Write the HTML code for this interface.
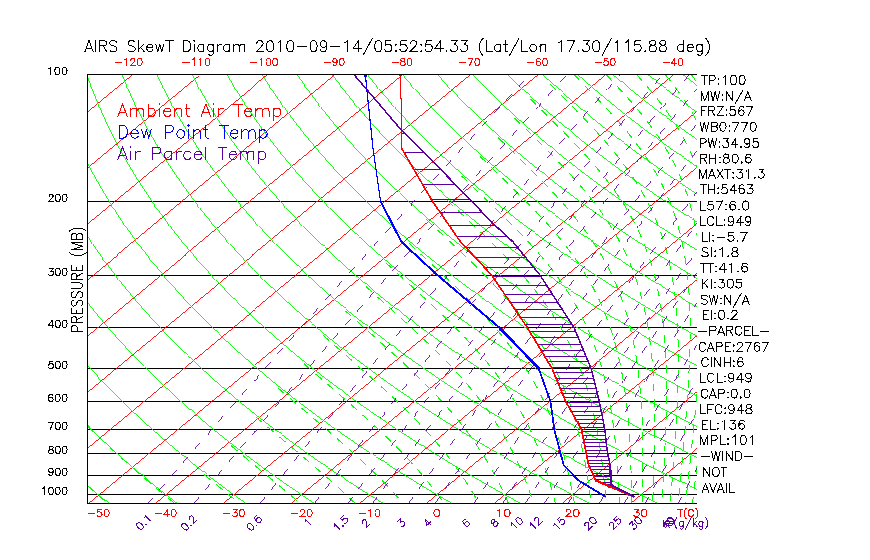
<!DOCTYPE html>
<html><head><meta charset="utf-8"><title>AIRS SkewT Diagram</title>
<style>
html,body{margin:0;padding:0;background:#fff;}
body{width:870px;height:560px;overflow:hidden;font-family:"Liberation Sans",sans-serif;}
svg{display:block;}
svg path{fill:none;stroke-width:1;shape-rendering:crispEdges}
.k{stroke:#000}
.r{stroke:#ff0000;stroke-width:.9}
.g{stroke:#00ff00;stroke-width:.9}
.gd{stroke:#00ff00;stroke-width:1;stroke-dasharray:8 7.5}
.wd{stroke:#5a00a0;stroke-width:.85;stroke-dasharray:8 10}
.hat{stroke:#5a00a0}
svg path.tT{stroke:#ff0000;stroke-linecap:round}svg path.tD{stroke:#0000ff;stroke-linecap:round}svg path.tP{stroke:#5a00a0;stroke-linecap:round}
svg path.tT.f{fill:#ff0000;stroke:none}svg path.tD.f{fill:#0000ff;stroke:none}svg path.tP.f{fill:#5a00a0;stroke:none}
.hpp{stroke:#5a00a0}
.hk path,.hr path,.hb path,.hp path,.hpp{stroke-linecap:square}
.hk path{stroke:#000}.hr path{stroke:#ff0000}.hb path{stroke:#0000ff}.hp path{stroke:#5a00a0}
</style></head><body>
<svg width="870" height="560" viewBox="0 0 870 560" role="img" aria-label="AIRS SkewT Diagram">
<rect width="870" height="560" fill="#fff"/>
<path class="k" d="M87.5 201.5 H697.0 M87.5 275.5 H697.0 M87.5 327.5 H697.0 M87.5 368.5 H697.0 M87.5 401.5 H697.0 M87.5 429.5 H697.0 M87.5 453.5 H697.0 M87.5 475.5 H697.0 M87.5 494.5 H697.0"/>
<path class="r" d="M87.5 111.2 L131.6 74.7 M87.5 167.2 L199.3 74.7 M87.5 223.3 L267.1 74.7 M87.5 279.4 L334.8 74.7 M87.5 335.4 L402.6 74.7 M87.5 391.5 L470.3 74.7 M87.5 447.5 L538.1 74.7 M87.5 503.6 L605.8 74.7 M155.2 503.6 L673.6 74.7 M223.0 503.6 L697.0 111.4 M290.8 503.6 L697.0 167.4 M358.5 503.6 L697.0 223.5 M426.2 503.6 L697.0 279.6 M494.0 503.6 L697.0 335.6 M561.8 503.6 L697.0 391.7 M629.5 503.6 L697.0 447.7"/>
<path class="g" d="M87.5 485.3 L87.8 485.6 L91.9 489.2 L96.1 492.8 L100.2 496.4 L104.5 500.0 L108.8 503.6 M87.5 425.8 L89.7 427.9 L93.4 431.5 L97.1 435.1 L100.9 438.7 L104.8 442.3 L108.7 445.9 L112.6 449.5 L116.6 453.1 L120.6 456.7 L124.7 460.3 L128.8 464.0 L133.0 467.6 L137.2 471.2 L141.5 474.8 L145.8 478.4 L150.2 482.0 L154.6 485.6 L159.1 489.2 L163.6 492.8 L168.2 496.4 L172.8 500.0 L177.5 503.6 M87.5 365.1 L88.8 366.6 L92.1 370.2 L95.5 373.8 L98.8 377.5 L102.2 381.1 L105.7 384.7 L109.2 388.3 L112.7 391.9 L116.3 395.5 L120.0 399.1 L123.6 402.7 L127.4 406.3 L131.1 409.9 L135.0 413.5 L138.8 417.1 L142.7 420.7 L146.7 424.3 L150.7 427.9 L154.8 431.5 L158.9 435.1 L163.0 438.7 L167.2 442.3 L171.4 445.9 L175.7 449.5 L180.1 453.1 L184.5 456.7 L188.9 460.3 L193.4 464.0 L197.9 467.6 L202.5 471.2 L207.2 474.8 L211.9 478.4 L216.6 482.0 L221.4 485.6 L226.3 489.2 L231.2 492.8 L236.1 496.4 L241.1 500.0 L246.2 503.6 M87.5 302.4 L89.8 305.4 L92.7 309.0 L95.6 312.6 L98.5 316.2 L101.5 319.8 L104.5 323.4 L107.6 327.0 L110.7 330.6 L113.9 334.2 L117.1 337.8 L120.3 341.4 L123.6 345.0 L127.0 348.6 L130.3 352.2 L133.8 355.8 L137.2 359.4 L140.7 363.0 L144.3 366.6 L147.9 370.2 L151.5 373.8 L155.2 377.5 L158.9 381.1 L162.7 384.7 L166.5 388.3 L170.4 391.9 L174.3 395.5 L178.3 399.1 L182.3 402.7 L186.4 406.3 L190.5 409.9 L194.6 413.5 L198.8 417.1 L203.1 420.7 L207.4 424.3 L211.7 427.9 L216.1 431.5 L220.6 435.1 L225.1 438.7 L229.6 442.3 L234.2 445.9 L238.9 449.5 L243.6 453.1 L248.3 456.7 L253.1 460.3 L258.0 464.0 L262.9 467.6 L267.8 471.2 L272.8 474.8 L277.9 478.4 L283.0 482.0 L288.2 485.6 L293.4 489.2 L298.7 492.8 L304.0 496.4 L309.4 500.0 L314.9 503.6 M87.5 236.1 L88.0 236.9 L90.4 240.5 L92.8 244.1 L95.3 247.7 L97.8 251.3 L100.3 254.9 L102.9 258.5 L105.5 262.1 L108.2 265.7 L110.9 269.3 L113.6 272.9 L116.4 276.5 L119.2 280.1 L122.1 283.7 L125.0 287.3 L128.0 291.0 L130.9 294.6 L134.0 298.2 L137.0 301.8 L140.1 305.4 L143.3 309.0 L146.5 312.6 L149.7 316.2 L153.0 319.8 L156.3 323.4 L159.7 327.0 L163.1 330.6 L166.6 334.2 L170.1 337.8 L173.6 341.4 L177.2 345.0 L180.8 348.6 L184.5 352.2 L188.2 355.8 L192.0 359.4 L195.8 363.0 L199.7 366.6 L203.6 370.2 L207.6 373.8 L211.6 377.5 L215.6 381.1 L219.7 384.7 L223.9 388.3 L228.1 391.9 L232.3 395.5 L236.6 399.1 L240.9 402.7 L245.3 406.3 L249.8 409.9 L254.3 413.5 L258.8 417.1 L263.4 420.7 L268.0 424.3 L272.7 427.9 L277.5 431.5 L282.3 435.1 L287.1 438.7 L292.0 442.3 L297.0 445.9 L302.0 449.5 L307.0 453.1 L312.1 456.7 L317.3 460.3 L322.5 464.0 L327.8 467.6 L333.1 471.2 L338.5 474.8 L343.9 478.4 L349.4 482.0 L355.0 485.6 L360.6 489.2 L366.3 492.8 L372.0 496.4 L377.7 500.0 L383.6 503.6 M87.5 163.2 L88.3 164.8 L90.2 168.4 L92.2 172.0 L94.1 175.6 L96.1 179.2 L98.2 182.8 L100.2 186.4 L102.4 190.0 L104.5 193.6 L106.7 197.2 L108.9 200.8 L111.2 204.5 L113.5 208.1 L115.8 211.7 L118.2 215.3 L120.6 218.9 L123.0 222.5 L125.5 226.1 L128.1 229.7 L130.6 233.3 L133.2 236.9 L135.9 240.5 L138.6 244.1 L141.3 247.7 L144.1 251.3 L146.9 254.9 L149.7 258.5 L152.6 262.1 L155.5 265.7 L158.5 269.3 L161.5 272.9 L164.5 276.5 L167.6 280.1 L170.8 283.7 L174.0 287.3 L177.2 291.0 L180.4 294.6 L183.7 298.2 L187.1 301.8 L190.5 305.4 L193.9 309.0 L197.4 312.6 L200.9 316.2 L204.5 319.8 L208.1 323.4 L211.8 327.0 L215.5 330.6 L219.3 334.2 L223.0 337.8 L226.9 341.4 L230.8 345.0 L234.7 348.6 L238.7 352.2 L242.7 355.8 L246.8 359.4 L251.0 363.0 L255.1 366.6 L259.4 370.2 L263.6 373.8 L267.9 377.5 L272.3 381.1 L276.7 384.7 L281.2 388.3 L285.7 391.9 L290.3 395.5 L294.9 399.1 L299.6 402.7 L304.3 406.3 L309.1 409.9 L313.9 413.5 L318.8 417.1 L323.7 420.7 L328.7 424.3 L333.7 427.9 L338.8 431.5 L344.0 435.1 L349.2 438.7 L354.4 442.3 L359.7 445.9 L365.1 449.5 L370.5 453.1 L376.0 456.7 L381.5 460.3 L387.1 464.0 L392.7 467.6 L398.4 471.2 L404.2 474.8 L410.0 478.4 L415.8 482.0 L421.8 485.6 L427.8 489.2 L433.8 492.8 L439.9 496.4 L446.1 500.0 L452.3 503.6 M87.5 76.3 L88.2 78.3 L89.5 81.9 L90.8 85.5 L92.2 89.1 L93.6 92.7 L95.0 96.3 L96.5 99.9 L98.0 103.5 L99.5 107.1 L101.1 110.7 L102.7 114.3 L104.3 118.0 L106.0 121.6 L107.7 125.2 L109.4 128.8 L111.2 132.4 L113.0 136.0 L114.9 139.6 L116.7 143.2 L118.6 146.8 L120.6 150.4 L122.6 154.0 L124.6 157.6 L126.6 161.2 L128.7 164.8 L130.8 168.4 L133.0 172.0 L135.2 175.6 L137.4 179.2 L139.7 182.8 L142.0 186.4 L144.4 190.0 L146.8 193.6 L149.2 197.2 L151.7 200.8 L154.2 204.5 L156.7 208.1 L159.3 211.7 L161.9 215.3 L164.6 218.9 L167.3 222.5 L170.0 226.1 L172.8 229.7 L175.6 233.3 L178.5 236.9 L181.4 240.5 L184.3 244.1 L187.3 247.7 L190.3 251.3 L193.4 254.9 L196.5 258.5 L199.6 262.1 L202.8 265.7 L206.1 269.3 L209.3 272.9 L212.7 276.5 L216.0 280.1 L219.4 283.7 L222.9 287.3 L226.4 291.0 L229.9 294.6 L233.5 298.2 L237.2 301.8 L240.8 305.4 L244.6 309.0 L248.3 312.6 L252.1 316.2 L256.0 319.8 L259.9 323.4 L263.9 327.0 L267.9 330.6 L271.9 334.2 L276.0 337.8 L280.2 341.4 L284.4 345.0 L288.6 348.6 L292.9 352.2 L297.2 355.8 L301.6 359.4 L306.1 363.0 L310.6 366.6 L315.1 370.2 L319.7 373.8 L324.3 377.5 L329.0 381.1 L333.8 384.7 L338.5 388.3 L343.4 391.9 L348.3 395.5 L353.2 399.1 L358.2 402.7 L363.3 406.3 L368.4 409.9 L373.6 413.5 L378.8 417.1 L384.1 420.7 L389.4 424.3 L394.8 427.9 L400.2 431.5 L405.7 435.1 L411.2 438.7 L416.8 442.3 L422.5 445.9 L428.2 449.5 L434.0 453.1 L439.8 456.7 L445.7 460.3 L451.6 464.0 L457.7 467.6 L463.7 471.2 L469.8 474.8 L476.0 478.4 L482.3 482.0 L488.6 485.6 L494.9 489.2 L501.3 492.8 L507.8 496.4 L514.4 500.0 L521.0 503.6 M122.0 74.7 L123.5 78.3 L125.0 81.9 L126.5 85.5 L128.1 89.1 L129.7 92.7 L131.3 96.3 L133.0 99.9 L134.7 103.5 L136.4 107.1 L138.2 110.7 L140.0 114.3 L141.9 118.0 L143.7 121.6 L145.7 125.2 L147.6 128.8 L149.6 132.4 L151.6 136.0 L153.7 139.6 L155.8 143.2 L157.9 146.8 L160.1 150.4 L162.3 154.0 L164.5 157.6 L166.8 161.2 L169.1 164.8 L171.5 168.4 L173.9 172.0 L176.3 175.6 L178.8 179.2 L181.3 182.8 L183.8 186.4 L186.4 190.0 L189.0 193.6 L191.7 197.2 L194.4 200.8 L197.1 204.5 L199.9 208.1 L202.7 211.7 L205.6 215.3 L208.5 218.9 L211.5 222.5 L214.5 226.1 L217.5 229.7 L220.6 233.3 L223.7 236.9 L226.8 240.5 L230.0 244.1 L233.3 247.7 L236.6 251.3 L239.9 254.9 L243.3 258.5 L246.7 262.1 L250.1 265.7 L253.6 269.3 L257.2 272.9 L260.8 276.5 L264.4 280.1 L268.1 283.7 L271.8 287.3 L275.6 291.0 L279.4 294.6 L283.3 298.2 L287.2 301.8 L291.2 305.4 L295.2 309.0 L299.3 312.6 L303.4 316.2 L307.5 319.8 L311.7 323.4 L316.0 327.0 L320.3 330.6 L324.6 334.2 L329.0 337.8 L333.4 341.4 L337.9 345.0 L342.5 348.6 L347.1 352.2 L351.7 355.8 L356.4 359.4 L361.2 363.0 L366.0 366.6 L370.8 370.2 L375.7 373.8 L380.7 377.5 L385.7 381.1 L390.8 384.7 L395.9 388.3 L401.1 391.9 L406.3 395.5 L411.6 399.1 L416.9 402.7 L422.3 406.3 L427.7 409.9 L433.2 413.5 L438.8 417.1 L444.4 420.7 L450.1 424.3 L455.8 427.9 L461.6 431.5 L467.4 435.1 L473.3 438.7 L479.2 442.3 L485.3 445.9 L491.3 449.5 L497.5 453.1 L503.7 456.7 L509.9 460.3 L516.2 464.0 L522.6 467.6 L529.0 471.2 L535.5 474.8 L542.1 478.4 L548.7 482.0 L555.4 485.6 L562.1 489.2 L568.9 492.8 L575.8 496.4 L582.7 500.0 L589.7 503.6 M157.1 74.7 L158.7 78.3 L160.4 81.9 L162.2 85.5 L163.9 89.1 L165.8 92.7 L167.6 96.3 L169.5 99.9 L171.4 103.5 L173.3 107.1 L175.3 110.7 L177.3 114.3 L179.4 118.0 L181.5 121.6 L183.6 125.2 L185.8 128.8 L188.0 132.4 L190.2 136.0 L192.5 139.6 L194.8 143.2 L197.2 146.8 L199.6 150.4 L202.0 154.0 L204.4 157.6 L207.0 161.2 L209.5 164.8 L212.1 168.4 L214.7 172.0 L217.4 175.6 L220.1 179.2 L222.8 182.8 L225.6 186.4 L228.4 190.0 L231.3 193.6 L234.2 197.2 L237.1 200.8 L240.1 204.5 L243.1 208.1 L246.2 211.7 L249.3 215.3 L252.5 218.9 L255.7 222.5 L258.9 226.1 L262.2 229.7 L265.5 233.3 L268.9 236.9 L272.3 240.5 L275.8 244.1 L279.3 247.7 L282.8 251.3 L286.4 254.9 L290.0 258.5 L293.7 262.1 L297.5 265.7 L301.2 269.3 L305.0 272.9 L308.9 276.5 L312.8 280.1 L316.8 283.7 L320.8 287.3 L324.8 291.0 L328.9 294.6 L333.1 298.2 L337.3 301.8 L341.5 305.4 L345.8 309.0 L350.2 312.6 L354.6 316.2 L359.0 319.8 L363.5 323.4 L368.0 327.0 L372.6 330.6 L377.3 334.2 L382.0 337.8 L386.7 341.4 L391.5 345.0 L396.4 348.6 L401.3 352.2 L406.2 355.8 L411.2 359.4 L416.3 363.0 L421.4 366.6 L426.6 370.2 L431.8 373.8 L437.1 377.5 L442.4 381.1 L447.8 384.7 L453.2 388.3 L458.7 391.9 L464.3 395.5 L469.9 399.1 L475.5 402.7 L481.3 406.3 L487.0 409.9 L492.9 413.5 L498.8 417.1 L504.7 420.7 L510.7 424.3 L516.8 427.9 L522.9 431.5 L529.1 435.1 L535.3 438.7 L541.7 442.3 L548.0 445.9 L554.4 449.5 L560.9 453.1 L567.5 456.7 L574.1 460.3 L580.8 464.0 L587.5 467.6 L594.3 471.2 L601.2 474.8 L608.1 478.4 L615.1 482.0 L622.1 485.6 L629.3 489.2 L636.4 492.8 L643.7 496.4 L651.0 500.0 L658.4 503.6 M192.1 74.7 L194.0 78.3 L195.9 81.9 L197.8 85.5 L199.8 89.1 L201.8 92.7 L203.9 96.3 L206.0 99.9 L208.1 103.5 L210.2 107.1 L212.4 110.7 L214.7 114.3 L216.9 118.0 L219.2 121.6 L221.6 125.2 L223.9 128.8 L226.4 132.4 L228.8 136.0 L231.3 139.6 L233.9 143.2 L236.4 146.8 L239.0 150.4 L241.7 154.0 L244.4 157.6 L247.1 161.2 L249.9 164.8 L252.7 168.4 L255.6 172.0 L258.4 175.6 L261.4 179.2 L264.4 182.8 L267.4 186.4 L270.4 190.0 L273.5 193.6 L276.7 197.2 L279.9 200.8 L283.1 204.5 L286.4 208.1 L289.7 211.7 L293.0 215.3 L296.4 218.9 L299.9 222.5 L303.4 226.1 L306.9 229.7 L310.5 233.3 L314.1 236.9 L317.8 240.5 L321.5 244.1 L325.3 247.7 L329.1 251.3 L332.9 254.9 L336.8 258.5 L340.8 262.1 L344.8 265.7 L348.8 269.3 L352.9 272.9 L357.0 276.5 L361.2 280.1 L365.5 283.7 L369.7 287.3 L374.1 291.0 L378.4 294.6 L382.9 298.2 L387.4 301.8 L391.9 305.4 L396.5 309.0 L401.1 312.6 L405.8 316.2 L410.5 319.8 L415.3 323.4 L420.1 327.0 L425.0 330.6 L430.0 334.2 L435.0 337.8 L440.0 341.4 L445.1 345.0 L450.2 348.6 L455.5 352.2 L460.7 355.8 L466.0 359.4 L471.4 363.0 L476.8 366.6 L482.3 370.2 L487.8 373.8 L493.4 377.5 L499.1 381.1 L504.8 384.7 L510.6 388.3 L516.4 391.9 L522.3 395.5 L528.2 399.1 L534.2 402.7 L540.2 406.3 L546.3 409.9 L552.5 413.5 L558.8 417.1 L565.0 420.7 L571.4 424.3 L577.8 427.9 L584.3 431.5 L590.8 435.1 L597.4 438.7 L604.1 442.3 L610.8 445.9 L617.6 449.5 L624.4 453.1 L631.3 456.7 L638.3 460.3 L645.3 464.0 L652.4 467.6 L659.6 471.2 L666.8 474.8 L674.1 478.4 L681.5 482.0 L688.9 485.6 L696.4 489.2 L697.0 489.5 M227.2 74.7 L229.3 78.3 L231.4 81.9 L233.5 85.5 L235.7 89.1 L237.9 92.7 L240.2 96.3 L242.4 99.9 L244.8 103.5 L247.1 107.1 L249.5 110.7 L252.0 114.3 L254.5 118.0 L257.0 121.6 L259.5 125.2 L262.1 128.8 L264.8 132.4 L267.4 136.0 L270.1 139.6 L272.9 143.2 L275.7 146.8 L278.5 150.4 L281.4 154.0 L284.3 157.6 L287.3 161.2 L290.3 164.8 L293.3 168.4 L296.4 172.0 L299.5 175.6 L302.7 179.2 L305.9 182.8 L309.2 186.4 L312.5 190.0 L315.8 193.6 L319.2 197.2 L322.6 200.8 L326.1 204.5 L329.6 208.1 L333.2 211.7 L336.8 215.3 L340.4 218.9 L344.1 222.5 L347.8 226.1 L351.6 229.7 L355.5 233.3 L359.3 236.9 L363.3 240.5 L367.2 244.1 L371.3 247.7 L375.3 251.3 L379.4 254.9 L383.6 258.5 L387.8 262.1 L392.1 265.7 L396.4 269.3 L400.8 272.9 L405.2 276.5 L409.6 280.1 L414.1 283.7 L418.7 287.3 L423.3 291.0 L427.9 294.6 L432.7 298.2 L437.4 301.8 L442.2 305.4 L447.1 309.0 L452.0 312.6 L457.0 316.2 L462.0 319.8 L467.1 323.4 L472.2 327.0 L477.4 330.6 L482.6 334.2 L487.9 337.8 L493.3 341.4 L498.7 345.0 L504.1 348.6 L509.6 352.2 L515.2 355.8 L520.8 359.4 L526.5 363.0 L532.3 366.6 L538.0 370.2 L543.9 373.8 L549.8 377.5 L555.8 381.1 L561.8 384.7 L567.9 388.3 L574.0 391.9 L580.2 395.5 L586.5 399.1 L592.8 402.7 L599.2 406.3 L605.7 409.9 L612.2 413.5 L618.7 417.1 L625.4 420.7 L632.1 424.3 L638.8 427.9 L645.6 431.5 L652.5 435.1 L659.5 438.7 L666.5 442.3 L673.5 445.9 L680.7 449.5 L687.9 453.1 L695.2 456.7 L697.0 457.6 M262.3 74.7 L264.5 78.3 L266.8 81.9 L269.2 85.5 L271.6 89.1 L274.0 92.7 L276.4 96.3 L278.9 99.9 L281.5 103.5 L284.0 107.1 L286.6 110.7 L289.3 114.3 L292.0 118.0 L294.7 121.6 L297.5 125.2 L300.3 128.8 L303.1 132.4 L306.0 136.0 L309.0 139.6 L311.9 143.2 L315.0 146.8 L318.0 150.4 L321.1 154.0 L324.3 157.6 L327.4 161.2 L330.7 164.8 L333.9 168.4 L337.2 172.0 L340.6 175.6 L344.0 179.2 L347.5 182.8 L350.9 186.4 L354.5 190.0 L358.1 193.6 L361.7 197.2 L365.3 200.8 L369.1 204.5 L372.8 208.1 L376.6 211.7 L380.5 215.3 L384.4 218.9 L388.3 222.5 L392.3 226.1 L396.3 229.7 L400.4 233.3 L404.6 236.9 L408.7 240.5 L413.0 244.1 L417.3 247.7 L421.6 251.3 L426.0 254.9 L430.4 258.5 L434.9 262.1 L439.4 265.7 L444.0 269.3 L448.6 272.9 L453.3 276.5 L458.0 280.1 L462.8 283.7 L467.6 287.3 L472.5 291.0 L477.5 294.6 L482.4 298.2 L487.5 301.8 L492.6 305.4 L497.7 309.0 L502.9 312.6 L508.2 316.2 L513.5 319.8 L518.9 323.4 L524.3 327.0 L529.8 330.6 L535.3 334.2 L540.9 337.8 L546.5 341.4 L552.3 345.0 L558.0 348.6 L563.8 352.2 L569.7 355.8 L575.6 359.4 L581.6 363.0 L587.7 366.6 L593.8 370.2 L600.0 373.8 L606.2 377.5 L612.5 381.1 L618.8 384.7 L625.2 388.3 L631.7 391.9 L638.2 395.5 L644.8 399.1 L651.5 402.7 L658.2 406.3 L665.0 409.9 L671.8 413.5 L678.7 417.1 L685.7 420.7 L692.7 424.3 L697.0 426.5 M297.3 74.7 L299.8 78.3 L302.3 81.9 L304.8 85.5 L307.4 89.1 L310.0 92.7 L312.7 96.3 L315.4 99.9 L318.1 103.5 L320.9 107.1 L323.7 110.7 L326.6 114.3 L329.5 118.0 L332.4 121.6 L335.4 125.2 L338.5 128.8 L341.5 132.4 L344.6 136.0 L347.8 139.6 L351.0 143.2 L354.2 146.8 L357.5 150.4 L360.8 154.0 L364.2 157.6 L367.6 161.2 L371.1 164.8 L374.6 168.4 L378.1 172.0 L381.7 175.6 L385.3 179.2 L389.0 182.8 L392.7 186.4 L396.5 190.0 L400.3 193.6 L404.2 197.2 L408.1 200.8 L412.0 204.5 L416.0 208.1 L420.1 211.7 L424.2 215.3 L428.3 218.9 L432.5 222.5 L436.8 226.1 L441.1 229.7 L445.4 233.3 L449.8 236.9 L454.2 240.5 L458.7 244.1 L463.3 247.7 L467.8 251.3 L472.5 254.9 L477.2 258.5 L481.9 262.1 L486.7 265.7 L491.6 269.3 L496.5 272.9 L501.4 276.5 L506.4 280.1 L511.5 283.7 L516.6 287.3 L521.7 291.0 L527.0 294.6 L532.2 298.2 L537.6 301.8 L542.9 305.4 L548.4 309.0 L553.9 312.6 L559.4 316.2 L565.0 319.8 L570.7 323.4 L576.4 327.0 L582.2 330.6 L588.0 334.2 L593.9 337.8 L599.8 341.4 L605.8 345.0 L611.9 348.6 L618.0 352.2 L624.2 355.8 L630.4 359.4 L636.7 363.0 L643.1 366.6 L649.5 370.2 L656.0 373.8 L662.6 377.5 L669.2 381.1 L675.8 384.7 L682.6 388.3 L689.4 391.9 L696.2 395.5 L697.0 395.9 M332.4 74.7 L335.1 78.3 L337.8 81.9 L340.5 85.5 L343.3 89.1 L346.1 92.7 L349.0 96.3 L351.9 99.9 L354.8 103.5 L357.8 107.1 L360.9 110.7 L363.9 114.3 L367.0 118.0 L370.2 121.6 L373.4 125.2 L376.6 128.8 L379.9 132.4 L383.2 136.0 L386.6 139.6 L390.0 143.2 L393.5 146.8 L397.0 150.4 L400.5 154.0 L404.1 157.6 L407.8 161.2 L411.4 164.8 L415.2 168.4 L418.9 172.0 L422.8 175.6 L426.6 179.2 L430.5 182.8 L434.5 186.4 L438.5 190.0 L442.6 193.6 L446.7 197.2 L450.8 200.8 L455.0 204.5 L459.3 208.1 L463.6 211.7 L467.9 215.3 L472.3 218.9 L476.7 222.5 L481.2 226.1 L485.8 229.7 L490.4 233.3 L495.0 236.9 L499.7 240.5 L504.5 244.1 L509.3 247.7 L514.1 251.3 L519.0 254.9 L524.0 258.5 L529.0 262.1 L534.0 265.7 L539.1 269.3 L544.3 272.9 L549.5 276.5 L554.8 280.1 L560.1 283.7 L565.5 287.3 L571.0 291.0 L576.5 294.6 L582.0 298.2 L587.6 301.8 L593.3 305.4 L599.0 309.0 L604.8 312.6 L610.6 316.2 L616.5 319.8 L622.5 323.4 L628.5 327.0 L634.5 330.6 L640.7 334.2 L646.9 337.8 L653.1 341.4 L659.4 345.0 L665.8 348.6 L672.2 352.2 L678.7 355.8 L685.2 359.4 L691.9 363.0 L697.0 365.8 M367.5 74.7 L370.3 78.3 L373.2 81.9 L376.2 85.5 L379.2 89.1 L382.2 92.7 L385.3 96.3 L388.4 99.9 L391.5 103.5 L394.7 107.1 L398.0 110.7 L401.2 114.3 L404.6 118.0 L407.9 121.6 L411.3 125.2 L414.8 128.8 L418.3 132.4 L421.8 136.0 L425.4 139.6 L429.1 143.2 L432.7 146.8 L436.5 150.4 L440.2 154.0 L444.1 157.6 L447.9 161.2 L451.8 164.8 L455.8 168.4 L459.8 172.0 L463.8 175.6 L467.9 179.2 L472.1 182.8 L476.3 186.4 L480.5 190.0 L484.8 193.6 L489.2 197.2 L493.6 200.8 L498.0 204.5 L502.5 208.1 L507.0 211.7 L511.6 215.3 L516.3 218.9 L520.9 222.5 L525.7 226.1 L530.5 229.7 L535.3 233.3 L540.2 236.9 L545.2 240.5 L550.2 244.1 L555.2 247.7 L560.4 251.3 L565.5 254.9 L570.7 258.5 L576.0 262.1 L581.3 265.7 L586.7 269.3 L592.2 272.9 L597.7 276.5 L603.2 280.1 L608.8 283.7 L614.5 287.3 L620.2 291.0 L626.0 294.6 L631.8 298.2 L637.7 301.8 L643.6 305.4 L649.6 309.0 L655.7 312.6 L661.8 316.2 L668.0 319.8 L674.3 323.4 L680.6 327.0 L686.9 330.6 L693.3 334.2 L697.0 336.2 M402.5 74.7 L405.6 78.3 L408.7 81.9 L411.8 85.5 L415.0 89.1 L418.3 92.7 L421.5 96.3 L424.9 99.9 L428.2 103.5 L431.6 107.1 L435.1 110.7 L438.6 114.3 L442.1 118.0 L445.7 121.6 L449.3 125.2 L453.0 128.8 L456.7 132.4 L460.4 136.0 L464.3 139.6 L468.1 143.2 L472.0 146.8 L476.0 150.4 L480.0 154.0 L484.0 157.6 L488.1 161.2 L492.2 164.8 L496.4 168.4 L500.6 172.0 L504.9 175.6 L509.3 179.2 L513.6 182.8 L518.1 186.4 L522.6 190.0 L527.1 193.6 L531.7 197.2 L536.3 200.8 L541.0 204.5 L545.7 208.1 L550.5 211.7 L555.3 215.3 L560.2 218.9 L565.2 222.5 L570.2 226.1 L575.2 229.7 L580.3 233.3 L585.5 236.9 L590.7 240.5 L595.9 244.1 L601.2 247.7 L606.6 251.3 L612.0 254.9 L617.5 258.5 L623.1 262.1 L628.7 265.7 L634.3 269.3 L640.0 272.9 L645.8 276.5 L651.6 280.1 L657.5 283.7 L663.4 287.3 L669.4 291.0 L675.5 294.6 L681.6 298.2 L687.7 301.8 L694.0 305.4 L697.0 307.1 M437.6 74.7 L440.9 78.3 L444.2 81.9 L447.5 85.5 L450.9 89.1 L454.3 92.7 L457.8 96.3 L461.3 99.9 L464.9 103.5 L468.5 107.1 L472.2 110.7 L475.9 114.3 L479.6 118.0 L483.4 121.6 L487.3 125.2 L491.1 128.8 L495.1 132.4 L499.1 136.0 L503.1 139.6 L507.2 143.2 L511.3 146.8 L515.4 150.4 L519.7 154.0 L523.9 157.6 L528.2 161.2 L532.6 164.8 L537.0 168.4 L541.5 172.0 L546.0 175.6 L550.6 179.2 L555.2 182.8 L559.9 186.4 L564.6 190.0 L569.3 193.6 L574.2 197.2 L579.0 200.8 L584.0 204.5 L588.9 208.1 L594.0 211.7 L599.0 215.3 L604.2 218.9 L609.4 222.5 L614.6 226.1 L619.9 229.7 L625.3 233.3 L630.7 236.9 L636.1 240.5 L641.7 244.1 L647.2 247.7 L652.9 251.3 L658.6 254.9 L664.3 258.5 L670.1 262.1 L676.0 265.7 L681.9 269.3 L687.9 272.9 L693.9 276.5 L697.0 278.4 M472.7 74.7 L476.1 78.3 L479.6 81.9 L483.2 85.5 L486.8 89.1 L490.4 92.7 L494.1 96.3 L497.8 99.9 L501.6 103.5 L505.4 107.1 L509.3 110.7 L513.2 114.3 L517.1 118.0 L521.2 121.6 L525.2 125.2 L529.3 128.8 L533.5 132.4 L537.7 136.0 L541.9 139.6 L546.2 143.2 L550.5 146.8 L554.9 150.4 L559.4 154.0 L563.9 157.6 L568.4 161.2 L573.0 164.8 L577.6 168.4 L582.3 172.0 L587.1 175.6 L591.9 179.2 L596.7 182.8 L601.6 186.4 L606.6 190.0 L611.6 193.6 L616.7 197.2 L621.8 200.8 L626.9 204.5 L632.2 208.1 L637.4 211.7 L642.8 215.3 L648.1 218.9 L653.6 222.5 L659.1 226.1 L664.6 229.7 L670.2 233.3 L675.9 236.9 L681.6 240.5 L687.4 244.1 L693.2 247.7 L697.0 250.0 M507.7 74.7 L511.4 78.3 L515.1 81.9 L518.9 85.5 L522.6 89.1 L526.5 92.7 L530.4 96.3 L534.3 99.9 L538.3 103.5 L542.3 107.1 L546.4 110.7 L550.5 114.3 L554.7 118.0 L558.9 121.6 L563.2 125.2 L567.5 128.8 L571.8 132.4 L576.3 136.0 L580.7 139.6 L585.2 143.2 L589.8 146.8 L594.4 150.4 L599.1 154.0 L603.8 157.6 L608.6 161.2 L613.4 164.8 L618.3 168.4 L623.2 172.0 L628.2 175.6 L633.2 179.2 L638.3 182.8 L643.4 186.4 L648.6 190.0 L653.9 193.6 L659.2 197.2 L664.5 200.8 L669.9 204.5 L675.4 208.1 L680.9 211.7 L686.5 215.3 L692.1 218.9 L697.0 222.0 M542.8 74.7 L546.7 78.3 L550.6 81.9 L554.5 85.5 L558.5 89.1 L562.6 92.7 L566.6 96.3 L570.8 99.9 L575.0 103.5 L579.2 107.1 L583.5 110.7 L587.8 114.3 L592.2 118.0 L596.6 121.6 L601.1 125.2 L605.7 128.8 L610.2 132.4 L614.9 136.0 L619.5 139.6 L624.3 143.2 L629.1 146.8 L633.9 150.4 L638.8 154.0 L643.7 157.6 L648.7 161.2 L653.8 164.8 L658.9 168.4 L664.0 172.0 L669.2 175.6 L674.5 179.2 L679.8 182.8 L685.2 186.4 L690.6 190.0 L696.1 193.6 L697.0 194.2 M577.9 74.7 L581.9 78.3 L586.0 81.9 L590.2 85.5 L594.4 89.1 L598.6 92.7 L602.9 96.3 L607.3 99.9 L611.7 103.5 L616.1 107.1 L620.6 110.7 L625.1 114.3 L629.7 118.0 L634.4 121.6 L639.1 125.2 L643.8 128.8 L648.6 132.4 L653.5 136.0 L658.4 139.6 L663.3 143.2 L668.3 146.8 L673.4 150.4 L678.5 154.0 L683.7 157.6 L688.9 161.2 L694.2 164.8 L697.0 166.7 M612.9 74.7 L617.2 78.3 L621.5 81.9 L625.9 85.5 L630.3 89.1 L634.7 92.7 L639.2 96.3 L643.8 99.9 L648.4 103.5 L653.0 107.1 L657.7 110.7 L662.5 114.3 L667.3 118.0 L672.1 121.6 L677.0 125.2 L682.0 128.8 L687.0 132.4 L692.1 136.0 L697.0 139.4 M648.0 74.7 L652.5 78.3 L657.0 81.9 L661.5 85.5 L666.1 89.1 L670.8 92.7 L675.5 96.3 L680.2 99.9 L685.0 103.5 L689.9 107.1 L694.8 110.7 L697.0 112.3 M683.1 74.7 L687.7 78.3 L692.4 81.9 L697.0 85.4"/>
<path class="gd" d="M87.5 485.7 L91.3 489.1 L96.8 494.0 L102.3 498.8 L107.9 503.6 M87.5 425.9 L88.1 426.5 L93.0 431.3 L97.9 436.1 L103.0 441.0 L108.1 445.8 L113.3 450.6 L118.6 455.4 L124.0 460.2 L129.4 465.0 L134.9 469.9 L140.4 474.7 L146.0 479.5 L151.7 484.3 L157.4 489.1 L163.2 494.0 L169.0 498.8 L174.9 503.6 M204.3 474.7 L210.1 479.5 L216.0 484.3 L221.9 489.1 L227.8 494.0 L233.8 498.8 L239.7 503.6 M231.1 445.8 L236.9 450.6 L242.7 455.4 L248.5 460.2 L254.3 465.0 L260.1 469.9 L266.0 474.7 L271.8 479.5 L277.6 484.3 L283.4 489.1 L289.1 494.0 L294.8 498.8 L300.5 503.6 M255.6 416.9 L261.3 421.7 L267.0 426.5 L272.7 431.3 L278.5 436.1 L284.2 441.0 L290.0 445.8 L295.7 450.6 L301.4 455.4 L307.1 460.2 L312.7 465.0 L318.3 469.9 L323.8 474.7 L329.3 479.5 L334.7 484.3 L340.0 489.1 L345.2 494.0 L350.4 498.8 L355.4 503.6 M278.0 387.9 L283.6 392.8 L289.3 397.6 L294.9 402.4 L300.5 407.2 L306.2 412.0 L311.8 416.9 L317.5 421.7 L323.1 426.5 L328.7 431.3 L334.2 436.1 L339.7 441.0 L345.2 445.8 L350.5 450.6 L355.8 455.4 L361.0 460.2 L366.2 465.0 L371.2 469.9 L376.1 474.7 L381.0 479.5 L385.7 484.3 L390.3 489.1 L394.8 494.0 L399.1 498.8 L403.4 503.6 M304.1 363.8 L309.6 368.7 L315.1 373.5 L320.7 378.3 L326.3 383.1 L331.9 387.9 L337.4 392.8 L342.9 397.6 L348.5 402.4 L353.9 407.2 L359.3 412.0 L364.7 416.9 L370.0 421.7 L375.2 426.5 L380.4 431.3 L385.4 436.1 L390.4 441.0 L395.2 445.8 L400.0 450.6 L404.6 455.4 L409.1 460.2 L413.5 465.0 L417.8 469.9 L422.0 474.7 L426.0 479.5 L429.9 484.3 L433.7 489.1 L437.4 494.0 L440.9 498.8 L444.3 503.6 M322.8 334.9 L328.2 339.8 L333.7 344.6 L339.2 349.4 L344.7 354.2 L350.2 359.0 L355.6 363.8 L361.1 368.7 L366.6 373.5 L372.0 378.3 L377.3 383.1 L382.6 387.9 L387.9 392.8 L393.0 397.6 L398.1 402.4 L403.1 407.2 L408.0 412.0 L412.8 416.9 L417.5 421.7 L422.1 426.5 L426.6 431.3 L430.9 436.1 L435.1 441.0 L439.2 445.8 L443.2 450.6 L447.1 455.4 L450.8 460.2 L454.4 465.0 L457.9 469.9 L461.2 474.7 L464.5 479.5 L467.6 484.3 L470.6 489.1 L473.5 494.0 L476.3 498.8 L479.0 503.6 M345.3 310.8 L350.7 315.7 L356.1 320.5 L361.5 325.3 L366.9 330.1 L372.3 334.9 L377.7 339.8 L383.1 344.6 L388.5 349.4 L393.8 354.2 L399.0 359.0 L404.2 363.8 L409.4 368.7 L414.4 373.5 L419.4 378.3 L424.3 383.1 L429.1 387.9 L433.7 392.8 L438.3 397.6 L442.7 402.4 L447.1 407.2 L451.3 412.0 L455.3 416.9 L459.3 421.7 L463.1 426.5 L466.8 431.3 L470.4 436.1 L473.8 441.0 L477.1 445.8 L480.3 450.6 L483.4 455.4 L486.4 460.2 L489.2 465.0 L492.0 469.9 L494.6 474.7 L497.2 479.5 L499.6 484.3 L502.0 489.1 L504.2 494.0 L506.4 498.8 L508.5 503.6 M366.2 286.7 L371.5 291.6 L376.9 296.4 L382.2 301.2 L387.6 306.0 L392.9 310.8 L398.3 315.7 L403.6 320.5 L408.8 325.3 L414.1 330.1 L419.3 334.9 L424.4 339.8 L429.4 344.6 L434.4 349.4 L439.3 354.2 L444.0 359.0 L448.7 363.8 L453.3 368.7 L457.7 373.5 L462.1 378.3 L466.3 383.1 L470.3 387.9 L474.3 392.8 L478.1 397.6 L481.8 402.4 L485.4 407.2 L488.8 412.0 L492.1 416.9 L495.3 421.7 L498.4 426.5 L501.3 431.3 L504.2 436.1 L506.9 441.0 L509.5 445.8 L512.0 450.6 L514.4 455.4 L516.7 460.2 L518.9 465.0 L521.0 469.9 L523.1 474.7 L525.0 479.5 L526.9 484.3 L528.7 489.1 L530.4 494.0 L532.1 498.8 L533.7 503.6 M385.7 262.6 L391.0 267.5 L396.3 272.3 L401.5 277.1 L406.8 281.9 L412.1 286.7 L417.4 291.6 L422.6 296.4 L427.8 301.2 L433.0 306.0 L438.1 310.8 L443.1 315.7 L448.1 320.5 L453.0 325.3 L457.8 330.1 L462.5 334.9 L467.1 339.8 L471.6 344.6 L475.9 349.4 L480.2 354.2 L484.3 359.0 L488.3 363.8 L492.1 368.7 L495.9 373.5 L499.4 378.3 L502.9 383.1 L506.3 387.9 L509.5 392.8 L512.5 397.6 L515.5 402.4 L518.3 407.2 L521.1 412.0 L523.7 416.9 L526.2 421.7 L528.6 426.5 L530.9 431.3 L533.1 436.1 L535.2 441.0 L537.2 445.8 L539.1 450.6 L540.9 455.4 L542.7 460.2 L544.3 465.0 L546.0 469.9 L547.5 474.7 L549.0 479.5 L550.4 484.3 L551.7 489.1 L553.0 494.0 L554.2 498.8 L555.4 503.6 M409.1 243.4 L414.3 248.2 L419.5 253.0 L424.8 257.8 L430.0 262.6 L435.2 267.5 L440.4 272.3 L445.5 277.1 L450.6 281.9 L455.7 286.7 L460.6 291.6 L465.5 296.4 L470.4 301.2 L475.1 306.0 L479.8 310.8 L484.3 315.7 L488.7 320.5 L493.0 325.3 L497.2 330.1 L501.2 334.9 L505.2 339.8 L508.9 344.6 L512.6 349.4 L516.1 354.2 L519.5 359.0 L522.8 363.8 L525.9 368.7 L528.9 373.5 L531.8 378.3 L534.5 383.1 L537.2 387.9 L539.7 392.8 L542.1 397.6 L544.4 402.4 L546.6 407.2 L548.7 412.0 L550.7 416.9 L552.6 421.7 L554.5 426.5 L556.2 431.3 L557.9 436.1 L559.4 441.0 L561.0 445.8 L562.4 450.6 L563.8 455.4 L565.1 460.2 L566.3 465.0 L567.5 469.9 L568.6 474.7 L569.7 479.5 L570.7 484.3 L571.7 489.1 L572.7 494.0 L573.6 498.8 L574.4 503.6 M426.0 219.3 L431.1 224.1 L436.3 228.9 L441.5 233.7 L446.6 238.5 L451.8 243.4 L456.9 248.2 L462.0 253.0 L467.0 257.8 L472.0 262.6 L477.0 267.5 L481.9 272.3 L486.6 277.1 L491.3 281.9 L495.9 286.7 L500.4 291.6 L504.8 296.4 L509.1 301.2 L513.2 306.0 L517.2 310.8 L521.1 315.7 L524.8 320.5 L528.4 325.3 L531.9 330.1 L535.3 334.9 L538.5 339.8 L541.5 344.6 L544.5 349.4 L547.3 354.2 L550.0 359.0 L552.6 363.8 L555.0 368.7 L557.4 373.5 L559.6 378.3 L561.8 383.1 L563.8 387.9 L565.7 392.8 L567.6 397.6 L569.3 402.4 L571.0 407.2 L572.6 412.0 L574.1 416.9 L575.5 421.7 L576.8 426.5 L578.1 431.3 L579.3 436.1 L580.5 441.0 L581.6 445.8 L582.7 450.6 L583.6 455.4 L584.6 460.2 L585.5 465.0 L586.3 469.9 L587.1 474.7 L587.9 479.5 L588.6 484.3 L589.3 489.1 L590.0 494.0 L590.6 498.8 L591.2 503.6 M446.9 200.0 L451.9 204.8 L457.1 209.6 L462.2 214.5 L467.3 219.3 L472.3 224.1 L477.4 228.9 L482.4 233.7 L487.4 238.5 L492.3 243.4 L497.1 248.2 L501.9 253.0 L506.5 257.8 L511.1 262.6 L515.6 267.5 L519.9 272.3 L524.2 277.1 L528.3 281.9 L532.3 286.7 L536.1 291.6 L539.9 296.4 L543.5 301.2 L546.9 306.0 L550.2 310.8 L553.4 315.7 L556.4 320.5 L559.4 325.3 L562.1 330.1 L564.8 334.9 L567.3 339.8 L569.8 344.6 L572.1 349.4 L574.3 354.2 L576.3 359.0 L578.3 363.8 L580.2 368.7 L582.0 373.5 L583.7 378.3 L585.3 383.1 L586.8 387.9 L588.2 392.8 L589.6 397.6 L590.9 402.4 L592.1 407.2 L593.2 412.0 L594.3 416.9 L595.4 421.7 L596.3 426.5 L597.3 431.3 L598.1 436.1 L598.9 441.0 L599.7 445.8 L600.4 450.6 L601.1 455.4 L601.8 460.2 L602.4 465.0 L602.9 469.9 L603.5 474.7 L604.0 479.5 L604.5 484.3 L604.9 489.1 L605.3 494.0 L605.7 498.8 L606.1 503.6 M461.5 175.9 L466.6 180.7 L471.6 185.5 L476.6 190.4 L481.7 195.2 L486.7 200.0 L491.7 204.8 L496.7 209.6 L501.7 214.5 L506.5 219.3 L511.4 224.1 L516.1 228.9 L520.8 233.7 L525.3 238.5 L529.8 243.4 L534.2 248.2 L538.4 253.0 L542.5 257.8 L546.5 262.6 L550.4 267.5 L554.1 272.3 L557.7 277.1 L561.1 281.9 L564.4 286.7 L567.6 291.6 L570.7 296.4 L573.6 301.2 L576.3 306.0 L579.0 310.8 L581.5 315.7 L583.9 320.5 L586.2 325.3 L588.3 330.1 L590.4 334.9 L592.3 339.8 L594.2 344.6 L595.9 349.4 L597.6 354.2 L599.1 359.0 L600.6 363.8 L602.0 368.7 L603.3 373.5 L604.6 378.3 L605.7 383.1 L606.8 387.9 L607.8 392.8 L608.8 397.6 L609.7 402.4 L610.6 407.2 L611.4 412.0 L612.1 416.9 L612.8 421.7 L613.5 426.5 L614.1 431.3 L614.7 436.1 L615.2 441.0 L615.7 445.8 L616.2 450.6 L616.6 455.4 L617.0 460.2 L617.4 465.0 L617.7 469.9 L618.0 474.7 L618.3 479.5 L618.6 484.3 L618.8 489.1 L619.1 494.0 L619.3 498.8 L619.5 503.6 M480.2 156.6 L485.2 161.4 L490.2 166.3 L495.2 171.1 L500.2 175.9 L505.1 180.7 L510.1 185.5 L515.0 190.4 L519.9 195.2 L524.7 200.0 L529.4 204.8 L534.1 209.6 L538.6 214.5 L543.1 219.3 L547.5 224.1 L551.8 228.9 L555.9 233.7 L559.9 238.5 L563.8 243.4 L567.5 248.2 L571.2 253.0 L574.6 257.8 L578.0 262.6 L581.2 267.5 L584.2 272.3 L587.1 277.1 L589.9 281.9 L592.6 286.7 L595.1 291.6 L597.5 296.4 L599.8 301.2 L601.9 306.0 L604.0 310.8 L605.9 315.7 L607.7 320.5 L609.5 325.3 L611.1 330.1 L612.6 334.9 L614.1 339.8 L615.4 344.6 L616.7 349.4 L617.9 354.2 L619.0 359.0 L620.1 363.8 L621.1 368.7 L622.0 373.5 L622.9 378.3 L623.7 383.1 L624.4 387.9 L625.1 392.8 L625.8 397.6 L626.4 402.4 L626.9 407.2 L627.4 412.0 L627.9 416.9 L628.3 421.7 L628.7 426.5 L629.1 431.3 L629.4 436.1 L629.7 441.0 L630.0 445.8 L630.2 450.6 L630.5 455.4 L630.6 460.2 L630.8 465.0 L631.0 469.9 L631.1 474.7 L631.2 479.5 L631.3 484.3 L631.4 489.1 L631.5 494.0 L631.5 498.8 L631.5 503.6 M497.9 137.3 L502.8 142.2 L507.7 147.0 L512.7 151.8 L517.6 156.6 L522.5 161.4 L527.4 166.3 L532.3 171.1 L537.1 175.9 L541.8 180.7 L546.5 185.5 L551.1 190.4 L555.6 195.2 L560.0 200.0 L564.3 204.8 L568.5 209.6 L572.5 214.5 L576.4 219.3 L580.2 224.1 L583.9 228.9 L587.4 233.7 L590.8 238.5 L594.0 243.4 L597.1 248.2 L600.1 253.0 L602.9 257.8 L605.6 262.6 L608.1 267.5 L610.5 272.3 L612.8 277.1 L615.0 281.9 L617.1 286.7 L619.0 291.6 L620.8 296.4 L622.6 301.2 L624.2 306.0 L625.7 310.8 L627.1 315.7 L628.5 320.5 L629.8 325.3 L630.9 330.1 L632.0 334.9 L633.1 339.8 L634.0 344.6 L634.9 349.4 L635.7 354.2 L636.5 359.0 L637.2 363.8 L637.9 368.7 L638.5 373.5 L639.0 378.3 L639.5 383.1 L640.0 387.9 L640.4 392.8 L640.8 397.6 L641.1 402.4 L641.4 407.2 L641.7 412.0 L642.0 416.9 L642.2 421.7 L642.3 426.5 L642.5 431.3 L642.6 436.1 L642.7 441.0 L642.8 445.8 L642.9 450.6 L642.9 455.4 L642.9 460.2 L643.0 465.0 L642.9 469.9 L642.9 474.7 L642.9 479.5 L642.8 484.3 L642.8 489.1 L642.7 494.0 L642.6 498.8 L642.5 503.6 M514.6 118.1 L519.5 122.9 L524.4 127.7 L529.3 132.5 L534.2 137.3 L539.0 142.2 L543.9 147.0 L548.7 151.8 L553.4 156.6 L558.1 161.4 L562.7 166.3 L567.2 171.1 L571.7 175.9 L576.0 180.7 L580.3 185.5 L584.4 190.4 L588.3 195.2 L592.2 200.0 L595.9 204.8 L599.5 209.6 L602.9 214.5 L606.2 219.3 L609.4 224.1 L612.4 228.9 L615.3 233.7 L618.0 238.5 L620.6 243.4 L623.1 248.2 L625.4 253.0 L627.6 257.8 L629.7 262.6 L631.7 267.5 L633.5 272.3 L635.3 277.1 L636.9 281.9 L638.4 286.7 L639.9 291.6 L641.2 296.4 L642.5 301.2 L643.7 306.0 L644.8 310.8 L645.8 315.7 L646.7 320.5 L647.6 325.3 L648.4 330.1 L649.1 334.9 L649.8 339.8 L650.4 344.6 L651.0 349.4 L651.5 354.2 L652.0 359.0 L652.4 363.8 L652.8 368.7 L653.1 373.5 L653.4 378.3 L653.7 383.1 L653.9 387.9 L654.1 392.8 L654.3 397.6 L654.4 402.4 L654.5 407.2 L654.6 412.0 L654.6 416.9 L654.6 421.7 L654.6 426.5 L654.6 431.3 L654.6 436.1 L654.5 441.0 L654.4 445.8 L654.3 450.6 L654.2 455.4 L654.1 460.2 L654.0 465.0 L653.8 469.9 L653.7 474.7 L653.5 479.5 L653.3 484.3 L653.2 489.1 L653.0 494.0 L652.8 498.8 L652.6 503.6 M530.4 98.8 L535.3 103.6 L540.1 108.4 L545.0 113.3 L549.8 118.1 L554.6 122.9 L559.4 127.7 L564.2 132.5 L568.9 137.3 L573.5 142.2 L578.1 147.0 L582.6 151.8 L587.0 156.6 L591.3 161.4 L595.4 166.3 L599.5 171.1 L603.4 175.9 L607.2 180.7 L610.9 185.5 L614.4 190.4 L617.8 195.2 L621.0 200.0 L624.1 204.8 L627.1 209.6 L629.9 214.5 L632.5 219.3 L635.1 224.1 L637.5 228.9 L639.7 233.7 L641.9 238.5 L643.9 243.4 L645.8 248.2 L647.6 253.0 L649.2 257.8 L650.8 262.6 L652.3 267.5 L653.6 272.3 L654.9 277.1 L656.1 281.9 L657.2 286.7 L658.2 291.6 L659.2 296.4 L660.0 301.2 L660.8 306.0 L661.5 310.8 L662.2 315.7 L662.8 320.5 L663.4 325.3 L663.9 330.1 L664.3 334.9 L664.7 339.8 L665.0 344.6 L665.3 349.4 L665.6 354.2 L665.8 359.0 L666.0 363.8 L666.2 368.7 L666.3 373.5 L666.4 378.3 L666.4 383.1 L666.4 387.9 L666.4 392.8 L666.4 397.6 L666.3 402.4 L666.3 407.2 L666.2 412.0 L666.1 416.9 L665.9 421.7 L665.8 426.5 L665.6 431.3 L665.4 436.1 L665.2 441.0 L665.0 445.8 L664.8 450.6 L664.6 455.4 L664.3 460.2 L664.1 465.0 L663.8 469.9 L663.5 474.7 L663.3 479.5 L663.0 484.3 L662.7 489.1 L662.4 494.0 L662.1 498.8 L661.8 503.6 M550.3 84.3 L555.1 89.2 L559.9 94.0 L564.7 98.8 L569.5 103.6 L574.2 108.4 L578.9 113.3 L583.6 118.1 L588.2 122.9 L592.7 127.7 L597.2 132.5 L601.5 137.3 L605.8 142.2 L609.9 147.0 L613.9 151.8 L617.8 156.6 L621.6 161.4 L625.2 166.3 L628.7 171.1 L632.0 175.9 L635.2 180.7 L638.3 185.5 L641.2 190.4 L643.9 195.2 L646.5 200.0 L649.0 204.8 L651.4 209.6 L653.6 214.5 L655.7 219.3 L657.6 224.1 L659.5 228.9 L661.2 233.7 L662.8 238.5 L664.3 243.4 L665.7 248.2 L667.0 253.0 L668.2 257.8 L669.4 262.6 L670.4 267.5 L671.3 272.3 L672.2 277.1 L673.0 281.9 L673.8 286.7 L674.4 291.6 L675.0 296.4 L675.6 301.2 L676.0 306.0 L676.5 310.8 L676.8 315.7 L677.2 320.5 L677.5 325.3 L677.7 330.1 L677.9 334.9 L678.0 339.8 L678.1 344.6 L678.2 349.4 L678.3 354.2 L678.3 359.0 L678.3 363.8 L678.2 368.7 L678.1 373.5 L678.0 378.3 L677.9 383.1 L677.8 387.9 L677.6 392.8 L677.4 397.6 L677.2 402.4 L677.0 407.2 L676.7 412.0 L676.5 416.9 L676.2 421.7 L675.9 426.5 L675.6 431.3 L675.3 436.1 L675.0 441.0 L674.7 445.8 L674.4 450.6 L674.0 455.4 L673.7 460.2 L673.3 465.0 L672.9 469.9 L672.6 474.7 L672.2 479.5 L671.8 484.3 L671.5 489.1 L671.1 494.0 L670.7 498.8 L670.3 503.6 M574.0 74.7 L578.8 79.5 L583.5 84.3 L588.2 89.2 L592.9 94.0 L597.5 98.8 L602.1 103.6 L606.6 108.4 L611.0 113.3 L615.3 118.1 L619.6 122.9 L623.7 127.7 L627.7 132.5 L631.6 137.3 L635.3 142.2 L638.9 147.0 L642.4 151.8 L645.7 156.6 L648.8 161.4 L651.9 166.3 L654.7 171.1 L657.5 175.9 L660.0 180.7 L662.5 185.5 L664.8 190.4 L667.0 195.2 L669.0 200.0 L670.9 204.8 L672.7 209.6 L674.4 214.5 L676.0 219.3 L677.4 224.1 L678.8 228.9 L680.1 233.7 L681.2 238.5 L682.3 243.4 L683.3 248.2 L684.2 253.0 L685.0 257.8 L685.8 262.6 L686.4 267.5 L687.0 272.3 L687.6 277.1 L688.1 281.9 L688.5 286.7 L688.9 291.6 L689.2 296.4 L689.4 301.2 L689.7 306.0 L689.8 310.8 L690.0 315.7 L690.0 320.5 L690.1 325.3 L690.1 330.1 L690.1 334.9 L690.0 339.8 L690.0 344.6 L689.9 349.4 L689.7 354.2 L689.5 359.0 L689.4 363.8 L689.1 368.7 L688.9 373.5 L688.7 378.3 L688.4 383.1 L688.1 387.9 L687.8 392.8 L687.5 397.6 L687.1 402.4 L686.8 407.2 L686.4 412.0 L686.0 416.9 L685.7 421.7 L685.3 426.5 L684.9 431.3 L684.4 436.1 L684.0 441.0 L683.6 445.8 L683.2 450.6 L682.7 455.4 L682.3 460.2 L681.8 465.0 L681.4 469.9 L680.9 474.7 L680.5 479.5 L680.0 484.3 L679.6 489.1 L679.1 494.0 L678.7 498.8 L678.2 503.6 M606.2 74.7 L610.8 79.5 L615.3 84.3 L619.8 89.2 L624.2 94.0 L628.5 98.8 L632.7 103.6 L636.8 108.4 L640.8 113.3 L644.7 118.1 L648.4 122.9 L652.0 127.7 L655.4 132.5 L658.8 137.3 L661.9 142.2 L664.9 147.0 L667.8 151.8 L670.5 156.6 L673.1 161.4 L675.5 166.3 L677.8 171.1 L679.9 175.9 L682.0 180.7 L683.9 185.5 L685.6 190.4 L687.3 195.2 L688.8 200.0 L690.2 204.8 L691.6 209.6 L692.8 214.5 L693.9 219.3 L694.9 224.1 L695.9 228.9 L696.7 233.7 L697.0 235.3 M697.0 394.2 L696.7 397.6 L696.2 402.4 L695.8 407.2 L695.3 412.0 L694.8 416.9 L694.3 421.7 L693.9 426.5 L693.4 431.3 L692.9 436.1 L692.3 441.0 L691.8 445.8 L691.3 450.6 L690.8 455.4 L690.3 460.2 L689.8 465.0 L689.2 469.9 L688.7 474.7 L688.2 479.5 L687.7 484.3 L687.1 489.1 L686.6 494.0 L686.1 498.8 L685.6 503.6 M636.7 74.7 L641.0 79.5 L645.3 84.3 L649.4 89.2 L653.4 94.0 L657.2 98.8 L661.0 103.6 L664.5 108.4 L668.0 113.3 L671.3 118.1 L674.5 122.9 L677.5 127.7 L680.4 132.5 L683.1 137.3 L685.6 142.2 L688.1 147.0 L690.4 151.8 L692.5 156.6 L694.5 161.4 L696.4 166.3 L697.0 167.9 M697.0 466.0 L696.5 469.9 L695.9 474.7 L695.3 479.5 L694.8 484.3 L694.2 489.1 L693.6 494.0 L693.0 498.8 L692.5 503.6 M665.3 74.7 L669.2 79.5 L672.9 84.3 L676.6 89.2 L680.0 94.0 L683.4 98.8 L686.5 103.6 L689.6 108.4 L692.5 113.3 L695.2 118.1 L697.0 121.4 M691.5 74.7 L694.9 79.5 L697.0 82.6"/>
<path class="wd" d="M147.7 503.6 L150.8 500.0 L153.9 496.4 L157.0 492.8 L160.1 489.2 L163.2 485.6 L166.2 482.0 L169.3 478.4 L172.4 474.8 L175.5 471.2 L178.6 467.6 L181.8 464.0 L184.9 460.3 L188.0 456.7 L191.1 453.1 L194.2 449.5 L197.3 445.9 L200.4 442.3 L203.6 438.7 L206.7 435.1 L209.8 431.5 L212.9 427.9 L216.1 424.3 L219.2 420.7 L222.3 417.1 L225.5 413.5 L228.6 409.9 L231.8 406.3 L234.9 402.7 L238.0 399.1 L241.2 395.5 L244.3 391.9 L247.5 388.3 L250.7 384.7 L253.8 381.1 L257.0 377.5 L260.1 373.8 L263.3 370.2 L266.5 366.6 L269.6 363.0 L272.8 359.4 L276.0 355.8 L279.1 352.2 L282.3 348.6 L285.5 345.0 L288.7 341.4 L291.9 337.8 L295.0 334.2 L298.2 330.6 L301.4 327.0 L304.6 323.4 L307.8 319.8 L311.0 316.2 L314.2 312.6 L317.4 309.0 L320.6 305.4 L323.8 301.8 L327.0 298.2 L330.2 294.6 L333.4 291.0 L336.6 287.3 L339.8 283.7 L343.1 280.1 L346.3 276.5 L349.5 272.9 L352.7 269.3 L355.9 265.7 L359.2 262.1 L362.4 258.5 L365.6 254.9 L368.9 251.3 L372.1 247.7 L375.3 244.1 L378.6 240.5 L381.8 236.9 L385.0 233.3 L388.3 229.7 L391.5 226.1 L394.8 222.5 L398.0 218.9 L401.3 215.3 L404.5 211.7 L407.8 208.1 L411.0 204.5 L414.3 200.8 L417.6 197.2 L420.8 193.6 L424.1 190.0 L427.3 186.4 L430.6 182.8 L433.9 179.2 L437.2 175.6 L440.4 172.0 L443.7 168.4 L447.0 164.8 L450.3 161.2 L453.5 157.6 L456.8 154.0 L460.1 150.4 L463.4 146.8 L466.7 143.2 L470.0 139.6 L473.3 136.0 L476.6 132.4 L479.8 128.8 L483.1 125.2 L486.4 121.6 L489.7 118.0 L493.0 114.3 L496.4 110.7 L499.7 107.1 L503.0 103.5 L506.3 99.9 L509.6 96.3 L512.9 92.7 L516.2 89.1 L519.5 85.5 L522.8 81.9 L526.2 78.3 L529.5 74.7 M193.9 503.6 L196.9 500.0 L199.9 496.4 L202.9 492.8 L205.9 489.2 L208.9 485.6 L211.9 482.0 L214.9 478.4 L218.0 474.8 L221.0 471.2 L224.0 467.6 L227.0 464.0 L230.0 460.3 L233.1 456.7 L236.1 453.1 L239.1 449.5 L242.2 445.9 L245.2 442.3 L248.2 438.7 L251.3 435.1 L254.3 431.5 L257.4 427.9 L260.4 424.3 L263.5 420.7 L266.5 417.1 L269.6 413.5 L272.6 409.9 L275.7 406.3 L278.7 402.7 L281.8 399.1 L284.9 395.5 L288.0 391.9 L291.0 388.3 L294.1 384.7 L297.2 381.1 L300.3 377.5 L303.3 373.8 L306.4 370.2 L309.5 366.6 L312.6 363.0 L315.7 359.4 L318.8 355.8 L321.9 352.2 L325.0 348.6 L328.1 345.0 L331.2 341.4 L334.3 337.8 L337.4 334.2 L340.5 330.6 L343.6 327.0 L346.7 323.4 L349.9 319.8 L353.0 316.2 L356.1 312.6 L359.2 309.0 L362.3 305.4 L365.5 301.8 L368.6 298.2 L371.7 294.6 L374.9 291.0 L378.0 287.3 L381.1 283.7 L384.3 280.1 L387.4 276.5 L390.6 272.9 L393.7 269.3 L396.9 265.7 L400.0 262.1 L403.2 258.5 L406.3 254.9 L409.5 251.3 L412.7 247.7 L415.8 244.1 L419.0 240.5 L422.2 236.9 L425.3 233.3 L428.5 229.7 L431.7 226.1 L434.8 222.5 L438.0 218.9 L441.2 215.3 L444.4 211.7 L447.6 208.1 L450.8 204.5 L453.9 200.8 L457.1 197.2 L460.3 193.6 L463.5 190.0 L466.7 186.4 L469.9 182.8 L473.1 179.2 L476.3 175.6 L479.5 172.0 L482.7 168.4 L485.9 164.8 L489.2 161.2 L492.4 157.6 L495.6 154.0 L498.8 150.4 L502.0 146.8 L505.2 143.2 L508.5 139.6 L511.7 136.0 L514.9 132.4 L518.2 128.8 L521.4 125.2 L524.6 121.6 L527.8 118.0 L531.1 114.3 L534.3 110.7 L537.6 107.1 L540.8 103.5 L544.1 99.9 L547.3 96.3 L550.5 92.7 L553.8 89.1 L557.1 85.5 L560.3 81.9 L563.6 78.3 L566.8 74.7 M260.0 503.6 L262.8 500.0 L265.7 496.4 L268.6 492.8 L271.5 489.2 L274.3 485.6 L277.2 482.0 L280.1 478.4 L283.0 474.8 L285.9 471.2 L288.8 467.6 L291.7 464.0 L294.6 460.3 L297.5 456.7 L300.4 453.1 L303.3 449.5 L306.2 445.9 L309.1 442.3 L312.0 438.7 L314.9 435.1 L317.8 431.5 L320.8 427.9 L323.7 424.3 L326.6 420.7 L329.6 417.1 L332.5 413.5 L335.4 409.9 L338.4 406.3 L341.3 402.7 L344.3 399.1 L347.2 395.5 L350.2 391.9 L353.1 388.3 L356.1 384.7 L359.0 381.1 L362.0 377.5 L365.0 373.8 L367.9 370.2 L370.9 366.6 L373.9 363.0 L376.8 359.4 L379.8 355.8 L382.8 352.2 L385.8 348.6 L388.8 345.0 L391.8 341.4 L394.8 337.8 L397.7 334.2 L400.7 330.6 L403.7 327.0 L406.7 323.4 L409.8 319.8 L412.8 316.2 L415.8 312.6 L418.8 309.0 L421.8 305.4 L424.8 301.8 L427.8 298.2 L430.9 294.6 L433.9 291.0 L436.9 287.3 L439.9 283.7 L443.0 280.1 L446.0 276.5 L449.0 272.9 L452.1 269.3 L455.1 265.7 L458.2 262.1 L461.2 258.5 L464.3 254.9 L467.3 251.3 L470.4 247.7 L473.4 244.1 L476.5 240.5 L479.6 236.9 L482.6 233.3 L485.7 229.7 L488.8 226.1 L491.8 222.5 L494.9 218.9 L498.0 215.3 L501.1 211.7 L504.1 208.1 L507.2 204.5 L510.3 200.8 L513.4 197.2 L516.5 193.6 L519.6 190.0 L522.7 186.4 L525.8 182.8 L528.9 179.2 L532.0 175.6 L535.1 172.0 L538.2 168.4 L541.3 164.8 L544.4 161.2 L547.5 157.6 L550.6 154.0 L553.8 150.4 L556.9 146.8 L560.0 143.2 L563.1 139.6 L566.3 136.0 L569.4 132.4 L572.5 128.8 L575.7 125.2 L578.8 121.6 L581.9 118.0 L585.1 114.3 L588.2 110.7 L591.4 107.1 L594.5 103.5 L597.7 99.9 L600.8 96.3 L604.0 92.7 L607.1 89.1 L610.3 85.5 L613.4 81.9 L616.6 78.3 L619.8 74.7 M314.2 503.6 L316.9 500.0 L319.7 496.4 L322.4 492.8 L325.2 489.2 L328.0 485.6 L330.7 482.0 L333.5 478.4 L336.3 474.8 L339.1 471.2 L341.8 467.6 L344.6 464.0 L347.4 460.3 L350.2 456.7 L353.0 453.1 L355.8 449.5 L358.6 445.9 L361.4 442.3 L364.2 438.7 L367.1 435.1 L369.9 431.5 L372.7 427.9 L375.5 424.3 L378.3 420.7 L381.2 417.1 L384.0 413.5 L386.8 409.9 L389.7 406.3 L392.5 402.7 L395.4 399.1 L398.2 395.5 L401.1 391.9 L403.9 388.3 L406.8 384.7 L409.6 381.1 L412.5 377.5 L415.3 373.8 L418.2 370.2 L421.1 366.6 L424.0 363.0 L426.8 359.4 L429.7 355.8 L432.6 352.2 L435.5 348.6 L438.4 345.0 L441.3 341.4 L444.2 337.8 L447.1 334.2 L450.0 330.6 L452.9 327.0 L455.8 323.4 L458.7 319.8 L461.6 316.2 L464.5 312.6 L467.4 309.0 L470.3 305.4 L473.3 301.8 L476.2 298.2 L479.1 294.6 L482.1 291.0 L485.0 287.3 L487.9 283.7 L490.9 280.1 L493.8 276.5 L496.8 272.9 L499.7 269.3 L502.7 265.7 L505.6 262.1 L508.6 258.5 L511.5 254.9 L514.5 251.3 L517.5 247.7 L520.4 244.1 L523.4 240.5 L526.4 236.9 L529.3 233.3 L532.3 229.7 L535.3 226.1 L538.3 222.5 L541.3 218.9 L544.3 215.3 L547.3 211.7 L550.2 208.1 L553.2 204.5 L556.2 200.8 L559.2 197.2 L562.3 193.6 L565.3 190.0 L568.3 186.4 L571.3 182.8 L574.3 179.2 L577.3 175.6 L580.3 172.0 L583.4 168.4 L586.4 164.8 L589.4 161.2 L592.4 157.6 L595.5 154.0 L598.5 150.4 L601.5 146.8 L604.6 143.2 L607.6 139.6 L610.7 136.0 L613.7 132.4 L616.8 128.8 L619.8 125.2 L622.9 121.6 L625.9 118.0 L629.0 114.3 L632.1 110.7 L635.1 107.1 L638.2 103.5 L641.3 99.9 L644.3 96.3 L647.4 92.7 L650.5 89.1 L653.6 85.5 L656.6 81.9 L659.7 78.3 L662.8 74.7 M347.7 503.6 L350.4 500.0 L353.1 496.4 L355.8 492.8 L358.4 489.2 L361.1 485.6 L363.8 482.0 L366.6 478.4 L369.3 474.8 L372.0 471.2 L374.7 467.6 L377.4 464.0 L380.1 460.3 L382.9 456.7 L385.6 453.1 L388.3 449.5 L391.1 445.9 L393.8 442.3 L396.5 438.7 L399.3 435.1 L402.0 431.5 L404.8 427.9 L407.5 424.3 L410.3 420.7 L413.1 417.1 L415.8 413.5 L418.6 409.9 L421.4 406.3 L424.2 402.7 L426.9 399.1 L429.7 395.5 L432.5 391.9 L435.3 388.3 L438.1 384.7 L440.9 381.1 L443.7 377.5 L446.5 373.8 L449.3 370.2 L452.1 366.6 L454.9 363.0 L457.7 359.4 L460.5 355.8 L463.4 352.2 L466.2 348.6 L469.0 345.0 L471.8 341.4 L474.7 337.8 L477.5 334.2 L480.3 330.6 L483.2 327.0 L486.0 323.4 L488.9 319.8 L491.7 316.2 L494.6 312.6 L497.5 309.0 L500.3 305.4 L503.2 301.8 L506.0 298.2 L508.9 294.6 L511.8 291.0 L514.7 287.3 L517.5 283.7 L520.4 280.1 L523.3 276.5 L526.2 272.9 L529.1 269.3 L532.0 265.7 L534.9 262.1 L537.8 258.5 L540.7 254.9 L543.6 251.3 L546.5 247.7 L549.4 244.1 L552.3 240.5 L555.2 236.9 L558.1 233.3 L561.1 229.7 L564.0 226.1 L566.9 222.5 L569.9 218.9 L572.8 215.3 L575.7 211.7 L578.7 208.1 L581.6 204.5 L584.5 200.8 L587.5 197.2 L590.4 193.6 L593.4 190.0 L596.4 186.4 L599.3 182.8 L602.3 179.2 L605.2 175.6 L608.2 172.0 L611.2 168.4 L614.1 164.8 L617.1 161.2 L620.1 157.6 L623.1 154.0 L626.1 150.4 L629.0 146.8 L632.0 143.2 L635.0 139.6 L638.0 136.0 L641.0 132.4 L644.0 128.8 L647.0 125.2 L650.0 121.6 L653.0 118.0 L656.0 114.3 L659.0 110.7 L662.1 107.1 L665.1 103.5 L668.1 99.9 L671.1 96.3 L674.1 92.7 L677.2 89.1 L680.2 85.5 L683.2 81.9 L686.3 78.3 L689.3 74.7 M372.4 503.6 L375.0 500.0 L377.6 496.4 L380.3 492.8 L382.9 489.2 L385.6 485.6 L388.2 482.0 L390.9 478.4 L393.5 474.8 L396.2 471.2 L398.8 467.6 L401.5 464.0 L404.2 460.3 L406.9 456.7 L409.5 453.1 L412.2 449.5 L414.9 445.9 L417.6 442.3 L420.3 438.7 L423.0 435.1 L425.7 431.5 L428.4 427.9 L431.1 424.3 L433.8 420.7 L436.5 417.1 L439.2 413.5 L442.0 409.9 L444.7 406.3 L447.4 402.7 L450.1 399.1 L452.9 395.5 L455.6 391.9 L458.4 388.3 L461.1 384.7 L463.8 381.1 L466.6 377.5 L469.4 373.8 L472.1 370.2 L474.9 366.6 L477.6 363.0 L480.4 359.4 L483.2 355.8 L485.9 352.2 L488.7 348.6 L491.5 345.0 L494.3 341.4 L497.1 337.8 L499.9 334.2 L502.7 330.6 L505.5 327.0 L508.3 323.4 L511.1 319.8 L513.9 316.2 L516.7 312.6 L519.5 309.0 L522.3 305.4 L525.1 301.8 L528.0 298.2 L530.8 294.6 L533.6 291.0 L536.4 287.3 L539.3 283.7 L542.1 280.1 L545.0 276.5 L547.8 272.9 L550.6 269.3 L553.5 265.7 L556.3 262.1 L559.2 258.5 L562.1 254.9 L564.9 251.3 L567.8 247.7 L570.7 244.1 L573.5 240.5 L576.4 236.9 L579.3 233.3 L582.2 229.7 L585.0 226.1 L587.9 222.5 L590.8 218.9 L593.7 215.3 L596.6 211.7 L599.5 208.1 L602.4 204.5 L605.3 200.8 L608.2 197.2 L611.1 193.6 L614.0 190.0 L617.0 186.4 L619.9 182.8 L622.8 179.2 L625.7 175.6 L628.6 172.0 L631.6 168.4 L634.5 164.8 L637.4 161.2 L640.4 157.6 L643.3 154.0 L646.3 150.4 L649.2 146.8 L652.2 143.2 L655.1 139.6 L658.1 136.0 L661.0 132.4 L664.0 128.8 L666.9 125.2 L669.9 121.6 L672.9 118.0 L675.8 114.3 L678.8 110.7 L681.8 107.1 L684.8 103.5 L687.7 99.9 L690.7 96.3 L693.7 92.7 L696.7 89.1 L697.0 88.8 M408.4 503.6 L411.0 500.0 L413.6 496.4 L416.1 492.8 L418.7 489.2 L421.2 485.6 L423.8 482.0 L426.4 478.4 L429.0 474.8 L431.6 471.2 L434.1 467.6 L436.7 464.0 L439.3 460.3 L441.9 456.7 L444.5 453.1 L447.1 449.5 L449.8 445.9 L452.4 442.3 L455.0 438.7 L457.6 435.1 L460.2 431.5 L462.9 427.9 L465.5 424.3 L468.1 420.7 L470.8 417.1 L473.4 413.5 L476.1 409.9 L478.7 406.3 L481.4 402.7 L484.0 399.1 L486.7 395.5 L489.4 391.9 L492.0 388.3 L494.7 384.7 L497.4 381.1 L500.1 377.5 L502.7 373.8 L505.4 370.2 L508.1 366.6 L510.8 363.0 L513.5 359.4 L516.2 355.8 L518.9 352.2 L521.6 348.6 L524.4 345.0 L527.1 341.4 L529.8 337.8 L532.5 334.2 L535.2 330.6 L538.0 327.0 L540.7 323.4 L543.4 319.8 L546.2 316.2 L548.9 312.6 L551.7 309.0 L554.4 305.4 L557.2 301.8 L559.9 298.2 L562.7 294.6 L565.4 291.0 L568.2 287.3 L571.0 283.7 L573.8 280.1 L576.5 276.5 L579.3 272.9 L582.1 269.3 L584.9 265.7 L587.7 262.1 L590.5 258.5 L593.3 254.9 L596.1 251.3 L598.9 247.7 L601.7 244.1 L604.5 240.5 L607.3 236.9 L610.1 233.3 L612.9 229.7 L615.7 226.1 L618.6 222.5 L621.4 218.9 L624.2 215.3 L627.1 211.7 L629.9 208.1 L632.7 204.5 L635.6 200.8 L638.4 197.2 L641.3 193.6 L644.1 190.0 L647.0 186.4 L649.8 182.8 L652.7 179.2 L655.6 175.6 L658.4 172.0 L661.3 168.4 L664.2 164.8 L667.0 161.2 L669.9 157.6 L672.8 154.0 L675.7 150.4 L678.6 146.8 L681.5 143.2 L684.4 139.6 L687.3 136.0 L690.2 132.4 L693.1 128.8 L696.0 125.2 L697.0 123.9 M435.0 503.6 L437.5 500.0 L440.0 496.4 L442.5 492.8 L445.0 489.2 L447.5 485.6 L450.0 482.0 L452.5 478.4 L455.1 474.8 L457.6 471.2 L460.1 467.6 L462.7 464.0 L465.2 460.3 L467.7 456.7 L470.3 453.1 L472.8 449.5 L475.4 445.9 L478.0 442.3 L480.5 438.7 L483.1 435.1 L485.6 431.5 L488.2 427.9 L490.8 424.3 L493.4 420.7 L496.0 417.1 L498.6 413.5 L501.2 409.9 L503.8 406.3 L506.4 402.7 L509.0 399.1 L511.6 395.5 L514.2 391.9 L516.8 388.3 L519.4 384.7 L522.0 381.1 L524.7 377.5 L527.3 373.8 L529.9 370.2 L532.6 366.6 L535.2 363.0 L537.9 359.4 L540.5 355.8 L543.2 352.2 L545.8 348.6 L548.5 345.0 L551.2 341.4 L553.8 337.8 L556.5 334.2 L559.2 330.6 L561.8 327.0 L564.5 323.4 L567.2 319.8 L569.9 316.2 L572.6 312.6 L575.3 309.0 L578.0 305.4 L580.7 301.8 L583.4 298.2 L586.1 294.6 L588.8 291.0 L591.5 287.3 L594.3 283.7 L597.0 280.1 L599.7 276.5 L602.5 272.9 L605.2 269.3 L607.9 265.7 L610.7 262.1 L613.4 258.5 L616.2 254.9 L618.9 251.3 L621.7 247.7 L624.4 244.1 L627.2 240.5 L630.0 236.9 L632.7 233.3 L635.5 229.7 L638.3 226.1 L641.0 222.5 L643.8 218.9 L646.6 215.3 L649.4 211.7 L652.2 208.1 L655.0 204.5 L657.8 200.8 L660.6 197.2 L663.4 193.6 L666.2 190.0 L669.0 186.4 L671.8 182.8 L674.6 179.2 L677.5 175.6 L680.3 172.0 L683.1 168.4 L685.9 164.8 L688.8 161.2 L691.6 157.6 L694.4 154.0 L697.0 150.7 M473.9 503.6 L476.3 500.0 L478.7 496.4 L481.1 492.8 L483.5 489.2 L485.9 485.6 L488.3 482.0 L490.8 478.4 L493.2 474.8 L495.7 471.2 L498.1 467.6 L500.6 464.0 L503.0 460.3 L505.5 456.7 L507.9 453.1 L510.4 449.5 L512.9 445.9 L515.3 442.3 L517.8 438.7 L520.3 435.1 L522.8 431.5 L525.3 427.9 L527.8 424.3 L530.3 420.7 L532.8 417.1 L535.3 413.5 L537.8 409.9 L540.3 406.3 L542.8 402.7 L545.4 399.1 L547.9 395.5 L550.4 391.9 L553.0 388.3 L555.5 384.7 L558.0 381.1 L560.6 377.5 L563.2 373.8 L565.7 370.2 L568.3 366.6 L570.8 363.0 L573.4 359.4 L576.0 355.8 L578.6 352.2 L581.1 348.6 L583.7 345.0 L586.3 341.4 L588.9 337.8 L591.5 334.2 L594.1 330.6 L596.7 327.0 L599.3 323.4 L601.9 319.8 L604.5 316.2 L607.2 312.6 L609.8 309.0 L612.4 305.4 L615.0 301.8 L617.7 298.2 L620.3 294.6 L622.9 291.0 L625.6 287.3 L628.2 283.7 L630.9 280.1 L633.5 276.5 L636.2 272.9 L638.9 269.3 L641.5 265.7 L644.2 262.1 L646.9 258.5 L649.6 254.9 L652.2 251.3 L654.9 247.7 L657.6 244.1 L660.3 240.5 L663.0 236.9 L665.7 233.3 L668.4 229.7 L671.1 226.1 L673.8 222.5 L676.5 218.9 L679.2 215.3 L682.0 211.7 L684.7 208.1 L687.4 204.5 L690.1 200.8 L692.9 197.2 L695.6 193.6 L697.0 191.8 M502.4 503.6 L504.8 500.0 L507.1 496.4 L509.5 492.8 L511.8 489.2 L514.2 485.6 L516.5 482.0 L518.9 478.4 L521.3 474.8 L523.7 471.2 L526.0 467.6 L528.4 464.0 L530.8 460.3 L533.2 456.7 L535.6 453.1 L538.0 449.5 L540.4 445.9 L542.8 442.3 L545.2 438.7 L547.7 435.1 L550.1 431.5 L552.5 427.9 L555.0 424.3 L557.4 420.7 L559.8 417.1 L562.3 413.5 L564.7 409.9 L567.2 406.3 L569.7 402.7 L572.1 399.1 L574.6 395.5 L577.1 391.9 L579.5 388.3 L582.0 384.7 L584.5 381.1 L587.0 377.5 L589.5 373.8 L592.0 370.2 L594.5 366.6 L597.0 363.0 L599.5 359.4 L602.0 355.8 L604.5 352.2 L607.1 348.6 L609.6 345.0 L612.1 341.4 L614.7 337.8 L617.2 334.2 L619.7 330.6 L622.3 327.0 L624.8 323.4 L627.4 319.8 L630.0 316.2 L632.5 312.6 L635.1 309.0 L637.7 305.4 L640.2 301.8 L642.8 298.2 L645.4 294.6 L648.0 291.0 L650.6 287.3 L653.2 283.7 L655.8 280.1 L658.4 276.5 L661.0 272.9 L663.6 269.3 L666.2 265.7 L668.8 262.1 L671.4 258.5 L674.1 254.9 L676.7 251.3 L679.3 247.7 L682.0 244.1 L684.6 240.5 L687.2 236.9 L689.9 233.3 L692.5 229.7 L695.2 226.1 L697.0 223.6 M525.2 503.6 L527.5 500.0 L529.8 496.4 L532.1 492.8 L534.4 489.2 L536.7 485.6 L539.0 482.0 L541.3 478.4 L543.6 474.8 L546.0 471.2 L548.3 467.6 L550.6 464.0 L553.0 460.3 L555.3 456.7 L557.7 453.1 L560.0 449.5 L562.4 445.9 L564.7 442.3 L567.1 438.7 L569.5 435.1 L571.8 431.5 L574.2 427.9 L576.6 424.3 L579.0 420.7 L581.4 417.1 L583.8 413.5 L586.2 409.9 L588.6 406.3 L591.0 402.7 L593.4 399.1 L595.8 395.5 L598.3 391.9 L600.7 388.3 L603.1 384.7 L605.6 381.1 L608.0 377.5 L610.5 373.8 L612.9 370.2 L615.4 366.6 L617.8 363.0 L620.3 359.4 L622.8 355.8 L625.2 352.2 L627.7 348.6 L630.2 345.0 L632.7 341.4 L635.2 337.8 L637.7 334.2 L640.2 330.6 L642.7 327.0 L645.2 323.4 L647.7 319.8 L650.2 316.2 L652.7 312.6 L655.2 309.0 L657.8 305.4 L660.3 301.8 L662.8 298.2 L665.4 294.6 L667.9 291.0 L670.4 287.3 L673.0 283.7 L675.6 280.1 L678.1 276.5 L680.7 272.9 L683.2 269.3 L685.8 265.7 L688.4 262.1 L691.0 258.5 L693.5 254.9 L696.1 251.3 L697.0 250.1 M544.2 503.6 L546.5 500.0 L548.7 496.4 L551.0 492.8 L553.2 489.2 L555.5 485.6 L557.7 482.0 L560.0 478.4 L562.3 474.8 L564.6 471.2 L566.8 467.6 L569.1 464.0 L571.4 460.3 L573.7 456.7 L576.0 453.1 L578.3 449.5 L580.7 445.9 L583.0 442.3 L585.3 438.7 L587.6 435.1 L590.0 431.5 L592.3 427.9 L594.6 424.3 L597.0 420.7 L599.3 417.1 L601.7 413.5 L604.1 409.9 L606.4 406.3 L608.8 402.7 L611.2 399.1 L613.5 395.5 L615.9 391.9 L618.3 388.3 L620.7 384.7 L623.1 381.1 L625.5 377.5 L627.9 373.8 L630.3 370.2 L632.7 366.6 L635.2 363.0 L637.6 359.4 L640.0 355.8 L642.5 352.2 L644.9 348.6 L647.3 345.0 L649.8 341.4 L652.2 337.8 L654.7 334.2 L657.1 330.6 L659.6 327.0 L662.1 323.4 L664.6 319.8 L667.0 316.2 L669.5 312.6 L672.0 309.0 L674.5 305.4 L677.0 301.8 L679.5 298.2 L682.0 294.6 L684.5 291.0 L687.0 287.3 L689.5 283.7 L692.0 280.1 L694.5 276.5 L697.0 273.0 M567.9 503.6 L570.1 500.0 L572.3 496.4 L574.5 492.8 L576.7 489.2 L578.9 485.6 L581.1 482.0 L583.3 478.4 L585.6 474.8 L587.8 471.2 L590.0 467.6 L592.2 464.0 L594.5 460.3 L596.7 456.7 L599.0 453.1 L601.2 449.5 L603.5 445.9 L605.8 442.3 L608.0 438.7 L610.3 435.1 L612.6 431.5 L614.9 427.9 L617.2 424.3 L619.4 420.7 L621.7 417.1 L624.1 413.5 L626.4 409.9 L628.7 406.3 L631.0 402.7 L633.3 399.1 L635.6 395.5 L638.0 391.9 L640.3 388.3 L642.7 384.7 L645.0 381.1 L647.4 377.5 L649.7 373.8 L652.1 370.2 L654.4 366.6 L656.8 363.0 L659.2 359.4 L661.6 355.8 L664.0 352.2 L666.3 348.6 L668.7 345.0 L671.1 341.4 L673.5 337.8 L675.9 334.2 L678.3 330.6 L680.8 327.0 L683.2 323.4 L685.6 319.8 L688.0 316.2 L690.5 312.6 L692.9 309.0 L695.4 305.4 L697.0 302.9 M599.3 503.6 L601.4 500.0 L603.5 496.4 L605.6 492.8 L607.7 489.2 L609.9 485.6 L612.0 482.0 L614.2 478.4 L616.3 474.8 L618.4 471.2 L620.6 467.6 L622.8 464.0 L624.9 460.3 L627.1 456.7 L629.3 453.1 L631.5 449.5 L633.6 445.9 L635.8 442.3 L638.0 438.7 L640.2 435.1 L642.4 431.5 L644.7 427.9 L646.9 424.3 L649.1 420.7 L651.3 417.1 L653.6 413.5 L655.8 409.9 L658.1 406.3 L660.3 402.7 L662.6 399.1 L664.8 395.5 L667.1 391.9 L669.3 388.3 L671.6 384.7 L673.9 381.1 L676.2 377.5 L678.5 373.8 L680.8 370.2 L683.1 366.6 L685.4 363.0 L687.7 359.4 L690.0 355.8 L692.3 352.2 L694.6 348.6 L697.0 345.0 L697.0 344.9 M624.2 503.6 L626.2 500.0 L628.3 496.4 L630.3 492.8 L632.4 489.2 L634.5 485.6 L636.5 482.0 L638.6 478.4 L640.7 474.8 L642.8 471.2 L644.9 467.6 L647.0 464.0 L649.1 460.3 L651.2 456.7 L653.3 453.1 L655.4 449.5 L657.6 445.9 L659.7 442.3 L661.8 438.7 L664.0 435.1 L666.1 431.5 L668.3 427.9 L670.5 424.3 L672.6 420.7 L674.8 417.1 L677.0 413.5 L679.2 409.9 L681.3 406.3 L683.5 402.7 L685.7 399.1 L687.9 395.5 L690.1 391.9 L692.4 388.3 L694.6 384.7 L696.8 381.1 L697.0 380.7 M644.9 503.6 L646.8 500.0 L648.8 496.4 L650.8 492.8 L652.9 489.2 L654.9 485.6 L656.9 482.0 L658.9 478.4 L661.0 474.8 L663.0 471.2 L665.0 467.6 L667.1 464.0 L669.2 460.3 L671.2 456.7 L673.3 453.1 L675.4 449.5 L677.4 445.9 L679.5 442.3 L681.6 438.7 L683.7 435.1 L685.8 431.5 L687.9 427.9 L690.0 424.3 L692.2 420.7 L694.3 417.1 L696.4 413.5 L697.0 412.5 M678.1 503.6 L680.0 500.0 L681.9 496.4 L683.8 492.8 L685.7 489.2 L687.7 485.6 L689.6 482.0 L691.5 478.4 L693.5 474.8 L695.5 471.2 L697.0 468.3"/>
<path class="hat" d="M606.4 484.5 H611.4 M599.4 482.5 H611.2 M595.1 479.5 H611.0 M593.7 476.5 H610.8 M592.3 473.5 H610.6 M590.8 469.5 H610.3 M589.4 466.5 H610.1 M588.3 463.5 H609.7 M587.7 460.5 H609.1 M587.0 456.5 H608.5 M586.3 453.5 H607.8 M585.6 450.5 H607.2 M584.9 446.5 H606.7 M584.2 442.5 H606.3 M583.5 439.5 H605.9 M582.8 435.5 H605.5 M582.0 431.5 H605.1 M580.6 427.5 H604.5 M578.3 423.5 H603.7 M576.0 419.5 H602.9 M573.6 415.5 H602.1 M571.2 411.5 H601.2 M568.7 406.5 H600.4 M566.2 402.5 H599.5 M564.2 397.5 H598.4 M562.2 393.5 H597.2 M560.2 388.5 H596.0 M558.2 383.5 H594.8 M556.1 378.5 H593.5 M553.9 372.5 H592.2 M551.6 367.5 H590.7 M548.2 361.5 H588.4 M544.7 356.5 H586.0 M541.1 350.5 H583.5 M537.3 344.5 H580.9 M533.5 337.5 H578.3 M529.5 331.5 H575.5 M525.1 324.5 H571.9 M520.3 317.5 H567.3 M515.3 309.5 H562.5 M510.1 302.5 H557.5 M504.6 294.5 H552.3 M498.9 285.5 H546.9 M492.9 276.5 H541.2 M484.7 267.5 H533.9 M475.6 257.5 H526.0 M465.9 247.5 H517.6 M456.9 236.5 H507.3 M448.9 225.5 H494.7 M440.3 212.5 H482.5 M431.2 199.5 H469.7 M422.9 184.5 H455.7 M413.8 169.5 H440.5 M403.9 152.5 H423.5 M401.5 133.5 H404.6"/>
<path class="tT" style="stroke-width:1.00" d="M400.7 74.5 L401.7 148.5"/>
<path class="tT" style="stroke-width:1.60" d="M401.7 148.5 L432.3 201.1"/>
<path class="tT" style="stroke-width:1.60" d="M432.3 201.1 L460.5 241.8"/>
<path class="tT" style="stroke-width:1.60" d="M460.5 241.8 L491.7 275.1"/>
<path class="tT" style="stroke-width:1.60" d="M491.7 275.1 L527.3 327.6"/>
<path class="tT" style="stroke-width:1.70" d="M527.3 327.6 L552.0 368.3"/>
<path class="tT" style="stroke-width:1.70" d="M552.0 368.3 L565.7 401.5"/>
<path class="tT" style="stroke-width:1.70" d="M565.7 401.5 L581.6 429.6"/>
<path class="tT" style="stroke-width:1.70" d="M581.6 429.6 L588.6 465.0"/>
<path class="tT" style="stroke-width:1.80" d="M588.6 465.0 L595.7 480.5"/>
<path class="tT" style="stroke-width:2.30" d="M595.7 480.5 L633.6 496.4"/>
<path class="tD" style="stroke-width:1.20" d="M365.3 74.5 L373.0 148.5"/>
<path class="tD" style="stroke-width:1.20" d="M373.0 148.5 L380.5 201.1"/>
<path class="tD" style="stroke-width:2.00" d="M380.5 201.1 L401.4 241.8"/>
<path class="tD" style="stroke-width:2.00" d="M401.4 241.8 L437.4 275.1"/>
<path class="tD" style="stroke-width:2.00" d="M437.4 275.1 L499.4 327.6"/>
<path class="tD" style="stroke-width:2.50" d="M499.4 327.6 L538.6 368.3"/>
<path class="tD" style="stroke-width:1.70" d="M538.6 368.3 L550.5 401.5"/>
<path class="tD" style="stroke-width:1.70" d="M550.5 401.5 L554.3 429.6"/>
<path class="tD" style="stroke-width:1.70" d="M554.3 429.6 L563.6 465.0"/>
<path class="tD" style="stroke-width:1.80" d="M563.6 465.0 L578.6 480.5"/>
<path class="tD" style="stroke-width:1.80" d="M578.6 480.5 L605.0 496.4"/>
<path class="tP" style="stroke-width:2.00" d="M633.6 496.4 L611.4 485.1"/>
<path class="tP" style="stroke-width:2.40" d="M611.4 485.1 L610.0 465.0"/>
<path class="tP" style="stroke-width:1.50" d="M610.0 465.0 L606.9 448.6"/>
<path class="tP" style="stroke-width:1.50" d="M606.9 448.6 L604.9 429.6"/>
<path class="tP" style="stroke-width:1.50" d="M604.9 429.6 L599.3 401.5"/>
<path class="tP" style="stroke-width:1.50" d="M599.3 401.5 L591.0 368.3"/>
<path class="tP" style="stroke-width:1.50" d="M591.0 368.3 L574.0 327.6"/>
<path class="tP" style="stroke-width:1.50" d="M574.0 327.6 L540.0 275.1"/>
<path class="tP" style="stroke-width:1.50" d="M540.0 275.1 L527.1 259.2"/>
<path class="tP" style="stroke-width:1.50" d="M527.1 259.2 L512.9 241.8"/>
<path class="tP" style="stroke-width:1.50" d="M512.9 241.8 L492.1 222.6"/>
<path class="tP" style="stroke-width:1.50" d="M492.1 222.6 L471.5 201.1"/>
<path class="tP" style="stroke-width:1.50" d="M471.5 201.1 L441.2 170.0"/>
<path class="tP" style="stroke-width:1.50" d="M441.2 170.0 L402.0 130.8"/>
<path class="tP" style="stroke-width:1.50" d="M402.0 130.8 L353.9 74.5"/>
<path class="tT f" d="M399 74h3v2h-3z"/><path class="tD f" d="M364 75h3v2h-3z"/>

<path class="k" d="M87.5 74 V504 M87 74.5 H697 M87 503.5 H697"/>
<g class="hk" role="img" aria-label="AIRS SkewT Diagram 2010-09-14/05:52:54.33 (Lat/Lon 17.30/115.88 deg)"><title>AIRS SkewT Diagram 2010-09-14/05:52:54.33 (Lat/Lon 17.30/115.88 deg)</title><path d="M89.0 40.7 L85.0 51.6 M89.0 40.7 L93.1 51.6 M86.5 48.0 L91.6 48.0 M95.6 40.7 L95.6 51.6 M99.7 40.7 L99.7 51.6 M99.7 40.7 L104.2 40.7 L105.7 41.2 L106.2 41.7 L106.7 42.8 L106.7 43.8 L106.2 44.8 L105.7 45.4 L104.2 45.9 L99.7 45.9 M103.2 45.9 L106.7 51.6 M116.9 42.2 L115.8 41.2 L114.3 40.7 L112.3 40.7 L110.8 41.2 L109.8 42.2 L109.8 43.3 L110.3 44.3 L110.8 44.8 L111.8 45.4 L114.8 46.4 L115.8 46.9 L116.3 47.4 L116.9 48.5 L116.9 50.0 L115.8 51.1 L114.3 51.6 L112.3 51.6 L110.8 51.1 L109.8 50.0 M135.1 42.2 L134.0 41.2 L132.5 40.7 L130.5 40.7 L129.0 41.2 L128.0 42.2 L128.0 43.3 L128.5 44.3 L129.0 44.8 L130.0 45.4 L133.0 46.4 L134.0 46.9 L134.5 47.4 L135.1 48.5 L135.1 50.0 L134.0 51.1 L132.5 51.6 L130.5 51.6 L129.0 51.1 L128.0 50.0 M138.6 40.7 L138.6 51.6 M143.6 44.3 L138.6 49.5 M140.6 47.4 L144.2 51.6 M146.7 47.4 L152.7 47.4 L152.7 46.4 L152.2 45.4 L151.7 44.8 L150.7 44.3 L149.2 44.3 L148.2 44.8 L147.2 45.9 L146.7 47.4 L146.7 48.5 L147.2 50.0 L148.2 51.1 L149.2 51.6 L150.7 51.6 L151.7 51.1 L152.7 50.0 M155.8 44.3 L157.8 51.6 M159.8 44.3 L157.8 51.6 M159.8 44.3 L161.8 51.6 M163.9 44.3 L161.8 51.6 M169.4 40.7 L169.4 51.6 M165.9 40.7 L173.0 40.7 M183.6 40.7 L183.6 51.6 M183.6 40.7 L187.1 40.7 L188.6 41.2 L189.7 42.2 L190.2 43.3 L190.7 44.8 L190.7 47.4 L190.2 49.0 L189.7 50.0 L188.6 51.1 L187.1 51.6 L183.6 51.6 M193.7 40.7 L194.2 41.2 L194.7 40.7 L194.2 40.2 L193.7 40.7 M194.2 44.3 L194.2 51.6 M203.8 44.3 L203.8 51.6 M203.8 45.9 L202.8 44.8 L201.8 44.3 L200.3 44.3 L199.3 44.8 L198.3 45.9 L197.7 47.4 L197.7 48.5 L198.3 50.0 L199.3 51.1 L200.3 51.6 L201.8 51.6 L202.8 51.1 L203.8 50.0 M213.4 44.3 L213.4 52.6 L212.9 54.2 L212.4 54.7 L211.4 55.2 L209.9 55.2 L208.9 54.7 M213.4 45.9 L212.4 44.8 L211.4 44.3 L209.9 44.3 L208.9 44.8 L207.9 45.9 L207.4 47.4 L207.4 48.5 L207.9 50.0 L208.9 51.1 L209.9 51.6 L211.4 51.6 L212.4 51.1 L213.4 50.0 M217.5 44.3 L217.5 51.6 M217.5 47.4 L218.0 45.9 L219.0 44.8 L220.0 44.3 L221.5 44.3 M229.6 44.3 L229.6 51.6 M229.6 45.9 L228.6 44.8 L227.6 44.3 L226.1 44.3 L225.0 44.8 L224.0 45.9 L223.5 47.4 L223.5 48.5 L224.0 50.0 L225.0 51.1 L226.1 51.6 L227.6 51.6 L228.6 51.1 L229.6 50.0 M233.6 44.3 L233.6 51.6 M233.6 46.4 L235.2 44.8 L236.2 44.3 L237.7 44.3 L238.7 44.8 L239.2 46.4 L239.2 51.6 M239.2 46.4 L240.7 44.8 L241.7 44.3 L243.2 44.3 L244.3 44.8 L244.8 46.4 L244.8 51.6 M256.9 43.3 L256.9 42.8 L257.4 41.7 L257.9 41.2 L258.9 40.7 L260.9 40.7 L262.0 41.2 L262.5 41.7 L263.0 42.8 L263.0 43.8 L262.5 44.8 L261.4 46.4 L256.4 51.6 L263.5 51.6 M269.5 40.7 L268.0 41.2 L267.0 42.8 L266.5 45.4 L266.5 46.9 L267.0 49.5 L268.0 51.1 L269.5 51.6 L270.6 51.6 L272.1 51.1 L273.1 49.5 L273.6 46.9 L273.6 45.4 L273.1 42.8 L272.1 41.2 L270.6 40.7 L269.5 40.7 M278.1 42.8 L279.1 42.2 L280.7 40.7 L280.7 51.6 M289.8 40.7 L288.2 41.2 L287.2 42.8 L286.7 45.4 L286.7 46.9 L287.2 49.5 L288.2 51.1 L289.8 51.6 L290.8 51.6 L292.3 51.1 L293.3 49.5 L293.8 46.9 L293.8 45.4 L293.3 42.8 L292.3 41.2 L290.8 40.7 L289.8 40.7 M297.3 46.9 L306.4 46.9 M313.0 40.7 L311.5 41.2 L310.5 42.8 L310.0 45.4 L310.0 46.9 L310.5 49.5 L311.5 51.1 L313.0 51.6 L314.0 51.6 L315.5 51.1 L316.6 49.5 L317.1 46.9 L317.1 45.4 L316.6 42.8 L315.5 41.2 L314.0 40.7 L313.0 40.7 M326.7 44.3 L326.2 45.9 L325.2 46.9 L323.6 47.4 L323.1 47.4 L321.6 46.9 L320.6 45.9 L320.1 44.3 L320.1 43.8 L320.6 42.2 L321.6 41.2 L323.1 40.7 L323.6 40.7 L325.2 41.2 L326.2 42.2 L326.7 44.3 L326.7 46.9 L326.2 49.5 L325.2 51.1 L323.6 51.6 L322.6 51.6 L321.1 51.1 L320.6 50.0 M330.7 46.9 L339.8 46.9 M344.9 42.8 L345.9 42.2 L347.4 40.7 L347.4 51.6 M358.5 40.7 L353.5 48.0 L361.1 48.0 M358.5 40.7 L358.5 51.6 M372.2 38.6 L363.1 55.2 M377.7 40.7 L376.2 41.2 L375.2 42.8 L374.7 45.4 L374.7 46.9 L375.2 49.5 L376.2 51.1 L377.7 51.6 L378.7 51.6 L380.3 51.1 L381.3 49.5 L381.8 46.9 L381.8 45.4 L381.3 42.8 L380.3 41.2 L378.7 40.7 L377.7 40.7 M390.9 40.7 L385.8 40.7 L385.3 45.4 L385.8 44.8 L387.3 44.3 L388.9 44.3 L390.4 44.8 L391.4 45.9 L391.9 47.4 L391.9 48.5 L391.4 50.0 L390.4 51.1 L388.9 51.6 L387.3 51.6 L385.8 51.1 L385.3 50.6 L384.8 49.5 M395.9 44.3 L395.4 44.8 L395.9 45.4 L396.4 44.8 L395.9 44.3 M395.9 50.6 L395.4 51.1 L395.9 51.6 L396.4 51.1 L395.9 50.6 M406.0 40.7 L401.0 40.7 L400.5 45.4 L401.0 44.8 L402.5 44.3 L404.0 44.3 L405.5 44.8 L406.6 45.9 L407.1 47.4 L407.1 48.5 L406.6 50.0 L405.5 51.1 L404.0 51.6 L402.5 51.6 L401.0 51.1 L400.5 50.6 L400.0 49.5 M410.6 43.3 L410.6 42.8 L411.1 41.7 L411.6 41.2 L412.6 40.7 L414.6 40.7 L415.7 41.2 L416.2 41.7 L416.7 42.8 L416.7 43.8 L416.2 44.8 L415.1 46.4 L410.1 51.6 L417.2 51.6 M421.2 44.3 L420.7 44.8 L421.2 45.4 L421.7 44.8 L421.2 44.3 M421.2 50.6 L420.7 51.1 L421.2 51.6 L421.7 51.1 L421.2 50.6 M431.3 40.7 L426.3 40.7 L425.8 45.4 L426.3 44.8 L427.8 44.3 L429.3 44.3 L430.8 44.8 L431.8 45.9 L432.3 47.4 L432.3 48.5 L431.8 50.0 L430.8 51.1 L429.3 51.6 L427.8 51.6 L426.3 51.1 L425.8 50.6 L425.3 49.5 M440.4 40.7 L435.4 48.0 L443.0 48.0 M440.4 40.7 L440.4 51.6 M446.5 50.6 L446.0 51.1 L446.5 51.6 L447.0 51.1 L446.5 50.6 M451.6 40.7 L457.1 40.7 L454.1 44.8 L455.6 44.8 L456.6 45.4 L457.1 45.9 L457.6 47.4 L457.6 48.5 L457.1 50.0 L456.1 51.1 L454.6 51.6 L453.1 51.6 L451.6 51.1 L451.0 50.6 L450.5 49.5 M461.7 40.7 L467.2 40.7 L464.2 44.8 L465.7 44.8 L466.7 45.4 L467.2 45.9 L467.7 47.4 L467.7 48.5 L467.2 50.0 L466.2 51.1 L464.7 51.6 L463.2 51.6 L461.7 51.1 L461.2 50.6 L460.7 49.5 M482.9 38.6 L481.9 39.6 L480.9 41.2 L479.9 43.3 L479.4 45.9 L479.4 48.0 L479.9 50.6 L480.9 52.6 L481.9 54.2 L482.9 55.2 M486.4 40.7 L486.4 51.6 M486.4 51.6 L492.5 51.6 M500.6 44.3 L500.6 51.6 M500.6 45.9 L499.6 44.8 L498.6 44.3 L497.1 44.3 L496.0 44.8 L495.0 45.9 L494.5 47.4 L494.5 48.5 L495.0 50.0 L496.0 51.1 L497.1 51.6 L498.6 51.6 L499.6 51.1 L500.6 50.0 M505.1 40.7 L505.1 49.5 L505.6 51.1 L506.7 51.6 L507.7 51.6 M503.6 44.3 L507.2 44.3 M518.8 38.6 L509.7 55.2 M521.8 40.7 L521.8 51.6 M521.8 51.6 L527.9 51.6 M532.4 44.3 L531.4 44.8 L530.4 45.9 L529.9 47.4 L529.9 48.5 L530.4 50.0 L531.4 51.1 L532.4 51.6 L534.0 51.6 L535.0 51.1 L536.0 50.0 L536.5 48.5 L536.5 47.4 L536.0 45.9 L535.0 44.8 L534.0 44.3 L532.4 44.3 M540.0 44.3 L540.0 51.6 M540.0 46.4 L541.5 44.8 L542.6 44.3 L544.1 44.3 L545.1 44.8 L545.6 46.4 L545.6 51.6 M558.7 42.8 L559.7 42.2 L561.3 40.7 L561.3 51.6 M574.4 40.7 L569.4 51.6 M567.3 40.7 L574.4 40.7 M578.5 50.6 L577.9 51.1 L578.5 51.6 L579.0 51.1 L578.5 50.6 M583.5 40.7 L589.1 40.7 L586.0 44.8 L587.6 44.8 L588.6 45.4 L589.1 45.9 L589.6 47.4 L589.6 48.5 L589.1 50.0 L588.1 51.1 L586.5 51.6 L585.0 51.6 L583.5 51.1 L583.0 50.6 L582.5 49.5 M595.6 40.7 L594.1 41.2 L593.1 42.8 L592.6 45.4 L592.6 46.9 L593.1 49.5 L594.1 51.1 L595.6 51.6 L596.7 51.6 L598.2 51.1 L599.2 49.5 L599.7 46.9 L599.7 45.4 L599.2 42.8 L598.2 41.2 L596.7 40.7 L595.6 40.7 M611.3 38.6 L602.2 55.2 M615.4 42.8 L616.4 42.2 L617.9 40.7 L617.9 51.6 M625.5 42.8 L626.5 42.2 L628.0 40.7 L628.0 51.6 M640.1 40.7 L635.1 40.7 L634.6 45.4 L635.1 44.8 L636.6 44.3 L638.1 44.3 L639.6 44.8 L640.6 45.9 L641.1 47.4 L641.1 48.5 L640.6 50.0 L639.6 51.1 L638.1 51.6 L636.6 51.6 L635.1 51.1 L634.6 50.6 L634.1 49.5 M645.2 50.6 L644.7 51.1 L645.2 51.6 L645.7 51.1 L645.2 50.6 M651.8 40.7 L650.2 41.2 L649.7 42.2 L649.7 43.3 L650.2 44.3 L651.3 44.8 L653.3 45.4 L654.8 45.9 L655.8 46.9 L656.3 48.0 L656.3 49.5 L655.8 50.6 L655.3 51.1 L653.8 51.6 L651.8 51.6 L650.2 51.1 L649.7 50.6 L649.2 49.5 L649.2 48.0 L649.7 46.9 L650.8 45.9 L652.3 45.4 L654.3 44.8 L655.3 44.3 L655.8 43.3 L655.8 42.2 L655.3 41.2 L653.8 40.7 L651.8 40.7 M661.9 40.7 L660.4 41.2 L659.9 42.2 L659.9 43.3 L660.4 44.3 L661.4 44.8 L663.4 45.4 L664.9 45.9 L665.9 46.9 L666.4 48.0 L666.4 49.5 L665.9 50.6 L665.4 51.1 L663.9 51.6 L661.9 51.6 L660.4 51.1 L659.9 50.6 L659.3 49.5 L659.3 48.0 L659.9 46.9 L660.9 45.9 L662.4 45.4 L664.4 44.8 L665.4 44.3 L665.9 43.3 L665.9 42.2 L665.4 41.2 L663.9 40.7 L661.9 40.7 M683.6 40.7 L683.6 51.6 M683.6 45.9 L682.6 44.8 L681.6 44.3 L680.1 44.3 L679.1 44.8 L678.1 45.9 L677.5 47.4 L677.5 48.5 L678.1 50.0 L679.1 51.1 L680.1 51.6 L681.6 51.6 L682.6 51.1 L683.6 50.0 M687.2 47.4 L693.2 47.4 L693.2 46.4 L692.7 45.4 L692.2 44.8 L691.2 44.3 L689.7 44.3 L688.7 44.8 L687.7 45.9 L687.2 47.4 L687.2 48.5 L687.7 50.0 L688.7 51.1 L689.7 51.6 L691.2 51.6 L692.2 51.1 L693.2 50.0 M702.3 44.3 L702.3 52.6 L701.8 54.2 L701.3 54.7 L700.3 55.2 L698.8 55.2 L697.8 54.7 M702.3 45.9 L701.3 44.8 L700.3 44.3 L698.8 44.3 L697.8 44.8 L696.8 45.9 L696.3 47.4 L696.3 48.5 L696.8 50.0 L697.8 51.1 L698.8 51.6 L700.3 51.6 L701.3 51.1 L702.3 50.0 M705.9 38.6 L706.9 39.6 L707.9 41.2 L708.9 43.3 L709.4 45.9 L709.4 48.0 L708.9 50.6 L707.9 52.6 L706.9 54.2 L705.9 55.2"/></g>
<g class="hr" role="img" aria-label="-120"><title>-120</title><path d="M115.1 62.5 L121.2 62.5 M124.6 59.8 L125.3 59.5 L126.4 58.5 L126.4 65.5 M130.8 60.2 L130.8 59.8 L131.1 59.2 L131.5 58.8 L132.2 58.5 L133.5 58.5 L134.2 58.8 L134.6 59.2 L134.9 59.8 L134.9 60.5 L134.6 61.2 L133.9 62.2 L130.5 65.5 L135.2 65.5 M139.3 58.5 L138.3 58.8 L137.6 59.8 L137.3 61.5 L137.3 62.5 L137.6 64.2 L138.3 65.2 L139.3 65.5 L140.0 65.5 L141.1 65.2 L141.7 64.2 L142.1 62.5 L142.1 61.5 L141.7 59.8 L141.1 58.8 L140.0 58.5 L139.3 58.5"/></g>
<g class="hr" role="img" aria-label="-110"><title>-110</title><path d="M182.8 62.5 L189.0 62.5 M192.4 59.8 L193.1 59.5 L194.1 58.5 L194.1 65.5 M199.2 59.8 L199.9 59.5 L200.9 58.5 L200.9 65.5 M207.1 58.5 L206.1 58.8 L205.4 59.8 L205.0 61.5 L205.0 62.5 L205.4 64.2 L206.1 65.2 L207.1 65.5 L207.8 65.5 L208.8 65.2 L209.5 64.2 L209.8 62.5 L209.8 61.5 L209.5 59.8 L208.8 58.8 L207.8 58.5 L207.1 58.5"/></g>
<g class="hr" role="img" aria-label="-100"><title>-100</title><path d="M250.6 62.5 L256.7 62.5 M260.1 59.8 L260.8 59.5 L261.9 58.5 L261.9 65.5 M268.0 58.5 L267.0 58.8 L266.3 59.8 L266.0 61.5 L266.0 62.5 L266.3 64.2 L267.0 65.2 L268.0 65.5 L268.7 65.5 L269.7 65.2 L270.4 64.2 L270.7 62.5 L270.7 61.5 L270.4 59.8 L269.7 58.8 L268.7 58.5 L268.0 58.5 M274.8 58.5 L273.8 58.8 L273.1 59.8 L272.8 61.5 L272.8 62.5 L273.1 64.2 L273.8 65.2 L274.8 65.5 L275.5 65.5 L276.6 65.2 L277.2 64.2 L277.6 62.5 L277.6 61.5 L277.2 59.8 L276.6 58.8 L275.5 58.5 L274.8 58.5"/></g>
<g class="hr" role="img" aria-label="-90"><title>-90</title><path d="M324.3 62.5 L330.4 62.5 M337.1 60.8 L336.7 61.8 L336.1 62.5 L335.1 62.8 L334.7 62.8 L333.7 62.5 L333.1 61.8 L332.7 60.8 L332.7 60.5 L333.1 59.5 L333.7 58.8 L334.7 58.5 L335.1 58.5 L336.1 58.8 L336.7 59.5 L337.1 60.8 L337.1 62.5 L336.7 64.2 L336.1 65.2 L335.1 65.5 L334.4 65.5 L333.4 65.2 L333.1 64.5 M341.4 58.5 L340.4 58.8 L339.8 59.8 L339.4 61.5 L339.4 62.5 L339.8 64.2 L340.4 65.2 L341.4 65.5 L342.1 65.5 L343.1 65.2 L343.8 64.2 L344.1 62.5 L344.1 61.5 L343.8 59.8 L343.1 58.8 L342.1 58.5 L341.4 58.5"/></g>
<g class="hr" role="img" aria-label="-80"><title>-80</title><path d="M392.1 62.5 L398.1 62.5 M402.1 58.5 L401.1 58.8 L400.8 59.5 L400.8 60.2 L401.1 60.8 L401.8 61.2 L403.2 61.5 L404.2 61.8 L404.8 62.5 L405.2 63.2 L405.2 64.2 L404.8 64.8 L404.5 65.2 L403.5 65.5 L402.1 65.5 L401.1 65.2 L400.8 64.8 L400.5 64.2 L400.5 63.2 L400.8 62.5 L401.5 61.8 L402.5 61.5 L403.8 61.2 L404.5 60.8 L404.8 60.2 L404.8 59.5 L404.5 58.8 L403.5 58.5 L402.1 58.5 M409.2 58.5 L408.2 58.8 L407.5 59.8 L407.2 61.5 L407.2 62.5 L407.5 64.2 L408.2 65.2 L409.2 65.5 L409.9 65.5 L410.9 65.2 L411.5 64.2 L411.9 62.5 L411.9 61.5 L411.5 59.8 L410.9 58.8 L409.9 58.5 L409.2 58.5"/></g>
<g class="hr" role="img" aria-label="-70"><title>-70</title><path d="M459.8 62.5 L465.9 62.5 M472.9 58.5 L469.6 65.5 M468.2 58.5 L472.9 58.5 M476.9 58.5 L475.9 58.8 L475.3 59.8 L474.9 61.5 L474.9 62.5 L475.3 64.2 L475.9 65.2 L476.9 65.5 L477.6 65.5 L478.6 65.2 L479.3 64.2 L479.6 62.5 L479.6 61.5 L479.3 59.8 L478.6 58.8 L477.6 58.5 L476.9 58.5"/></g>
<g class="hr" role="img" aria-label="-60"><title>-60</title><path d="M527.6 62.5 L533.6 62.5 M540.3 59.5 L540.0 58.8 L539.0 58.5 L538.3 58.5 L537.3 58.8 L536.6 59.8 L536.3 61.5 L536.3 63.2 L536.6 64.5 L537.3 65.2 L538.3 65.5 L538.7 65.5 L539.7 65.2 L540.3 64.5 L540.7 63.5 L540.7 63.2 L540.3 62.2 L539.7 61.5 L538.7 61.2 L538.3 61.2 L537.3 61.5 L536.6 62.2 L536.3 63.2 M544.7 58.5 L543.7 58.8 L543.0 59.8 L542.7 61.5 L542.7 62.5 L543.0 64.2 L543.7 65.2 L544.7 65.5 L545.4 65.5 L546.4 65.2 L547.0 64.2 L547.4 62.5 L547.4 61.5 L547.0 59.8 L546.4 58.8 L545.4 58.5 L544.7 58.5"/></g>
<g class="hr" role="img" aria-label="-50"><title>-50</title><path d="M595.3 62.5 L601.4 62.5 M607.7 58.5 L604.4 58.5 L604.1 61.5 L604.4 61.2 L605.4 60.8 L606.4 60.8 L607.4 61.2 L608.1 61.8 L608.4 62.8 L608.4 63.5 L608.1 64.5 L607.4 65.2 L606.4 65.5 L605.4 65.5 L604.4 65.2 L604.1 64.8 L603.7 64.2 M612.4 58.5 L611.4 58.8 L610.8 59.8 L610.4 61.5 L610.4 62.5 L610.8 64.2 L611.4 65.2 L612.4 65.5 L613.1 65.5 L614.1 65.2 L614.8 64.2 L615.1 62.5 L615.1 61.5 L614.8 59.8 L614.1 58.8 L613.1 58.5 L612.4 58.5"/></g>
<g class="hr" role="img" aria-label="-40"><title>-40</title><path d="M663.1 62.5 L669.1 62.5 M674.8 58.5 L671.5 63.2 L676.5 63.2 M674.8 58.5 L674.8 65.5 M680.2 58.5 L679.2 58.8 L678.5 59.8 L678.2 61.5 L678.2 62.5 L678.5 64.2 L679.2 65.2 L680.2 65.5 L680.9 65.5 L681.9 65.2 L682.5 64.2 L682.9 62.5 L682.9 61.5 L682.5 59.8 L681.9 58.8 L680.9 58.5 L680.2 58.5"/></g>
<g class="hr" role="img" aria-label="-50"><title>-50</title><path d="M88.1 513.5 L94.5 513.5 M101.3 509.5 L97.7 509.5 L97.4 512.5 L97.7 512.2 L98.8 511.8 L99.8 511.8 L100.9 512.2 L101.6 512.8 L102.0 513.8 L102.0 514.5 L101.6 515.5 L100.9 516.2 L99.8 516.5 L98.8 516.5 L97.7 516.2 L97.4 515.8 L97.0 515.2 M106.3 509.5 L105.2 509.8 L104.5 510.8 L104.1 512.5 L104.1 513.5 L104.5 515.2 L105.2 516.2 L106.3 516.5 L107.0 516.5 L108.0 516.2 L108.7 515.2 L109.1 513.5 L109.1 512.5 L108.7 510.8 L108.0 509.8 L107.0 509.5 L106.3 509.5"/></g>
<g class="hr" role="img" aria-label="-40"><title>-40</title><path d="M155.4 513.5 L161.7 513.5 M167.7 509.5 L164.2 514.2 L169.4 514.2 M167.7 509.5 L167.7 516.5 M173.3 509.5 L172.2 509.8 L171.5 510.8 L171.2 512.5 L171.2 513.5 L171.5 515.2 L172.2 516.2 L173.3 516.5 L174.0 516.5 L175.0 516.2 L175.7 515.2 L176.1 513.5 L176.1 512.5 L175.7 510.8 L175.0 509.8 L174.0 509.5 L173.3 509.5"/></g>
<g class="hr" role="img" aria-label="-30"><title>-30</title><path d="M223.6 513.5 L229.9 513.5 M233.1 509.5 L237.0 509.5 L234.9 512.2 L235.9 512.2 L236.6 512.5 L237.0 512.8 L237.3 513.8 L237.3 514.5 L237.0 515.5 L236.3 516.2 L235.2 516.5 L234.2 516.5 L233.1 516.2 L232.8 515.8 L232.4 515.2 M241.6 509.5 L240.5 509.8 L239.8 510.8 L239.5 512.5 L239.5 513.5 L239.8 515.2 L240.5 516.2 L241.6 516.5 L242.3 516.5 L243.3 516.2 L244.0 515.2 L244.4 513.5 L244.4 512.5 L244.0 510.8 L243.3 509.8 L242.3 509.5 L241.6 509.5"/></g>
<g class="hr" role="img" aria-label="-20"><title>-20</title><path d="M291.4 513.5 L297.7 513.5 M300.5 511.2 L300.5 510.8 L300.9 510.2 L301.2 509.8 L301.9 509.5 L303.3 509.5 L304.0 509.8 L304.4 510.2 L304.7 510.8 L304.7 511.5 L304.4 512.2 L303.7 513.2 L300.2 516.5 L305.1 516.5 M309.3 509.5 L308.2 509.8 L307.5 510.8 L307.2 512.5 L307.2 513.5 L307.5 515.2 L308.2 516.2 L309.3 516.5 L310.0 516.5 L311.0 516.2 L311.7 515.2 L312.1 513.5 L312.1 512.5 L311.7 510.8 L311.0 509.8 L310.0 509.5 L309.3 509.5"/></g>
<g class="hr" role="img" aria-label="-10"><title>-10</title><path d="M359.2 513.5 L365.5 513.5 M369.0 510.8 L369.7 510.5 L370.8 509.5 L370.8 516.5 M377.1 509.5 L376.0 509.8 L375.3 510.8 L375.0 512.5 L375.0 513.5 L375.3 515.2 L376.0 516.2 L377.1 516.5 L377.8 516.5 L378.8 516.2 L379.5 515.2 L379.9 513.5 L379.9 512.5 L379.5 510.8 L378.8 509.8 L377.8 509.5 L377.1 509.5"/></g>
<g class="hr" role="img" aria-label="0"><title>0</title><path d="M436.4 509.5 L435.1 509.8 L434.2 510.8 L433.8 512.5 L433.8 513.5 L434.2 515.2 L435.1 516.2 L436.4 516.5 L437.2 516.5 L438.5 516.2 L439.4 515.2 L439.8 513.5 L439.8 512.5 L439.4 510.8 L438.5 509.8 L437.2 509.5 L436.4 509.5"/></g>
<g class="hr" role="img" aria-label="10"><title>10</title><path d="M497.5 510.8 L498.3 510.5 L499.5 509.5 L499.5 516.5 M506.8 509.5 L505.6 509.8 L504.8 510.8 L504.4 512.5 L504.4 513.5 L504.8 515.2 L505.6 516.2 L506.8 516.5 L507.6 516.5 L508.8 516.2 L509.6 515.2 L510.0 513.5 L510.0 512.5 L509.6 510.8 L508.8 509.8 L507.6 509.5 L506.8 509.5"/></g>
<g class="hr" role="img" aria-label="20"><title>20</title><path d="M566.1 511.2 L566.1 510.8 L566.5 510.2 L566.9 509.8 L567.7 509.5 L569.2 509.5 L570.0 509.8 L570.4 510.2 L570.8 510.8 L570.8 511.5 L570.4 512.2 L569.6 513.2 L565.7 516.5 L571.2 516.5 M575.9 509.5 L574.7 509.8 L573.9 510.8 L573.5 512.5 L573.5 513.5 L573.9 515.2 L574.7 516.2 L575.9 516.5 L576.7 516.5 L577.8 516.2 L578.6 515.2 L579.0 513.5 L579.0 512.5 L578.6 510.8 L577.8 509.8 L576.7 509.5 L575.9 509.5"/></g>
<g class="hr" role="img" aria-label="30"><title>30</title><path d="M634.6 509.5 L638.8 509.5 L636.5 512.2 L637.6 512.2 L638.4 512.5 L638.8 512.8 L639.2 513.8 L639.2 514.5 L638.8 515.5 L638.0 516.2 L636.9 516.5 L635.7 516.5 L634.6 516.2 L634.2 515.8 L633.8 515.2 M643.7 509.5 L642.6 509.8 L641.8 510.8 L641.4 512.5 L641.4 513.5 L641.8 515.2 L642.6 516.2 L643.7 516.5 L644.5 516.5 L645.7 516.2 L646.4 515.2 L646.8 513.5 L646.8 512.5 L646.4 510.8 L645.7 509.8 L644.5 509.5 L643.7 509.5"/></g>
<g class="hr" role="img" aria-label="T(C)"><title>T(C)</title><path d="M680.0 509.5 L680.0 516.5 M677.6 509.5 L682.3 509.5 M686.4 508.2 L685.7 508.8 L685.0 509.8 L684.3 511.2 L684.0 512.8 L684.0 514.2 L684.3 515.8 L685.0 517.2 L685.7 518.2 L686.4 518.8 M693.4 511.2 L693.1 510.5 L692.4 509.8 L691.7 509.5 L690.4 509.5 L689.7 509.8 L689.0 510.5 L688.7 511.2 L688.4 512.2 L688.4 513.8 L688.7 514.8 L689.0 515.5 L689.7 516.2 L690.4 516.5 L691.7 516.5 L692.4 516.2 L693.1 515.5 L693.4 514.8 M695.4 508.2 L696.1 508.8 L696.8 509.8 L697.5 511.2 L697.8 512.8 L697.8 514.2 L697.5 515.8 L696.8 517.2 L696.1 518.2 L695.4 518.8"/></g>
<g class="hk" role="img" aria-label="100"><title>100</title><path d="M48.7 68.6 L49.4 68.3 L50.5 67.3 L50.5 74.5 M57.0 67.3 L55.9 67.6 L55.2 68.6 L54.8 70.4 L54.8 71.4 L55.2 73.1 L55.9 74.2 L57.0 74.5 L57.7 74.5 L58.7 74.2 L59.5 73.1 L59.8 71.4 L59.8 70.4 L59.5 68.6 L58.7 67.6 L57.7 67.3 L57.0 67.3 M64.1 67.3 L63.1 67.6 L62.3 68.6 L62.0 70.4 L62.0 71.4 L62.3 73.1 L63.1 74.2 L64.1 74.5 L64.8 74.5 L65.9 74.2 L66.6 73.1 L67.0 71.4 L67.0 70.4 L66.6 68.6 L65.9 67.6 L64.8 67.3 L64.1 67.3"/></g>
<g class="hk" role="img" aria-label="200"><title>200</title><path d="M49.0 196.0 L49.0 195.6 L49.4 194.9 L49.7 194.6 L50.4 194.3 L51.8 194.3 L52.4 194.6 L52.8 194.9 L53.1 195.6 L53.1 196.3 L52.8 197.0 L52.1 198.1 L48.7 201.5 L53.4 201.5 M57.5 194.3 L56.5 194.6 L55.8 195.6 L55.5 197.4 L55.5 198.4 L55.8 200.1 L56.5 201.2 L57.5 201.5 L58.2 201.5 L59.2 201.2 L59.9 200.1 L60.2 198.4 L60.2 197.4 L59.9 195.6 L59.2 194.6 L58.2 194.3 L57.5 194.3 M64.3 194.3 L63.3 194.6 L62.6 195.6 L62.3 197.4 L62.3 198.4 L62.6 200.1 L63.3 201.2 L64.3 201.5 L65.0 201.5 L66.0 201.2 L66.7 200.1 L67.0 198.4 L67.0 197.4 L66.7 195.6 L66.0 194.6 L65.0 194.3 L64.3 194.3"/></g>
<g class="hk" role="img" aria-label="300"><title>300</title><path d="M49.4 268.3 L53.1 268.3 L51.1 271.0 L52.1 271.0 L52.8 271.4 L53.1 271.7 L53.4 272.7 L53.4 273.4 L53.1 274.5 L52.4 275.2 L51.4 275.5 L50.4 275.5 L49.4 275.2 L49.0 274.8 L48.7 274.1 M57.5 268.3 L56.5 268.6 L55.8 269.6 L55.5 271.4 L55.5 272.4 L55.8 274.1 L56.5 275.2 L57.5 275.5 L58.2 275.5 L59.2 275.2 L59.9 274.1 L60.2 272.4 L60.2 271.4 L59.9 269.6 L59.2 268.6 L58.2 268.3 L57.5 268.3 M64.3 268.3 L63.3 268.6 L62.6 269.6 L62.3 271.4 L62.3 272.4 L62.6 274.1 L63.3 275.2 L64.3 275.5 L65.0 275.5 L66.0 275.2 L66.7 274.1 L67.0 272.4 L67.0 271.4 L66.7 269.6 L66.0 268.6 L65.0 268.3 L64.3 268.3"/></g>
<g class="hk" role="img" aria-label="400"><title>400</title><path d="M52.1 320.3 L48.7 325.1 L53.8 325.1 M52.1 320.3 L52.1 327.5 M57.5 320.3 L56.5 320.6 L55.8 321.6 L55.5 323.4 L55.5 324.4 L55.8 326.1 L56.5 327.2 L57.5 327.5 L58.2 327.5 L59.2 327.2 L59.9 326.1 L60.2 324.4 L60.2 323.4 L59.9 321.6 L59.2 320.6 L58.2 320.3 L57.5 320.3 M64.3 320.3 L63.3 320.6 L62.6 321.6 L62.3 323.4 L62.3 324.4 L62.6 326.1 L63.3 327.2 L64.3 327.5 L65.0 327.5 L66.0 327.2 L66.7 326.1 L67.0 324.4 L67.0 323.4 L66.7 321.6 L66.0 320.6 L65.0 320.3 L64.3 320.3"/></g>
<g class="hk" role="img" aria-label="500"><title>500</title><path d="M52.8 361.3 L49.4 361.3 L49.0 364.4 L49.4 364.0 L50.4 363.7 L51.4 363.7 L52.4 364.0 L53.1 364.7 L53.4 365.7 L53.4 366.4 L53.1 367.5 L52.4 368.2 L51.4 368.5 L50.4 368.5 L49.4 368.2 L49.0 367.8 L48.7 367.1 M57.5 361.3 L56.5 361.6 L55.8 362.6 L55.5 364.4 L55.5 365.4 L55.8 367.1 L56.5 368.2 L57.5 368.5 L58.2 368.5 L59.2 368.2 L59.9 367.1 L60.2 365.4 L60.2 364.4 L59.9 362.6 L59.2 361.6 L58.2 361.3 L57.5 361.3 M64.3 361.3 L63.3 361.6 L62.6 362.6 L62.3 364.4 L62.3 365.4 L62.6 367.1 L63.3 368.2 L64.3 368.5 L65.0 368.5 L66.0 368.2 L66.7 367.1 L67.0 365.4 L67.0 364.4 L66.7 362.6 L66.0 361.6 L65.0 361.3 L64.3 361.3"/></g>
<g class="hk" role="img" aria-label="600"><title>600</title><path d="M52.8 395.3 L52.5 394.6 L51.5 394.3 L50.8 394.3 L49.7 394.6 L49.0 395.6 L48.7 397.4 L48.7 399.1 L49.0 400.5 L49.7 401.2 L50.8 401.5 L51.1 401.5 L52.2 401.2 L52.8 400.5 L53.2 399.4 L53.2 399.1 L52.8 398.1 L52.2 397.4 L51.1 397.0 L50.8 397.0 L49.7 397.4 L49.0 398.1 L48.7 399.1 M57.3 394.3 L56.3 394.6 L55.6 395.6 L55.3 397.4 L55.3 398.4 L55.6 400.1 L56.3 401.2 L57.3 401.5 L58.0 401.5 L59.1 401.2 L59.7 400.1 L60.1 398.4 L60.1 397.4 L59.7 395.6 L59.1 394.6 L58.0 394.3 L57.3 394.3 M64.2 394.3 L63.2 394.6 L62.5 395.6 L62.2 397.4 L62.2 398.4 L62.5 400.1 L63.2 401.2 L64.2 401.5 L64.9 401.5 L66.0 401.2 L66.7 400.1 L67.0 398.4 L67.0 397.4 L66.7 395.6 L66.0 394.6 L64.9 394.3 L64.2 394.3"/></g>
<g class="hk" role="img" aria-label="700"><title>700</title><path d="M53.4 422.3 L50.1 429.5 M48.7 422.3 L53.4 422.3 M57.5 422.3 L56.5 422.6 L55.8 423.6 L55.5 425.4 L55.5 426.4 L55.8 428.1 L56.5 429.2 L57.5 429.5 L58.2 429.5 L59.2 429.2 L59.9 428.1 L60.2 426.4 L60.2 425.4 L59.9 423.6 L59.2 422.6 L58.2 422.3 L57.5 422.3 M64.3 422.3 L63.3 422.6 L62.6 423.6 L62.3 425.4 L62.3 426.4 L62.6 428.1 L63.3 429.2 L64.3 429.5 L65.0 429.5 L66.0 429.2 L66.7 428.1 L67.0 426.4 L67.0 425.4 L66.7 423.6 L66.0 422.6 L65.0 422.3 L64.3 422.3"/></g>
<g class="hk" role="img" aria-label="800"><title>800</title><path d="M50.4 446.3 L49.4 446.6 L49.0 447.3 L49.0 448.0 L49.4 448.7 L50.1 449.0 L51.4 449.4 L52.4 449.7 L53.1 450.4 L53.4 451.1 L53.4 452.1 L53.1 452.8 L52.8 453.2 L51.8 453.5 L50.4 453.5 L49.4 453.2 L49.0 452.8 L48.7 452.1 L48.7 451.1 L49.0 450.4 L49.7 449.7 L50.7 449.4 L52.1 449.0 L52.8 448.7 L53.1 448.0 L53.1 447.3 L52.8 446.6 L51.8 446.3 L50.4 446.3 M57.5 446.3 L56.5 446.6 L55.8 447.6 L55.5 449.4 L55.5 450.4 L55.8 452.1 L56.5 453.2 L57.5 453.5 L58.2 453.5 L59.2 453.2 L59.9 452.1 L60.2 450.4 L60.2 449.4 L59.9 447.6 L59.2 446.6 L58.2 446.3 L57.5 446.3 M64.3 446.3 L63.3 446.6 L62.6 447.6 L62.3 449.4 L62.3 450.4 L62.6 452.1 L63.3 453.2 L64.3 453.5 L65.0 453.5 L66.0 453.2 L66.7 452.1 L67.0 450.4 L67.0 449.4 L66.7 447.6 L66.0 446.6 L65.0 446.3 L64.3 446.3"/></g>
<g class="hk" role="img" aria-label="900"><title>900</title><path d="M53.1 470.7 L52.8 471.7 L52.1 472.4 L51.1 472.7 L50.7 472.7 L49.7 472.4 L49.0 471.7 L48.7 470.7 L48.7 470.3 L49.0 469.3 L49.7 468.6 L50.7 468.3 L51.1 468.3 L52.1 468.6 L52.8 469.3 L53.1 470.7 L53.1 472.4 L52.8 474.1 L52.1 475.2 L51.1 475.5 L50.4 475.5 L49.4 475.2 L49.0 474.5 M57.5 468.3 L56.5 468.6 L55.8 469.6 L55.5 471.4 L55.5 472.4 L55.8 474.1 L56.5 475.2 L57.5 475.5 L58.2 475.5 L59.2 475.2 L59.9 474.1 L60.2 472.4 L60.2 471.4 L59.9 469.6 L59.2 468.6 L58.2 468.3 L57.5 468.3 M64.3 468.3 L63.3 468.6 L62.6 469.6 L62.3 471.4 L62.3 472.4 L62.6 474.1 L63.3 475.2 L64.3 475.5 L65.0 475.5 L66.0 475.2 L66.7 474.1 L67.0 472.4 L67.0 471.4 L66.7 469.6 L66.0 468.6 L65.0 468.3 L64.3 468.3"/></g>
<g class="hk" role="img" aria-label="1000"><title>1000</title><path d="M42.7 488.6 L43.4 488.3 L44.4 487.3 L44.4 494.5 M50.6 487.3 L49.5 487.6 L48.9 488.6 L48.5 490.4 L48.5 491.4 L48.9 493.1 L49.5 494.2 L50.6 494.5 L51.3 494.5 L52.3 494.2 L53.0 493.1 L53.3 491.4 L53.3 490.4 L53.0 488.6 L52.3 487.6 L51.3 487.3 L50.6 487.3 M57.4 487.3 L56.4 487.6 L55.7 488.6 L55.4 490.4 L55.4 491.4 L55.7 493.1 L56.4 494.2 L57.4 494.5 L58.1 494.5 L59.1 494.2 L59.8 493.1 L60.2 491.4 L60.2 490.4 L59.8 488.6 L59.1 487.6 L58.1 487.3 L57.4 487.3 M64.3 487.3 L63.2 487.6 L62.6 488.6 L62.2 490.4 L62.2 491.4 L62.6 493.1 L63.2 494.2 L64.3 494.5 L64.9 494.5 L66.0 494.2 L66.7 493.1 L67.0 491.4 L67.0 490.4 L66.7 488.6 L66.0 487.6 L64.9 487.3 L64.3 487.3"/></g>
<g class="hk" role="img" aria-label="PRESSURE (MB)"><title>PRESSURE (MB)</title><path d="M71.5 331.5 L82.5 331.5 M71.5 331.5 L71.5 327.7 L72.0 326.4 L72.5 326.0 L73.6 325.6 L75.2 325.6 L76.2 326.0 L76.7 326.4 L77.3 327.7 L77.3 331.5 M71.5 322.6 L82.5 322.6 M71.5 322.6 L71.5 318.8 L72.0 317.5 L72.5 317.1 L73.6 316.7 L74.6 316.7 L75.7 317.1 L76.2 317.5 L76.7 318.8 L76.7 322.6 M76.7 319.7 L82.5 316.7 M71.5 313.7 L82.5 313.7 M71.5 313.7 L71.5 308.2 M76.7 313.7 L76.7 310.3 M82.5 313.7 L82.5 308.2 M73.1 300.2 L72.0 301.0 L71.5 302.3 L71.5 304.0 L72.0 305.2 L73.1 306.1 L74.1 306.1 L75.2 305.7 L75.7 305.2 L76.2 304.4 L77.3 301.8 L77.8 301.0 L78.3 300.6 L79.4 300.2 L80.9 300.2 L82.0 301.0 L82.5 302.3 L82.5 304.0 L82.0 305.2 L80.9 306.1 M73.1 291.7 L72.0 292.5 L71.5 293.8 L71.5 295.5 L72.0 296.8 L73.1 297.6 L74.1 297.6 L75.2 297.2 L75.7 296.8 L76.2 295.9 L77.3 293.4 L77.8 292.5 L78.3 292.1 L79.4 291.7 L80.9 291.7 L82.0 292.5 L82.5 293.8 L82.5 295.5 L82.0 296.8 L80.9 297.6 M71.5 288.7 L79.4 288.7 L80.9 288.3 L82.0 287.4 L82.5 286.2 L82.5 285.3 L82.0 284.0 L80.9 283.2 L79.4 282.8 L71.5 282.8 M71.5 279.4 L82.5 279.4 M71.5 279.4 L71.5 275.6 L72.0 274.3 L72.5 273.9 L73.6 273.4 L74.6 273.4 L75.7 273.9 L76.2 274.3 L76.7 275.6 L76.7 279.4 M76.7 276.4 L82.5 273.4 M71.5 270.5 L82.5 270.5 M71.5 270.5 L71.5 265.0 M76.7 270.5 L76.7 267.1 M82.5 270.5 L82.5 265.0 M69.4 252.7 L70.5 253.5 L72.0 254.4 L74.1 255.2 L76.7 255.6 L78.8 255.6 L81.5 255.2 L83.5 254.4 L85.1 253.5 L86.2 252.7 M71.5 249.7 L82.5 249.7 M71.5 249.7 L82.5 246.3 M71.5 242.9 L82.5 246.3 M71.5 242.9 L82.5 242.9 M71.5 239.5 L82.5 239.5 M71.5 239.5 L71.5 235.7 L72.0 234.4 L72.5 234.0 L73.6 233.6 L74.6 233.6 L75.7 234.0 L76.2 234.4 L76.7 235.7 M76.7 239.5 L76.7 235.7 L77.3 234.4 L77.8 234.0 L78.8 233.6 L80.4 233.6 L81.5 234.0 L82.0 234.4 L82.5 235.7 L82.5 239.5 M69.4 231.0 L70.5 230.2 L72.0 229.3 L74.1 228.5 L76.7 228.1 L78.8 228.1 L81.5 228.5 L83.5 229.3 L85.1 230.2 L86.2 231.0"/></g>
<g class="hr" role="img" aria-label="Ambient Air Temp"><title>Ambient Air Temp</title><path d="M122.6 104.0 L117.8 116.6 M122.6 104.0 L127.3 116.6 M119.6 112.4 L125.5 112.4 M130.3 108.2 L130.3 116.6 M130.3 110.6 L132.1 108.8 L133.3 108.2 L135.1 108.2 L136.3 108.8 L136.8 110.6 L136.8 116.6 M136.8 110.6 L138.6 108.8 L139.8 108.2 L141.6 108.2 L142.8 108.8 L143.4 110.6 L143.4 116.6 M148.2 104.0 L148.2 116.6 M148.2 110.0 L149.3 108.8 L150.5 108.2 L152.3 108.2 L153.5 108.8 L154.7 110.0 L155.3 111.8 L155.3 113.0 L154.7 114.8 L153.5 116.0 L152.3 116.6 L150.5 116.6 L149.3 116.0 L148.2 114.8 M158.9 104.0 L159.5 104.6 L160.1 104.0 L159.5 103.4 L158.9 104.0 M159.5 108.2 L159.5 116.6 M163.6 111.8 L170.8 111.8 L170.8 110.6 L170.2 109.4 L169.6 108.8 L168.4 108.2 L166.6 108.2 L165.4 108.8 L164.2 110.0 L163.6 111.8 L163.6 113.0 L164.2 114.8 L165.4 116.0 L166.6 116.6 L168.4 116.6 L169.6 116.0 L170.8 114.8 M174.9 108.2 L174.9 116.6 M174.9 110.6 L176.7 108.8 L177.9 108.2 L179.7 108.2 L180.9 108.8 L181.5 110.6 L181.5 116.6 M186.8 104.0 L186.8 114.2 L187.4 116.0 L188.6 116.6 L189.8 116.6 M185.1 108.2 L189.2 108.2 M205.9 104.0 L201.1 116.6 M205.9 104.0 L210.7 116.6 M202.9 112.4 L208.9 112.4 M213.0 104.0 L213.6 104.6 L214.2 104.0 L213.6 103.4 L213.0 104.0 M213.6 108.2 L213.6 116.6 M218.4 108.2 L218.4 116.6 M218.4 111.8 L219.0 110.0 L220.2 108.8 L221.4 108.2 L223.2 108.2 M238.0 104.0 L238.0 116.6 M233.9 104.0 L242.2 104.0 M244.6 111.8 L251.7 111.8 L251.7 110.6 L251.1 109.4 L250.5 108.8 L249.4 108.2 L247.6 108.2 L246.4 108.8 L245.2 110.0 L244.6 111.8 L244.6 113.0 L245.2 114.8 L246.4 116.0 L247.6 116.6 L249.4 116.6 L250.5 116.0 L251.7 114.8 M255.9 108.2 L255.9 116.6 M255.9 110.6 L257.7 108.8 L258.9 108.2 L260.7 108.2 L261.9 108.8 L262.4 110.6 L262.4 116.6 M262.4 110.6 L264.2 108.8 L265.4 108.2 L267.2 108.2 L268.4 108.8 L269.0 110.6 L269.0 116.6 M273.8 108.2 L273.8 120.8 M273.8 110.0 L274.9 108.8 L276.1 108.2 L277.9 108.2 L279.1 108.8 L280.3 110.0 L280.9 111.8 L280.9 113.0 L280.3 114.8 L279.1 116.0 L277.9 116.6 L276.1 116.6 L274.9 116.0 L273.8 114.8"/></g>
<g class="hb" role="img" aria-label="Dew Point Temp"><title>Dew Point Temp</title><path d="M119.0 125.5 L119.0 138.1 M119.0 125.5 L123.2 125.5 L125.0 126.1 L126.2 127.3 L126.8 128.5 L127.4 130.3 L127.4 133.3 L126.8 135.1 L126.2 136.3 L125.0 137.5 L123.2 138.1 L119.0 138.1 M130.9 133.3 L138.1 133.3 L138.1 132.1 L137.5 130.9 L136.9 130.3 L135.7 129.7 L133.9 129.7 L132.7 130.3 L131.5 131.5 L130.9 133.3 L130.9 134.5 L131.5 136.3 L132.7 137.5 L133.9 138.1 L135.7 138.1 L136.9 137.5 L138.1 136.3 M141.7 129.7 L144.1 138.1 M146.5 129.7 L144.1 138.1 M146.5 129.7 L148.8 138.1 M151.2 129.7 L148.8 138.1 M165.0 125.5 L165.0 138.1 M165.0 125.5 L170.3 125.5 L172.1 126.1 L172.7 126.7 L173.3 127.9 L173.3 129.7 L172.7 130.9 L172.1 131.5 L170.3 132.1 L165.0 132.1 M179.9 129.7 L178.7 130.3 L177.5 131.5 L176.9 133.3 L176.9 134.5 L177.5 136.3 L178.7 137.5 L179.9 138.1 L181.7 138.1 L182.9 137.5 L184.0 136.3 L184.6 134.5 L184.6 133.3 L184.0 131.5 L182.9 130.3 L181.7 129.7 L179.9 129.7 M188.2 125.5 L188.8 126.1 L189.4 125.5 L188.8 124.9 L188.2 125.5 M188.8 129.7 L188.8 138.1 M193.6 129.7 L193.6 138.1 M193.6 132.1 L195.4 130.3 L196.6 129.7 L198.4 129.7 L199.6 130.3 L200.2 132.1 L200.2 138.1 M205.5 125.5 L205.5 135.7 L206.1 137.5 L207.3 138.1 L208.5 138.1 M203.7 129.7 L207.9 129.7 M224.0 125.5 L224.0 138.1 M219.9 125.5 L228.2 125.5 M230.6 133.3 L237.8 133.3 L237.8 132.1 L237.2 130.9 L236.6 130.3 L235.4 129.7 L233.6 129.7 L232.4 130.3 L231.2 131.5 L230.6 133.3 L230.6 134.5 L231.2 136.3 L232.4 137.5 L233.6 138.1 L235.4 138.1 L236.6 137.5 L237.8 136.3 M241.9 129.7 L241.9 138.1 M241.9 132.1 L243.7 130.3 L244.9 129.7 L246.7 129.7 L247.9 130.3 L248.5 132.1 L248.5 138.1 M248.5 132.1 L250.3 130.3 L251.5 129.7 L253.3 129.7 L254.5 130.3 L255.1 132.1 L255.1 138.1 M259.8 129.7 L259.8 142.3 M259.8 131.5 L261.0 130.3 L262.2 129.7 L264.0 129.7 L265.2 130.3 L266.4 131.5 L267.0 133.3 L267.0 134.5 L266.4 136.3 L265.2 137.5 L264.0 138.1 L262.2 138.1 L261.0 137.5 L259.8 136.3"/></g>
<g class="hp" role="img" aria-label="Air Parcel Temp"><title>Air Parcel Temp</title><path d="M122.6 147.0 L117.8 159.6 M122.6 147.0 L127.4 159.6 M119.6 155.4 L125.6 155.4 M129.8 147.0 L130.4 147.6 L131.0 147.0 L130.4 146.4 L129.8 147.0 M130.4 151.2 L130.4 159.6 M135.2 151.2 L135.2 159.6 M135.2 154.8 L135.8 153.0 L137.0 151.8 L138.2 151.2 L140.0 151.2 M152.5 147.0 L152.5 159.6 M152.5 147.0 L157.9 147.0 L159.7 147.6 L160.3 148.2 L160.9 149.4 L160.9 151.2 L160.3 152.4 L159.7 153.0 L157.9 153.6 L152.5 153.6 M171.7 151.2 L171.7 159.6 M171.7 153.0 L170.5 151.8 L169.3 151.2 L167.5 151.2 L166.3 151.8 L165.1 153.0 L164.5 154.8 L164.5 156.0 L165.1 157.8 L166.3 159.0 L167.5 159.6 L169.3 159.6 L170.5 159.0 L171.7 157.8 M176.5 151.2 L176.5 159.6 M176.5 154.8 L177.1 153.0 L178.3 151.8 L179.5 151.2 L181.3 151.2 M190.9 153.0 L189.7 151.8 L188.5 151.2 L186.7 151.2 L185.5 151.8 L184.3 153.0 L183.7 154.8 L183.7 156.0 L184.3 157.8 L185.5 159.0 L186.7 159.6 L188.5 159.6 L189.7 159.0 L190.9 157.8 M194.4 154.8 L201.6 154.8 L201.6 153.6 L201.0 152.4 L200.4 151.8 L199.2 151.2 L197.4 151.2 L196.2 151.8 L195.0 153.0 L194.4 154.8 L194.4 156.0 L195.0 157.8 L196.2 159.0 L197.4 159.6 L199.2 159.6 L200.4 159.0 L201.6 157.8 M205.8 147.0 L205.8 159.6 M222.6 147.0 L222.6 159.6 M218.4 147.0 L226.8 147.0 M229.2 154.8 L236.4 154.8 L236.4 153.6 L235.8 152.4 L235.2 151.8 L234.0 151.2 L232.2 151.2 L231.0 151.8 L229.8 153.0 L229.2 154.8 L229.2 156.0 L229.8 157.8 L231.0 159.0 L232.2 159.6 L234.0 159.6 L235.2 159.0 L236.4 157.8 M240.6 151.2 L240.6 159.6 M240.6 153.6 L242.3 151.8 L243.5 151.2 L245.3 151.2 L246.5 151.8 L247.1 153.6 L247.1 159.6 M247.1 153.6 L248.9 151.8 L250.1 151.2 L251.9 151.2 L253.1 151.8 L253.7 153.6 L253.7 159.6 M258.5 151.2 L258.5 163.8 M258.5 153.0 L259.7 151.8 L260.9 151.2 L262.7 151.2 L263.9 151.8 L265.1 153.0 L265.7 154.8 L265.7 156.0 L265.1 157.8 L263.9 159.0 L262.7 159.6 L260.9 159.6 L259.7 159.0 L258.5 157.8"/></g>
<g class="hk" role="img" aria-label="TP:100"><title>TP:100</title><path d="M704.2 75.5 L704.2 84.5 M701.2 75.5 L707.2 75.5 M709.3 75.5 L709.3 84.5 M709.3 75.5 L713.1 75.5 L714.4 75.9 L714.8 76.3 L715.3 77.2 L715.3 78.5 L714.8 79.3 L714.4 79.8 L713.1 80.2 L709.3 80.2 M718.7 78.5 L718.2 78.9 L718.7 79.3 L719.1 78.9 L718.7 78.5 M718.7 83.6 L718.2 84.1 L718.7 84.5 L719.1 84.1 L718.7 83.6 M723.3 77.2 L724.2 76.8 L725.5 75.5 L725.5 84.5 M733.1 75.5 L731.8 75.9 L731.0 77.2 L730.6 79.3 L730.6 80.6 L731.0 82.8 L731.8 84.1 L733.1 84.5 L734.0 84.5 L735.2 84.1 L736.1 82.8 L736.5 80.6 L736.5 79.3 L736.1 77.2 L735.2 75.9 L734.0 75.5 L733.1 75.5 M741.6 75.5 L740.3 75.9 L739.5 77.2 L739.1 79.3 L739.1 80.6 L739.5 82.8 L740.3 84.1 L741.6 84.5 L742.5 84.5 L743.7 84.1 L744.6 82.8 L745.0 80.6 L745.0 79.3 L744.6 77.2 L743.7 75.9 L742.5 75.5 L741.6 75.5"/></g>
<g class="hk" role="img" aria-label="MW:N/A"><title>MW:N/A</title><path d="M701.3 91.7 L701.3 100.8 M701.3 91.7 L704.8 100.8 M708.3 91.7 L704.8 100.8 M708.3 91.7 L708.3 100.8 M710.9 91.7 L713.0 100.8 M715.2 91.7 L713.0 100.8 M715.2 91.7 L717.4 100.8 M719.6 91.7 L717.4 100.8 M722.6 94.7 L722.2 95.2 L722.6 95.6 L723.0 95.2 L722.6 94.7 M722.6 99.9 L722.2 100.3 L722.6 100.8 L723.0 100.3 L722.6 99.9 M726.5 91.7 L726.5 100.8 M726.5 91.7 L732.6 100.8 M732.6 91.7 L732.6 100.8 M743.0 90.0 L735.2 103.8 M747.8 91.7 L744.3 100.8 M747.8 91.7 L751.3 100.8 M745.6 97.7 L750.0 97.7"/></g>
<g class="hk" role="img" aria-label="FRZ:567"><title>FRZ:567</title><path d="M701.2 106.5 L701.2 115.5 M701.2 106.5 L706.7 106.5 M701.2 110.8 L704.6 110.8 M708.8 106.5 L708.8 115.5 M708.8 106.5 L712.6 106.5 L713.9 106.9 L714.3 107.3 L714.7 108.2 L714.7 109.0 L714.3 109.9 L713.9 110.3 L712.6 110.8 L708.8 110.8 M711.8 110.8 L714.7 115.5 M723.1 106.5 L717.2 115.5 M717.2 106.5 L723.1 106.5 M717.2 115.5 L723.1 115.5 M726.5 109.5 L726.0 109.9 L726.5 110.3 L726.9 109.9 L726.5 109.5 M726.5 114.6 L726.0 115.1 L726.5 115.5 L726.9 115.1 L726.5 114.6 M734.9 106.5 L730.7 106.5 L730.2 110.3 L730.7 109.9 L731.9 109.5 L733.2 109.5 L734.4 109.9 L735.3 110.8 L735.7 112.1 L735.7 112.9 L735.3 114.2 L734.4 115.1 L733.2 115.5 L731.9 115.5 L730.7 115.1 L730.2 114.6 L729.8 113.8 M743.7 107.8 L743.3 106.9 L742.0 106.5 L741.2 106.5 L739.9 106.9 L739.1 108.2 L738.6 110.3 L738.6 112.5 L739.1 114.2 L739.9 115.1 L741.2 115.5 L741.6 115.5 L742.8 115.1 L743.7 114.2 L744.1 112.9 L744.1 112.5 L743.7 111.2 L742.8 110.3 L741.6 109.9 L741.2 109.9 L739.9 110.3 L739.1 111.2 L738.6 112.5 M752.5 106.5 L748.3 115.5 M746.6 106.5 L752.5 106.5"/></g>
<g class="hk" role="img" aria-label="WB0:770"><title>WB0:770</title><path d="M700.0 122.2 L702.2 131.2 M704.3 122.2 L702.2 131.2 M704.3 122.2 L706.5 131.2 M708.7 122.2 L706.5 131.2 M711.2 122.2 L711.2 131.2 M711.2 122.2 L715.1 122.2 L716.4 122.7 L716.9 123.1 L717.3 123.9 L717.3 124.8 L716.9 125.7 L716.4 126.1 L715.1 126.5 M711.2 126.5 L715.1 126.5 L716.4 127.0 L716.9 127.4 L717.3 128.2 L717.3 129.5 L716.9 130.4 L716.4 130.8 L715.1 131.2 L711.2 131.2 M722.5 122.2 L721.2 122.7 L720.3 123.9 L719.9 126.1 L719.9 127.4 L720.3 129.5 L721.2 130.8 L722.5 131.2 L723.4 131.2 L724.7 130.8 L725.5 129.5 L726.0 127.4 L726.0 126.1 L725.5 123.9 L724.7 122.7 L723.4 122.2 L722.5 122.2 M729.4 125.2 L729.0 125.7 L729.4 126.1 L729.9 125.7 L729.4 125.2 M729.4 130.4 L729.0 130.8 L729.4 131.2 L729.9 130.8 L729.4 130.4 M738.9 122.2 L734.6 131.2 M732.9 122.2 L738.9 122.2 M747.6 122.2 L743.3 131.2 M741.5 122.2 L747.6 122.2 M752.8 122.2 L751.5 122.7 L750.6 123.9 L750.2 126.1 L750.2 127.4 L750.6 129.5 L751.5 130.8 L752.8 131.2 L753.7 131.2 L755.0 130.8 L755.8 129.5 L756.2 127.4 L756.2 126.1 L755.8 123.9 L755.0 122.7 L753.7 122.2 L752.8 122.2"/></g>
<g class="hk" role="img" aria-label="PW:34.95"><title>PW:34.95</title><path d="M700.0 138.5 L700.0 147.5 M700.0 138.5 L703.8 138.5 L705.1 138.9 L705.5 139.3 L706.0 140.2 L706.0 141.5 L705.5 142.3 L705.1 142.8 L703.8 143.2 L700.0 143.2 M708.1 138.5 L710.2 147.5 M712.3 138.5 L710.2 147.5 M712.3 138.5 L714.5 147.5 M716.6 138.5 L714.5 147.5 M719.6 141.5 L719.2 141.9 L719.6 142.3 L720.0 141.9 L719.6 141.5 M719.6 146.6 L719.2 147.1 L719.6 147.5 L720.0 147.1 L719.6 146.6 M723.8 138.5 L728.5 138.5 L726.0 141.9 L727.2 141.9 L728.1 142.3 L728.5 142.8 L728.9 144.1 L728.9 144.9 L728.5 146.2 L727.7 147.1 L726.4 147.5 L725.1 147.5 L723.8 147.1 L723.4 146.6 L723.0 145.8 M735.8 138.5 L731.5 144.5 L737.9 144.5 M735.8 138.5 L735.8 147.5 M740.9 146.6 L740.4 147.1 L740.9 147.5 L741.3 147.1 L740.9 146.6 M749.8 141.5 L749.4 142.8 L748.5 143.6 L747.3 144.1 L746.8 144.1 L745.6 143.6 L744.7 142.8 L744.3 141.5 L744.3 141.1 L744.7 139.8 L745.6 138.9 L746.8 138.5 L747.3 138.5 L748.5 138.9 L749.4 139.8 L749.8 141.5 L749.8 143.6 L749.4 145.8 L748.5 147.1 L747.3 147.5 L746.4 147.5 L745.1 147.1 L744.7 146.2 M757.9 138.5 L753.6 138.5 L753.2 142.3 L753.6 141.9 L754.9 141.5 L756.2 141.5 L757.5 141.9 L758.3 142.8 L758.8 144.1 L758.8 144.9 L758.3 146.2 L757.5 147.1 L756.2 147.5 L754.9 147.5 L753.6 147.1 L753.2 146.6 L752.8 145.8"/></g>
<g class="hk" role="img" aria-label="RH:80.6"><title>RH:80.6</title><path d="M700.5 154.0 L700.5 163.0 M700.5 154.0 L704.4 154.0 L705.8 154.4 L706.2 154.8 L706.6 155.7 L706.6 156.6 L706.2 157.4 L705.8 157.8 L704.4 158.3 L700.5 158.3 M703.6 158.3 L706.6 163.0 M709.7 154.0 L709.7 163.0 M715.8 154.0 L715.8 163.0 M709.7 158.3 L715.8 158.3 M719.8 157.0 L719.3 157.4 L719.8 157.8 L720.2 157.4 L719.8 157.0 M719.8 162.1 L719.3 162.6 L719.8 163.0 L720.2 162.6 L719.8 162.1 M725.4 154.0 L724.1 154.4 L723.7 155.3 L723.7 156.1 L724.1 157.0 L725.0 157.4 L726.8 157.8 L728.1 158.3 L728.9 159.1 L729.4 160.0 L729.4 161.3 L728.9 162.1 L728.5 162.6 L727.2 163.0 L725.4 163.0 L724.1 162.6 L723.7 162.1 L723.2 161.3 L723.2 160.0 L723.7 159.1 L724.6 158.3 L725.9 157.8 L727.6 157.4 L728.5 157.0 L728.9 156.1 L728.9 155.3 L728.5 154.4 L727.2 154.0 L725.4 154.0 M734.6 154.0 L733.3 154.4 L732.4 155.7 L732.0 157.8 L732.0 159.1 L732.4 161.3 L733.3 162.6 L734.6 163.0 L735.5 163.0 L736.8 162.6 L737.7 161.3 L738.1 159.1 L738.1 157.8 L737.7 155.7 L736.8 154.4 L735.5 154.0 L734.6 154.0 M741.6 162.1 L741.2 162.6 L741.6 163.0 L742.1 162.6 L741.6 162.1 M750.8 155.3 L750.4 154.4 L749.1 154.0 L748.2 154.0 L746.9 154.4 L746.0 155.7 L745.6 157.8 L745.6 160.0 L746.0 161.7 L746.9 162.6 L748.2 163.0 L748.6 163.0 L749.9 162.6 L750.8 161.7 L751.2 160.4 L751.2 160.0 L750.8 158.7 L749.9 157.8 L748.6 157.4 L748.2 157.4 L746.9 157.8 L746.0 158.7 L745.6 160.0"/></g>
<g class="hk" role="img" aria-label="MAXT:31.3"><title>MAXT:31.3</title><path d="M699.5 169.2 L699.5 178.2 M699.5 169.2 L702.9 178.2 M706.4 169.2 L702.9 178.2 M706.4 169.2 L706.4 178.2 M711.9 169.2 L708.5 178.2 M711.9 169.2 L715.4 178.2 M709.8 175.2 L714.1 175.2 M717.1 169.2 L723.1 178.2 M723.1 169.2 L717.1 178.2 M727.8 169.2 L727.8 178.2 M724.8 169.2 L730.8 169.2 M733.4 172.2 L732.9 172.7 L733.4 173.1 L733.8 172.7 L733.4 172.2 M733.4 177.4 L732.9 177.8 L733.4 178.2 L733.8 177.8 L733.4 177.4 M737.7 169.2 L742.4 169.2 L739.8 172.7 L741.1 172.7 L742.0 173.1 L742.4 173.5 L742.8 174.8 L742.8 175.7 L742.4 177.0 L741.5 177.8 L740.2 178.2 L739.0 178.2 L737.7 177.8 L737.2 177.4 L736.8 176.5 M746.7 170.9 L747.5 170.5 L748.8 169.2 L748.8 178.2 M754.8 177.4 L754.4 177.8 L754.8 178.2 L755.2 177.8 L754.8 177.4 M759.1 169.2 L763.8 169.2 L761.2 172.7 L762.5 172.7 L763.4 173.1 L763.8 173.5 L764.2 174.8 L764.2 175.7 L763.8 177.0 L763.0 177.8 L761.7 178.2 L760.4 178.2 L759.1 177.8 L758.7 177.4 L758.2 176.5"/></g>
<g class="hk" role="img" aria-label="TH:5463"><title>TH:5463</title><path d="M703.5 184.7 L703.5 193.8 M700.5 184.7 L706.4 184.7 M708.5 184.7 L708.5 193.8 M714.5 184.7 L714.5 193.8 M708.5 189.0 L714.5 189.0 M718.3 187.7 L717.9 188.2 L718.3 188.6 L718.7 188.2 L718.3 187.7 M718.3 192.9 L717.9 193.3 L718.3 193.8 L718.7 193.3 L718.3 192.9 M726.8 184.7 L722.5 184.7 L722.1 188.6 L722.5 188.2 L723.8 187.7 L725.1 187.7 L726.3 188.2 L727.2 189.0 L727.6 190.3 L727.6 191.2 L727.2 192.5 L726.3 193.3 L725.1 193.8 L723.8 193.8 L722.5 193.3 L722.1 192.9 L721.7 192.0 M734.4 184.7 L730.1 190.7 L736.5 190.7 M734.4 184.7 L734.4 193.8 M744.1 186.0 L743.7 185.2 L742.4 184.7 L741.6 184.7 L740.3 185.2 L739.5 186.4 L739.0 188.6 L739.0 190.7 L739.5 192.5 L740.3 193.3 L741.6 193.8 L742.0 193.8 L743.3 193.3 L744.1 192.5 L744.5 191.2 L744.5 190.7 L744.1 189.4 L743.3 188.6 L742.0 188.2 L741.6 188.2 L740.3 188.6 L739.5 189.4 L739.0 190.7 M747.9 184.7 L752.6 184.7 L750.0 188.2 L751.3 188.2 L752.2 188.6 L752.6 189.0 L753.0 190.3 L753.0 191.2 L752.6 192.5 L751.7 193.3 L750.5 193.8 L749.2 193.8 L747.9 193.3 L747.5 192.9 L747.1 192.0"/></g>
<g class="hk" role="img" aria-label="L57:6.0"><title>L57:6.0</title><path d="M700.5 201.0 L700.5 210.0 M700.5 210.0 L705.8 210.0 M712.8 201.0 L708.4 201.0 L708.0 204.8 L708.4 204.4 L709.7 204.0 L711.0 204.0 L712.3 204.4 L713.2 205.3 L713.7 206.6 L713.7 207.4 L713.2 208.7 L712.3 209.6 L711.0 210.0 L709.7 210.0 L708.4 209.6 L708.0 209.1 L707.5 208.3 M722.4 201.0 L718.0 210.0 M716.3 201.0 L722.4 201.0 M725.9 204.0 L725.5 204.4 L725.9 204.8 L726.4 204.4 L725.9 204.0 M725.9 209.1 L725.5 209.6 L725.9 210.0 L726.4 209.6 L725.9 209.1 M735.2 202.3 L734.7 201.4 L733.4 201.0 L732.5 201.0 L731.2 201.4 L730.3 202.7 L729.9 204.8 L729.9 207.0 L730.3 208.7 L731.2 209.6 L732.5 210.0 L733.0 210.0 L734.3 209.6 L735.2 208.7 L735.6 207.4 L735.6 207.0 L735.2 205.7 L734.3 204.8 L733.0 204.4 L732.5 204.4 L731.2 204.8 L730.3 205.7 L729.9 207.0 M739.1 209.1 L738.7 209.6 L739.1 210.0 L739.5 209.6 L739.1 209.1 M745.2 201.0 L743.9 201.4 L743.0 202.7 L742.6 204.8 L742.6 206.1 L743.0 208.3 L743.9 209.6 L745.2 210.0 L746.1 210.0 L747.4 209.6 L748.3 208.3 L748.8 206.1 L748.8 204.8 L748.3 202.7 L747.4 201.4 L746.1 201.0 L745.2 201.0"/></g>
<g class="hk" role="img" aria-label="LCL:949"><title>LCL:949</title><path d="M700.5 216.5 L700.5 225.5 M700.5 225.5 L705.7 225.5 M713.8 218.6 L713.4 217.8 L712.5 216.9 L711.7 216.5 L709.9 216.5 L709.1 216.9 L708.2 217.8 L707.8 218.6 L707.4 219.9 L707.4 222.1 L707.8 223.3 L708.2 224.2 L709.1 225.1 L709.9 225.5 L711.7 225.5 L712.5 225.1 L713.4 224.2 L713.8 223.3 M716.8 216.5 L716.8 225.5 M716.8 225.5 L722.0 225.5 M724.6 219.5 L724.1 219.9 L724.6 220.3 L725.0 219.9 L724.6 219.5 M724.6 224.6 L724.1 225.1 L724.6 225.5 L725.0 225.1 L724.6 224.6 M733.6 219.5 L733.1 220.8 L732.3 221.6 L731.0 222.1 L730.6 222.1 L729.3 221.6 L728.4 220.8 L728.0 219.5 L728.0 219.1 L728.4 217.8 L729.3 216.9 L730.6 216.5 L731.0 216.5 L732.3 216.9 L733.1 217.8 L733.6 219.5 L733.6 221.6 L733.1 223.8 L732.3 225.1 L731.0 225.5 L730.1 225.5 L728.8 225.1 L728.4 224.2 M740.9 216.5 L736.6 222.5 L743.0 222.5 M740.9 216.5 L740.9 225.5 M750.8 219.5 L750.3 220.8 L749.5 221.6 L748.2 222.1 L747.7 222.1 L746.5 221.6 L745.6 220.8 L745.2 219.5 L745.2 219.1 L745.6 217.8 L746.5 216.9 L747.7 216.5 L748.2 216.5 L749.5 216.9 L750.3 217.8 L750.8 219.5 L750.8 221.6 L750.3 223.8 L749.5 225.1 L748.2 225.5 L747.3 225.5 L746.0 225.1 L745.6 224.2"/></g>
<g class="hk" role="img" aria-label="LI:-5.7"><title>LI:-5.7</title><path d="M702.0 232.2 L702.0 241.2 M702.0 241.2 L707.2 241.2 M709.4 232.2 L709.4 241.2 M713.2 235.2 L712.8 235.7 L713.2 236.1 L713.7 235.7 L713.2 235.2 M713.2 240.4 L712.8 240.8 L713.2 241.2 L713.7 240.8 L713.2 240.4 M717.1 237.4 L724.9 237.4 M733.2 232.2 L728.8 232.2 L728.4 236.1 L728.8 235.7 L730.1 235.2 L731.4 235.2 L732.7 235.7 L733.6 236.5 L734.0 237.8 L734.0 238.7 L733.6 240.0 L732.7 240.8 L731.4 241.2 L730.1 241.2 L728.8 240.8 L728.4 240.4 L728.0 239.5 M737.5 240.4 L737.0 240.8 L737.5 241.2 L737.9 240.8 L737.5 240.4 M747.0 232.2 L742.7 241.2 M740.9 232.2 L747.0 232.2"/></g>
<g class="hk" role="img" aria-label="SI:1.8"><title>SI:1.8</title><path d="M708.1 249.0 L707.3 248.2 L706.0 247.7 L704.2 247.7 L702.9 248.2 L702.0 249.0 L702.0 249.9 L702.4 250.7 L702.9 251.2 L703.8 251.6 L706.4 252.4 L707.3 252.9 L707.7 253.3 L708.1 254.2 L708.1 255.5 L707.3 256.3 L706.0 256.8 L704.2 256.8 L702.9 256.3 L702.0 255.5 M711.2 247.7 L711.2 256.8 M715.2 250.7 L714.7 251.2 L715.2 251.6 L715.6 251.2 L715.2 250.7 M715.2 255.9 L714.7 256.3 L715.2 256.8 L715.6 256.3 L715.2 255.9 M720.0 249.4 L720.9 249.0 L722.2 247.7 L722.2 256.8 M728.3 255.9 L727.9 256.3 L728.3 256.8 L728.8 256.3 L728.3 255.9 M734.0 247.7 L732.7 248.2 L732.3 249.0 L732.3 249.9 L732.7 250.7 L733.6 251.2 L735.4 251.6 L736.7 252.0 L737.6 252.9 L738.0 253.7 L738.0 255.0 L737.6 255.9 L737.1 256.3 L735.8 256.8 L734.0 256.8 L732.7 256.3 L732.3 255.9 L731.9 255.0 L731.9 253.7 L732.3 252.9 L733.2 252.0 L734.5 251.6 L736.2 251.2 L737.1 250.7 L737.6 249.9 L737.6 249.0 L737.1 248.2 L735.8 247.7 L734.0 247.7"/></g>
<g class="hk" role="img" aria-label="TT:41.6"><title>TT:41.6</title><path d="M703.5 263.0 L703.5 272.0 M700.5 263.0 L706.6 263.0 M710.5 263.0 L710.5 272.0 M707.5 263.0 L713.6 263.0 M716.2 266.0 L715.7 266.4 L716.2 266.8 L716.6 266.4 L716.2 266.0 M716.2 271.1 L715.7 271.6 L716.2 272.0 L716.6 271.6 L716.2 271.1 M724.0 263.0 L719.6 269.0 L726.2 269.0 M724.0 263.0 L724.0 272.0 M729.7 264.7 L730.5 264.3 L731.8 263.0 L731.8 272.0 M737.9 271.1 L737.5 271.6 L737.9 272.0 L738.4 271.6 L737.9 271.1 M747.1 264.3 L746.6 263.4 L745.3 263.0 L744.5 263.0 L743.1 263.4 L742.3 264.7 L741.8 266.8 L741.8 269.0 L742.3 270.7 L743.1 271.6 L744.5 272.0 L744.9 272.0 L746.2 271.6 L747.1 270.7 L747.5 269.4 L747.5 269.0 L747.1 267.7 L746.2 266.8 L744.9 266.4 L744.5 266.4 L743.1 266.8 L742.3 267.7 L741.8 269.0"/></g>
<g class="hk" role="img" aria-label="KI:305"><title>KI:305</title><path d="M702.0 279.0 L702.0 288.0 M708.1 279.0 L702.0 285.0 M704.2 282.8 L708.1 288.0 M711.1 279.0 L711.1 288.0 M715.0 282.0 L714.6 282.4 L715.0 282.8 L715.5 282.4 L715.0 282.0 M715.0 287.1 L714.6 287.6 L715.0 288.0 L715.5 287.6 L715.0 287.1 M719.4 279.0 L724.2 279.0 L721.6 282.4 L722.9 282.4 L723.7 282.8 L724.2 283.3 L724.6 284.6 L724.6 285.4 L724.2 286.7 L723.3 287.6 L722.0 288.0 L720.7 288.0 L719.4 287.6 L719.0 287.1 L718.5 286.3 M729.8 279.0 L728.5 279.4 L727.7 280.7 L727.2 282.8 L727.2 284.1 L727.7 286.3 L728.5 287.6 L729.8 288.0 L730.7 288.0 L732.0 287.6 L732.9 286.3 L733.3 284.1 L733.3 282.8 L732.9 280.7 L732.0 279.4 L730.7 279.0 L729.8 279.0 M741.1 279.0 L736.8 279.0 L736.3 282.8 L736.8 282.4 L738.1 282.0 L739.4 282.0 L740.7 282.4 L741.6 283.3 L742.0 284.6 L742.0 285.4 L741.6 286.7 L740.7 287.6 L739.4 288.0 L738.1 288.0 L736.8 287.6 L736.3 287.1 L735.9 286.3"/></g>
<g class="hk" role="img" aria-label="SW:N/A"><title>SW:N/A</title><path d="M707.2 296.5 L706.4 295.6 L705.1 295.2 L703.4 295.2 L702.1 295.6 L701.2 296.5 L701.2 297.4 L701.7 298.2 L702.1 298.7 L703.0 299.1 L705.5 299.9 L706.4 300.4 L706.8 300.8 L707.2 301.7 L707.2 303.0 L706.4 303.8 L705.1 304.2 L703.4 304.2 L702.1 303.8 L701.2 303.0 M709.4 295.2 L711.5 304.2 M713.7 295.2 L711.5 304.2 M713.7 295.2 L715.8 304.2 M718.0 295.2 L715.8 304.2 M721.0 298.2 L720.5 298.7 L721.0 299.1 L721.4 298.7 L721.0 298.2 M721.0 303.4 L720.5 303.8 L721.0 304.2 L721.4 303.8 L721.0 303.4 M724.8 295.2 L724.8 304.2 M724.8 295.2 L730.8 304.2 M730.8 295.2 L730.8 304.2 M741.1 293.5 L733.4 307.3 M745.8 295.2 L742.4 304.2 M745.8 295.2 L749.2 304.2 M743.7 301.2 L748.0 301.2"/></g>
<g class="hk" role="img" aria-label="EI:0.2"><title>EI:0.2</title><path d="M703.0 310.2 L703.0 319.2 M703.0 310.2 L708.6 310.2 M703.0 314.5 L706.5 314.5 M703.0 319.2 L708.6 319.2 M711.2 310.2 L711.2 319.2 M715.1 313.2 L714.6 313.7 L715.1 314.1 L715.5 313.7 L715.1 313.2 M715.1 318.4 L714.6 318.8 L715.1 319.2 L715.5 318.8 L715.1 318.4 M721.1 310.2 L719.8 310.6 L719.0 311.9 L718.5 314.1 L718.5 315.4 L719.0 317.5 L719.8 318.8 L721.1 319.2 L722.0 319.2 L723.3 318.8 L724.1 317.5 L724.6 315.4 L724.6 314.1 L724.1 311.9 L723.3 310.6 L722.0 310.2 L721.1 310.2 M728.0 318.4 L727.6 318.8 L728.0 319.2 L728.4 318.8 L728.0 318.4 M731.9 312.4 L731.9 311.9 L732.3 311.1 L732.8 310.6 L733.6 310.2 L735.3 310.2 L736.2 310.6 L736.6 311.1 L737.1 311.9 L737.1 312.8 L736.6 313.7 L735.8 314.9 L731.5 319.2 L737.5 319.2"/></g>
<g class="hk" role="img" aria-label="-PARCEL-"><title>-PARCEL-</title><path d="M698.8 331.1 L706.5 331.1 M709.9 326.0 L709.9 335.0 M709.9 326.0 L713.8 326.0 L715.1 326.4 L715.5 326.8 L716.0 327.7 L716.0 329.0 L715.5 329.8 L715.1 330.3 L713.8 330.7 L709.9 330.7 M721.1 326.0 L717.7 335.0 M721.1 326.0 L724.6 335.0 M719.0 332.0 L723.3 332.0 M726.7 326.0 L726.7 335.0 M726.7 326.0 L730.6 326.0 L731.9 326.4 L732.3 326.8 L732.7 327.7 L732.7 328.6 L732.3 329.4 L731.9 329.8 L730.6 330.3 L726.7 330.3 M729.7 330.3 L732.7 335.0 M741.8 328.1 L741.3 327.3 L740.5 326.4 L739.6 326.0 L737.9 326.0 L737.0 326.4 L736.2 327.3 L735.7 328.1 L735.3 329.4 L735.3 331.6 L735.7 332.9 L736.2 333.7 L737.0 334.6 L737.9 335.0 L739.6 335.0 L740.5 334.6 L741.3 333.7 L741.8 332.9 M744.8 326.0 L744.8 335.0 M744.8 326.0 L750.4 326.0 M744.8 330.3 L748.2 330.3 M744.8 335.0 L750.4 335.0 M752.9 326.0 L752.9 335.0 M752.9 335.0 L758.1 335.0 M760.3 331.1 L768.0 331.1"/></g>
<g class="hk" role="img" aria-label="CAPE:2767"><title>CAPE:2767</title><path d="M705.6 344.4 L705.2 343.5 L704.3 342.6 L703.5 342.2 L701.8 342.2 L700.9 342.6 L700.1 343.5 L699.7 344.4 L699.2 345.7 L699.2 347.8 L699.7 349.1 L700.1 350.0 L700.9 350.8 L701.8 351.2 L703.5 351.2 L704.3 350.8 L705.2 350.0 L705.6 349.1 M710.7 342.2 L707.3 351.2 M710.7 342.2 L714.1 351.2 M708.6 348.2 L712.8 348.2 M716.2 342.2 L716.2 351.2 M716.2 342.2 L720.0 342.2 L721.3 342.6 L721.7 343.1 L722.1 343.9 L722.1 345.2 L721.7 346.1 L721.3 346.5 L720.0 346.9 L716.2 346.9 M725.1 342.2 L725.1 351.2 M725.1 342.2 L730.6 342.2 M725.1 346.5 L728.5 346.5 M725.1 351.2 L730.6 351.2 M733.5 345.2 L733.1 345.7 L733.5 346.1 L734.0 345.7 L733.5 345.2 M733.5 350.4 L733.1 350.8 L733.5 351.2 L734.0 350.8 L733.5 350.4 M737.3 344.4 L737.3 343.9 L737.8 343.1 L738.2 342.6 L739.0 342.2 L740.7 342.2 L741.6 342.6 L742.0 343.1 L742.4 343.9 L742.4 344.8 L742.0 345.7 L741.2 346.9 L736.9 351.2 L742.9 351.2 M751.3 342.2 L747.1 351.2 M745.4 342.2 L751.3 342.2 M759.4 343.5 L758.9 342.6 L757.7 342.2 L756.8 342.2 L755.6 342.6 L754.7 343.9 L754.3 346.1 L754.3 348.2 L754.7 350.0 L755.6 350.8 L756.8 351.2 L757.2 351.2 L758.5 350.8 L759.4 350.0 L759.8 348.7 L759.8 348.2 L759.4 346.9 L758.5 346.1 L757.2 345.7 L756.8 345.7 L755.6 346.1 L754.7 346.9 L754.3 348.2 M768.2 342.2 L764.0 351.2 M762.3 342.2 L768.2 342.2"/></g>
<g class="hk" role="img" aria-label="CINH:6"><title>CINH:6</title><path d="M708.2 359.9 L707.7 359.0 L706.9 358.1 L706.0 357.7 L704.3 357.7 L703.5 358.1 L702.6 359.0 L702.2 359.9 L701.8 361.2 L701.8 363.3 L702.2 364.6 L702.6 365.5 L703.5 366.3 L704.3 366.8 L706.0 366.8 L706.9 366.3 L707.7 365.5 L708.2 364.6 M711.2 357.7 L711.2 366.8 M714.6 357.7 L714.6 366.8 M714.6 357.7 L720.6 366.8 M720.6 357.7 L720.6 366.8 M724.0 357.7 L724.0 366.8 M730.0 357.7 L730.0 366.8 M724.0 362.0 L730.0 362.0 M733.8 360.7 L733.4 361.2 L733.8 361.6 L734.3 361.2 L733.8 360.7 M733.8 365.9 L733.4 366.3 L733.8 366.8 L734.3 366.3 L733.8 365.9 M742.8 359.0 L742.4 358.1 L741.1 357.7 L740.3 357.7 L739.0 358.1 L738.1 359.4 L737.7 361.6 L737.7 363.7 L738.1 365.5 L739.0 366.3 L740.3 366.8 L740.7 366.8 L742.0 366.3 L742.8 365.5 L743.2 364.2 L743.2 363.7 L742.8 362.4 L742.0 361.6 L740.7 361.2 L740.3 361.2 L739.0 361.6 L738.1 362.4 L737.7 363.7"/></g>
<g class="hk" role="img" aria-label="LCL:949"><title>LCL:949</title><path d="M700.5 373.0 L700.5 382.0 M700.5 382.0 L705.7 382.0 M713.9 375.1 L713.5 374.3 L712.6 373.4 L711.8 373.0 L710.0 373.0 L709.2 373.4 L708.3 374.3 L707.9 375.1 L707.4 376.4 L707.4 378.6 L707.9 379.9 L708.3 380.7 L709.2 381.6 L710.0 382.0 L711.8 382.0 L712.6 381.6 L713.5 380.7 L713.9 379.9 M717.0 373.0 L717.0 382.0 M717.0 382.0 L722.2 382.0 M724.8 376.0 L724.4 376.4 L724.8 376.8 L725.2 376.4 L724.8 376.0 M724.8 381.1 L724.4 381.6 L724.8 382.0 L725.2 381.6 L724.8 381.1 M733.9 376.0 L733.5 377.3 L732.6 378.1 L731.3 378.6 L730.9 378.6 L729.6 378.1 L728.7 377.3 L728.3 376.0 L728.3 375.6 L728.7 374.3 L729.6 373.4 L730.9 373.0 L731.3 373.0 L732.6 373.4 L733.5 374.3 L733.9 376.0 L733.9 378.1 L733.5 380.3 L732.6 381.6 L731.3 382.0 L730.4 382.0 L729.1 381.6 L728.7 380.7 M741.3 373.0 L736.9 379.0 L743.4 379.0 M741.3 373.0 L741.3 382.0 M751.2 376.0 L750.8 377.3 L749.9 378.1 L748.6 378.6 L748.2 378.6 L746.9 378.1 L746.0 377.3 L745.6 376.0 L745.6 375.6 L746.0 374.3 L746.9 373.4 L748.2 373.0 L748.6 373.0 L749.9 373.4 L750.8 374.3 L751.2 376.0 L751.2 378.1 L750.8 380.3 L749.9 381.6 L748.6 382.0 L747.8 382.0 L746.5 381.6 L746.0 380.7"/></g>
<g class="hk" role="img" aria-label="CAP:0.0"><title>CAP:0.0</title><path d="M707.7 391.1 L707.2 390.3 L706.4 389.4 L705.5 389.0 L703.8 389.0 L703.0 389.4 L702.1 390.3 L701.7 391.1 L701.2 392.4 L701.2 394.6 L701.7 395.9 L702.1 396.7 L703.0 397.6 L703.8 398.0 L705.5 398.0 L706.4 397.6 L707.2 396.7 L707.7 395.9 M712.8 389.0 L709.4 398.0 M712.8 389.0 L716.2 398.0 M710.7 395.0 L714.9 395.0 M718.4 389.0 L718.4 398.0 M718.4 389.0 L722.2 389.0 L723.5 389.4 L723.9 389.8 L724.3 390.7 L724.3 392.0 L723.9 392.8 L723.5 393.3 L722.2 393.7 L718.4 393.7 M727.8 392.0 L727.3 392.4 L727.8 392.8 L728.2 392.4 L727.8 392.0 M727.8 397.1 L727.3 397.6 L727.8 398.0 L728.2 397.6 L727.8 397.1 M733.8 389.0 L732.5 389.4 L731.6 390.7 L731.2 392.8 L731.2 394.1 L731.6 396.3 L732.5 397.6 L733.8 398.0 L734.6 398.0 L735.9 397.6 L736.7 396.3 L737.2 394.1 L737.2 392.8 L736.7 390.7 L735.9 389.4 L734.6 389.0 L733.8 389.0 M740.6 397.1 L740.2 397.6 L740.6 398.0 L741.0 397.6 L740.6 397.1 M746.6 389.0 L745.3 389.4 L744.4 390.7 L744.0 392.8 L744.0 394.1 L744.4 396.3 L745.3 397.6 L746.6 398.0 L747.4 398.0 L748.7 397.6 L749.6 396.3 L750.0 394.1 L750.0 392.8 L749.6 390.7 L748.7 389.4 L747.4 389.0 L746.6 389.0"/></g>
<g class="hk" role="img" aria-label="LFC:948"><title>LFC:948</title><path d="M700.5 404.7 L700.5 413.8 M700.5 413.8 L705.7 413.8 M707.9 404.7 L707.9 413.8 M707.9 404.7 L713.5 404.7 M707.9 409.0 L711.3 409.0 M721.7 406.9 L721.3 406.0 L720.4 405.1 L719.5 404.7 L717.8 404.7 L716.9 405.1 L716.1 406.0 L715.6 406.9 L715.2 408.2 L715.2 410.3 L715.6 411.6 L716.1 412.5 L716.9 413.3 L717.8 413.8 L719.5 413.8 L720.4 413.3 L721.3 412.5 L721.7 411.6 M725.2 407.7 L724.7 408.2 L725.2 408.6 L725.6 408.2 L725.2 407.7 M725.2 412.9 L724.7 413.3 L725.2 413.8 L725.6 413.3 L725.2 412.9 M734.3 407.7 L733.8 409.0 L733.0 409.9 L731.7 410.3 L731.2 410.3 L729.9 409.9 L729.1 409.0 L728.6 407.7 L728.6 407.3 L729.1 406.0 L729.9 405.1 L731.2 404.7 L731.7 404.7 L733.0 405.1 L733.8 406.0 L734.3 407.7 L734.3 409.9 L733.8 412.0 L733.0 413.3 L731.7 413.8 L730.8 413.8 L729.5 413.3 L729.1 412.5 M741.6 404.7 L737.3 410.7 L743.8 410.7 M741.6 404.7 L741.6 413.8 M748.1 404.7 L746.8 405.1 L746.4 406.0 L746.4 406.9 L746.8 407.7 L747.7 408.2 L749.4 408.6 L750.7 409.0 L751.6 409.9 L752.0 410.7 L752.0 412.0 L751.6 412.9 L751.1 413.3 L749.8 413.8 L748.1 413.8 L746.8 413.3 L746.4 412.9 L745.9 412.0 L745.9 410.7 L746.4 409.9 L747.2 409.0 L748.5 408.6 L750.3 408.2 L751.1 407.7 L751.6 406.9 L751.6 406.0 L751.1 405.1 L749.8 404.7 L748.1 404.7"/></g>
<g class="hk" role="img" aria-label="EL:136"><title>EL:136</title><path d="M702.0 420.2 L702.0 429.2 M702.0 420.2 L707.6 420.2 M702.0 424.5 L705.4 424.5 M702.0 429.2 L707.6 429.2 M710.2 420.2 L710.2 429.2 M710.2 429.2 L715.3 429.2 M717.9 423.2 L717.5 423.7 L717.9 424.1 L718.3 423.7 L717.9 423.2 M717.9 428.4 L717.5 428.8 L717.9 429.2 L718.3 428.8 L717.9 428.4 M722.6 421.9 L723.5 421.5 L724.8 420.2 L724.8 429.2 M730.8 420.2 L735.5 420.2 L732.9 423.7 L734.2 423.7 L735.1 424.1 L735.5 424.5 L735.9 425.8 L735.9 426.7 L735.5 428.0 L734.6 428.8 L733.3 429.2 L732.1 429.2 L730.8 428.8 L730.3 428.4 L729.9 427.5 M744.1 421.5 L743.6 420.6 L742.4 420.2 L741.5 420.2 L740.2 420.6 L739.3 421.9 L738.9 424.1 L738.9 426.2 L739.3 428.0 L740.2 428.8 L741.5 429.2 L741.9 429.2 L743.2 428.8 L744.1 428.0 L744.5 426.7 L744.5 426.2 L744.1 424.9 L743.2 424.1 L741.9 423.7 L741.5 423.7 L740.2 424.1 L739.3 424.9 L738.9 426.2"/></g>
<g class="hk" role="img" aria-label="MPL:101"><title>MPL:101</title><path d="M700.5 435.5 L700.5 444.5 M700.5 435.5 L704.0 444.5 M707.5 435.5 L704.0 444.5 M707.5 435.5 L707.5 444.5 M711.0 435.5 L711.0 444.5 M711.0 435.5 L714.9 435.5 L716.2 435.9 L716.7 436.3 L717.1 437.2 L717.1 438.5 L716.7 439.3 L716.2 439.8 L714.9 440.2 L711.0 440.2 M720.2 435.5 L720.2 444.5 M720.2 444.5 L725.4 444.5 M728.0 438.5 L727.6 438.9 L728.0 439.3 L728.5 438.9 L728.0 438.5 M728.0 443.6 L727.6 444.1 L728.0 444.5 L728.5 444.1 L728.0 443.6 M732.8 437.2 L733.7 436.8 L735.0 435.5 L735.0 444.5 M742.9 435.5 L741.6 435.9 L740.7 437.2 L740.3 439.3 L740.3 440.6 L740.7 442.8 L741.6 444.1 L742.9 444.5 L743.8 444.5 L745.1 444.1 L745.9 442.8 L746.4 440.6 L746.4 439.3 L745.9 437.2 L745.1 435.9 L743.8 435.5 L742.9 435.5 M750.3 437.2 L751.2 436.8 L752.5 435.5 L752.5 444.5"/></g>
<g class="hk" role="img" aria-label="-WIND-"><title>-WIND-</title><path d="M701.2 456.6 L709.0 456.6 M711.6 451.5 L713.7 460.5 M715.9 451.5 L713.7 460.5 M715.9 451.5 L718.0 460.5 M720.2 451.5 L718.0 460.5 M722.8 451.5 L722.8 460.5 M726.2 451.5 L726.2 460.5 M726.2 451.5 L732.3 460.5 M732.3 451.5 L732.3 460.5 M735.7 451.5 L735.7 460.5 M735.7 451.5 L738.7 451.5 L740.0 451.9 L740.9 452.8 L741.3 453.6 L741.7 454.9 L741.7 457.1 L741.3 458.4 L740.9 459.2 L740.0 460.1 L738.7 460.5 L735.7 460.5 M744.7 456.6 L752.5 456.6"/></g>
<g class="hk" role="img" aria-label="NOT"><title>NOT</title><path d="M703.6 467.4 L703.6 476.4 M703.6 467.4 L709.5 476.4 M709.5 467.4 L709.5 476.4 M715.0 467.4 L714.2 467.8 L713.3 468.7 L712.9 469.5 L712.5 470.8 L712.5 473.0 L712.9 474.2 L713.3 475.1 L714.2 476.0 L715.0 476.4 L716.7 476.4 L717.6 476.0 L718.4 475.1 L718.9 474.2 L719.3 473.0 L719.3 470.8 L718.9 469.5 L718.4 468.7 L717.6 467.8 L716.7 467.4 L715.0 467.4 M723.9 467.4 L723.9 476.4 M721.0 467.4 L726.9 467.4"/></g>
<g class="hk" role="img" aria-label="AVAIL"><title>AVAIL</title><path d="M705.5 483.4 L702.1 492.4 M705.5 483.4 L708.9 492.4 M703.4 489.4 L707.6 489.4 M709.7 483.4 L713.1 492.4 M716.5 483.4 L713.1 492.4 M720.7 483.4 L717.3 492.4 M720.7 483.4 L724.0 492.4 M718.6 489.4 L722.8 489.4 M726.2 483.4 L726.2 492.4 M729.5 483.4 L729.5 492.4 M729.5 492.4 L734.6 492.4"/></g>
<g class="hp" role="img" aria-label="0.1"><title>0.1</title><path d="M137.1 523.6 L136.6 524.6 L136.8 525.8 L137.8 527.3 L138.6 528.1 L140.0 529.1 L141.3 529.3 L142.3 528.8 L142.8 528.3 L143.3 527.3 L143.0 526.1 L142.0 524.6 L141.3 523.9 L139.8 522.9 L138.6 522.6 L137.6 523.1 L137.1 523.6 M145.7 524.4 L145.7 524.9 L146.2 524.9 L146.2 524.4 L145.7 524.4 M144.7 517.9 L145.0 517.2 L145.0 515.7 L150.2 520.9"/></g>
<g class="hp" role="img" aria-label="0.2"><title>0.2</title><path d="M182.1 524.4 L181.6 525.4 L181.9 526.6 L182.9 528.1 L183.6 528.8 L185.1 529.8 L186.3 530.1 L187.3 529.6 L187.8 529.1 L188.3 528.1 L188.1 526.8 L187.1 525.4 L186.3 524.6 L184.8 523.6 L183.6 523.4 L182.6 523.9 L182.1 524.4 M190.8 525.1 L190.8 525.6 L191.3 525.6 L191.3 525.1 L190.8 525.1 M189.5 519.4 L189.3 519.2 L189.0 518.4 L189.0 517.9 L189.3 517.2 L190.3 516.2 L191.0 515.9 L191.5 515.9 L192.3 516.2 L192.8 516.7 L193.0 517.4 L193.3 518.7 L193.3 523.6 L196.7 520.2"/></g>
<g class="hp" role="img" aria-label="0.5"><title>0.5</title><path d="M247.6 524.4 L247.1 525.4 L247.3 526.6 L248.3 528.1 L249.1 528.8 L250.6 529.8 L251.8 530.1 L252.8 529.6 L253.3 529.1 L253.8 528.1 L253.5 526.8 L252.5 525.4 L251.8 524.6 L250.3 523.6 L249.1 523.4 L248.1 523.9 L247.6 524.4 M256.3 525.1 L256.3 525.6 L256.7 525.6 L256.7 525.1 L256.3 525.1 M256.5 515.5 L254.0 517.9 L256.0 520.4 L256.0 519.9 L256.5 518.9 L257.2 518.2 L258.2 517.7 L259.2 517.7 L260.2 518.2 L260.7 518.7 L261.2 519.7 L261.2 520.6 L260.7 521.6 L260.0 522.4 L259.0 522.9 L258.5 522.9 L257.7 522.6"/></g>
<g class="hp" role="img" aria-label="1"><title>1</title><path d="M305.6 522.0 L305.9 521.3 L305.9 519.8 L311.1 525.0"/></g>
<g class="hp" role="img" aria-label="1.5"><title>1.5</title><path d="M334.4 526.5 L334.6 525.7 L334.6 524.2 L339.8 529.4 M342.8 525.5 L342.8 526.0 L343.3 526.0 L343.3 525.5 L342.8 525.5 M343.1 515.8 L340.6 518.3 L342.6 520.8 L342.6 520.3 L343.1 519.3 L343.8 518.5 L344.8 518.1 L345.8 518.1 L346.8 518.5 L347.3 519.0 L347.8 520.0 L347.8 521.0 L347.3 522.0 L346.5 522.8 L345.5 523.2 L345.0 523.2 L344.3 523.0"/></g>
<g class="hp" role="img" aria-label="2"><title>2</title><path d="M362.7 523.1 L362.4 522.9 L362.2 522.1 L362.2 521.6 L362.4 520.9 L363.4 519.9 L364.2 519.7 L364.7 519.7 L365.4 519.9 L365.9 520.4 L366.2 521.1 L366.4 522.4 L366.4 527.3 L369.9 523.9"/></g>
<g class="hp" role="img" aria-label="3"><title>3</title><path d="M397.5 521.6 L400.2 518.9 L400.7 522.4 L401.4 521.6 L402.2 521.4 L402.7 521.4 L403.7 521.9 L404.1 522.4 L404.6 523.4 L404.6 524.4 L404.1 525.4 L403.4 526.1 L402.4 526.6 L401.9 526.6 L401.2 526.3"/></g>
<g class="hp" role="img" aria-label="4"><title>4</title><path d="M425.6 519.8 L426.6 525.7 L430.4 522.0 M425.6 519.8 L430.8 525.0"/></g>
<g class="hp" role="img" aria-label="6"><title>6</title><path d="M465.6 519.8 L464.9 519.5 L463.9 520.0 L463.4 520.5 L462.9 521.5 L463.2 522.8 L464.2 524.2 L465.4 525.5 L466.6 526.2 L467.6 526.2 L468.6 525.7 L468.9 525.5 L469.3 524.5 L469.3 523.5 L468.9 522.5 L468.6 522.3 L467.6 521.8 L466.6 521.8 L465.6 522.3 L465.4 522.5 L464.9 523.5 L464.9 524.5 L465.4 525.5"/></g>
<g class="hp" role="img" aria-label="8"><title>8</title><path d="M491.4 520.9 L490.9 521.9 L491.1 522.6 L491.6 523.1 L492.4 523.4 L493.1 523.1 L494.3 522.4 L495.3 521.9 L496.3 521.9 L497.1 522.1 L497.8 522.9 L498.1 523.6 L498.1 524.1 L497.6 525.1 L496.6 526.1 L495.6 526.6 L495.1 526.6 L494.3 526.3 L493.6 525.6 L493.4 524.9 L493.4 523.9 L493.8 522.9 L494.6 521.6 L494.8 520.9 L494.6 520.2 L494.1 519.7 L493.4 519.4 L492.4 519.9 L491.4 520.9"/></g>
<g class="hp" role="img" aria-label="10"><title>10</title><path d="M511.6 525.2 L511.8 524.5 L511.8 523.0 L517.0 528.2 M516.3 518.5 L515.8 519.5 L516.1 520.8 L517.0 522.3 L517.8 523.0 L519.3 524.0 L520.5 524.2 L521.5 523.7 L522.0 523.2 L522.5 522.3 L522.2 521.0 L521.2 519.5 L520.5 518.8 L519.0 517.8 L517.8 517.6 L516.8 518.1 L516.3 518.5"/></g>
<g class="hp" role="img" aria-label="12"><title>12</title><path d="M530.4 525.2 L530.7 524.5 L530.7 523.0 L535.9 528.2 M535.1 521.0 L534.9 520.8 L534.6 520.0 L534.6 519.5 L534.9 518.8 L535.9 517.8 L536.6 517.6 L537.1 517.6 L537.9 517.8 L538.3 518.3 L538.6 519.0 L538.8 520.3 L538.8 525.2 L542.3 521.8"/></g>
<g class="hp" role="img" aria-label="15"><title>15</title><path d="M553.9 525.2 L554.2 524.5 L554.2 523.0 L559.4 528.2 M560.1 517.1 L557.7 519.5 L559.6 522.0 L559.6 521.5 L560.1 520.5 L560.9 519.8 L561.9 519.3 L562.9 519.3 L563.8 519.8 L564.3 520.3 L564.8 521.3 L564.8 522.3 L564.3 523.2 L563.6 524.0 L562.6 524.5 L562.1 524.5 L561.4 524.2"/></g>
<g class="hp" role="img" aria-label="20"><title>20</title><path d="M585.1 525.6 L584.9 525.4 L584.6 524.6 L584.6 524.1 L584.9 523.4 L585.9 522.4 L586.6 522.1 L587.1 522.1 L587.9 522.4 L588.4 522.9 L588.6 523.6 L588.9 524.9 L588.9 529.8 L592.3 526.3 M590.1 518.2 L589.6 519.2 L589.8 520.4 L590.8 521.9 L591.6 522.6 L593.1 523.6 L594.3 523.9 L595.3 523.4 L595.8 522.9 L596.3 521.9 L596.0 520.6 L595.0 519.2 L594.3 518.4 L592.8 517.4 L591.6 517.2 L590.6 517.7 L590.1 518.2"/></g>
<g class="hp" role="img" aria-label="25"><title>25</title><path d="M609.8 525.6 L609.6 525.4 L609.3 524.6 L609.3 524.1 L609.6 523.4 L610.5 522.4 L611.3 522.1 L611.8 522.1 L612.5 522.4 L613.0 522.9 L613.3 523.6 L613.5 524.9 L613.5 529.8 L617.0 526.3 M616.2 516.7 L613.8 519.2 L615.7 521.6 L615.7 521.1 L616.2 520.2 L617.0 519.4 L618.0 518.9 L619.0 518.9 L619.9 519.4 L620.4 519.9 L620.9 520.9 L620.9 521.9 L620.4 522.9 L619.7 523.6 L618.7 524.1 L618.2 524.1 L617.5 523.9"/></g>
<g class="hp" role="img" aria-label="30"><title>30</title><path d="M629.3 524.1 L632.0 521.4 L632.5 524.9 L633.3 524.1 L634.0 523.9 L634.5 523.9 L635.5 524.4 L636.0 524.9 L636.5 525.8 L636.5 526.8 L636.0 527.8 L635.2 528.6 L634.3 529.1 L633.8 529.1 L633.0 528.8 M635.2 518.2 L634.8 519.2 L635.0 520.4 L636.0 521.9 L636.7 522.6 L638.2 523.6 L639.5 523.9 L640.4 523.4 L640.9 522.9 L641.4 521.9 L641.2 520.6 L640.2 519.2 L639.5 518.4 L638.0 517.4 L636.7 517.2 L635.7 517.7 L635.2 518.2"/></g>
<g class="hp" role="img" aria-label="40"><title>40</title><path d="M664.2 522.1 L665.2 528.1 L668.9 524.4 M664.2 522.1 L669.4 527.3 M668.2 518.2 L667.7 519.2 L667.9 520.4 L668.9 521.9 L669.6 522.6 L671.1 523.6 L672.4 523.9 L673.4 523.4 L673.9 522.9 L674.3 521.9 L674.1 520.6 L673.1 519.2 L672.4 518.4 L670.9 517.4 L669.6 517.2 L668.7 517.7 L668.2 518.2"/></g>
<path class="hpp" d="M664.5 523.5 H673 M665.5 521.5 H672.5 M667.5 519.5 L665.5 521.5 L665.5 524.5 L667.5 525.5 L671.5 525.5 L673.5 523.5 L673.5 520.5 L671.5 518.5 L668.5 518.5 M663.5 520.5 V526.5"/>
<g class="hp" role="img" aria-label="(g/kg)"><title>(g/kg)</title><path d="M677.2 517.1 L676.5 517.9 L675.8 519.0 L675.1 520.5 L674.8 522.4 L674.8 523.9 L675.1 525.8 L675.8 527.2 L676.5 528.4 L677.2 529.1 M683.3 521.2 L683.3 527.2 L682.9 528.4 L682.6 528.8 L681.9 529.1 L680.9 529.1 L680.2 528.8 M683.3 522.4 L682.6 521.6 L681.9 521.2 L680.9 521.2 L680.2 521.6 L679.5 522.4 L679.2 523.5 L679.2 524.2 L679.5 525.4 L680.2 526.1 L680.9 526.5 L681.9 526.5 L682.6 526.1 L683.3 525.4 M691.4 517.1 L685.3 529.1 M693.4 518.6 L693.4 526.5 M696.8 521.2 L693.4 525.0 M694.8 523.5 L697.1 526.5 M702.9 521.2 L702.9 527.2 L702.5 528.4 L702.2 528.8 L701.5 529.1 L700.5 529.1 L699.8 528.8 M702.9 522.4 L702.2 521.6 L701.5 521.2 L700.5 521.2 L699.8 521.6 L699.1 522.4 L698.8 523.5 L698.8 524.2 L699.1 525.4 L699.8 526.1 L700.5 526.5 L701.5 526.5 L702.2 526.1 L702.9 525.4 M705.2 517.1 L705.9 517.9 L706.6 519.0 L707.3 520.5 L707.6 522.4 L707.6 523.9 L707.3 525.8 L706.6 527.2 L705.9 528.4 L705.2 529.1"/></g>
</svg>
</body></html>
